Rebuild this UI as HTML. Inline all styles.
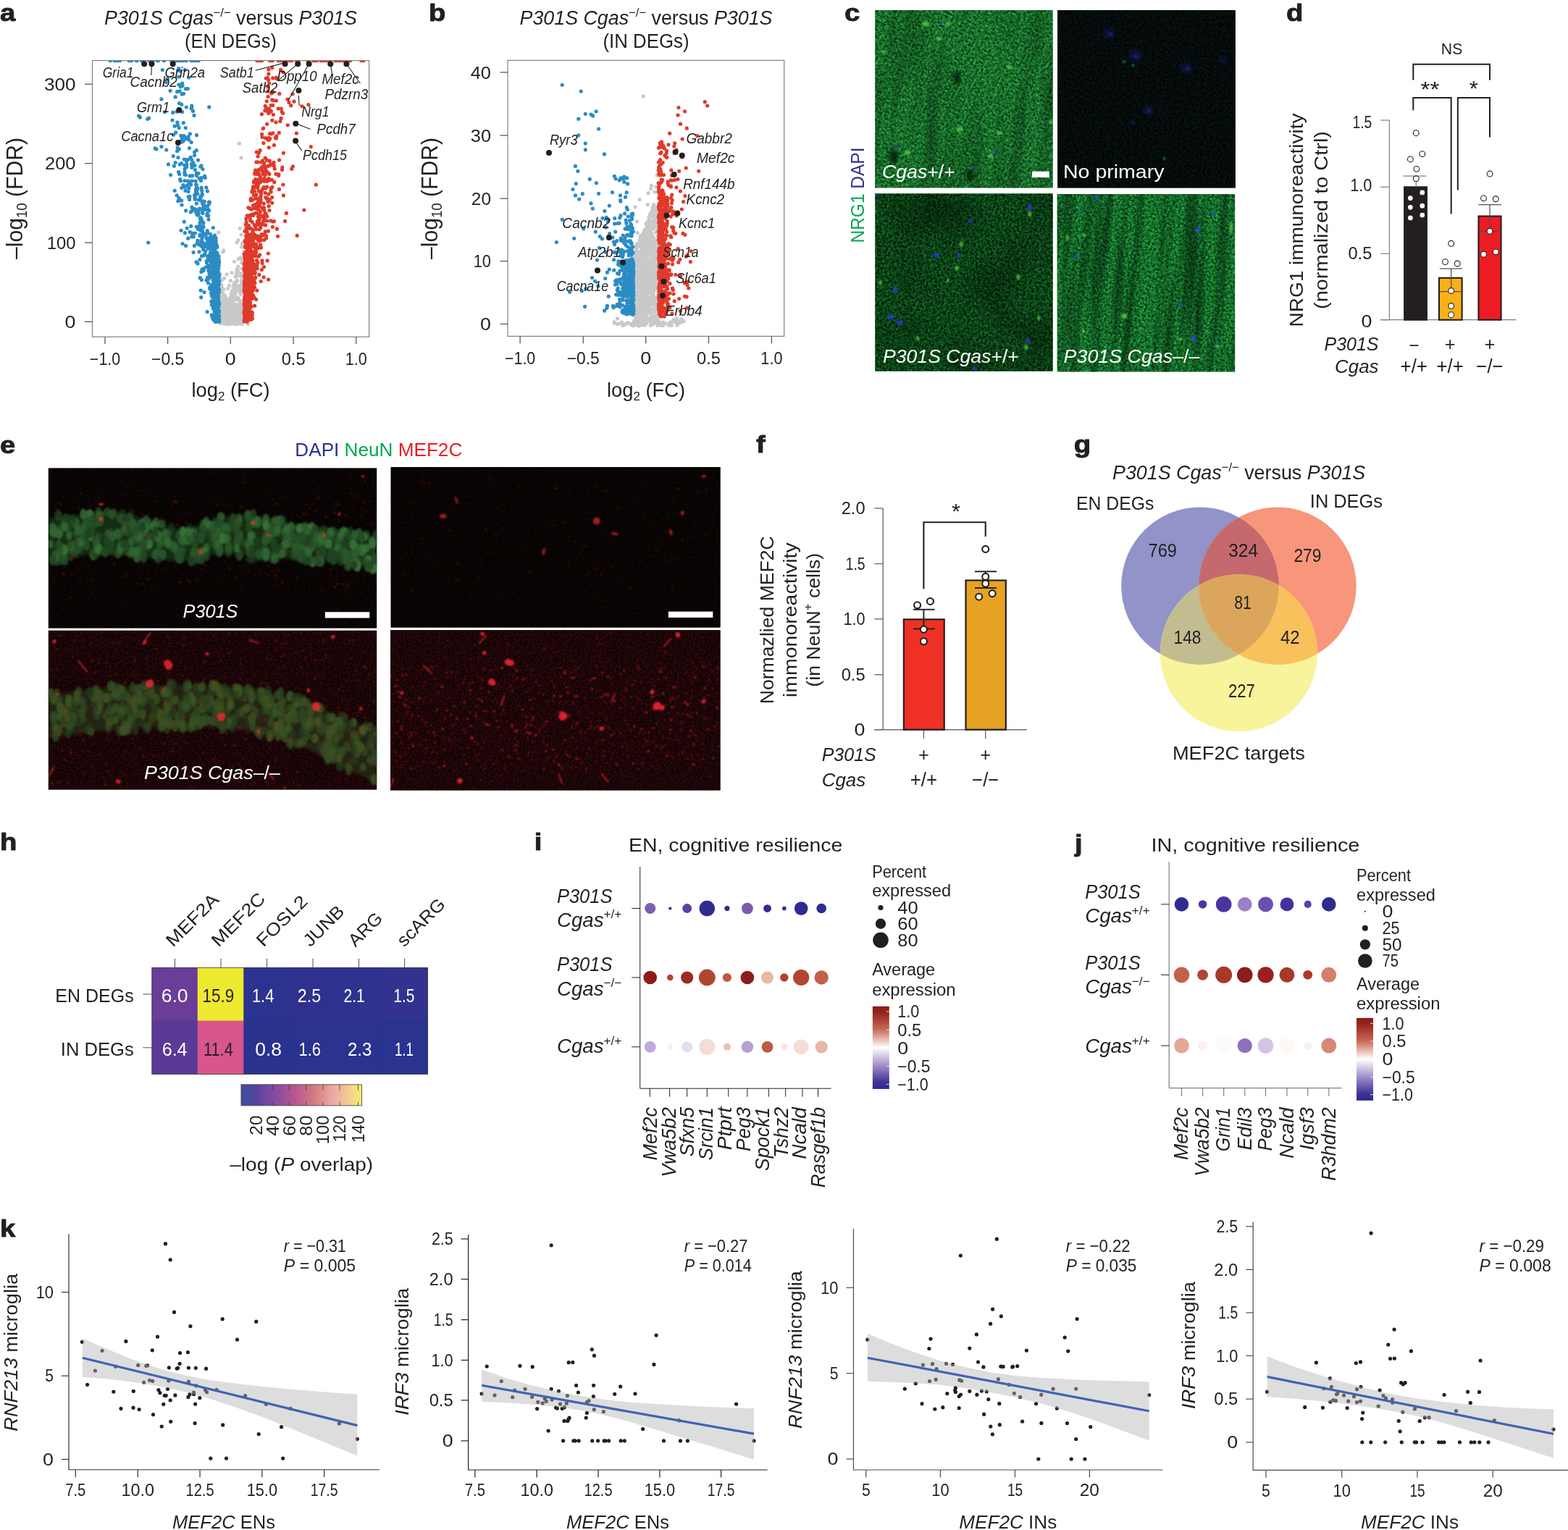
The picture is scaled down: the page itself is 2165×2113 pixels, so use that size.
<!DOCTYPE html>
<html lang="en"><head><meta charset="utf-8"><title>Figure</title>
<style>
html,body{margin:0;padding:0;background:#fff}
body{width:2165px;height:2113px;overflow:hidden}
svg{display:block}
text{font-family:"Liberation Sans",sans-serif}
</style></head><body>
<svg width="2165" height="2113" viewBox="0 0 2165 2113" fill="#231f20">
<rect width="2165" height="2113" fill="#fff"/>
<clipPath id="ca"><rect x="127.5" y="83.6" width="382.1" height="381.6"/></clipPath><g clip-path="url(#ca)">
<path d="M318.7 410.1h0M320.5 439.2h0M313.8 425.6h0M326.5 420.8h0M304.4 442.7h0M310.1 447.1h0M319 424.7h0M320.8 423.6h0M325.5 428.2h0M336.4 347.8h0M314.2 439.9h0M306.2 422.5h0M331.5 421.5h0M331.5 442.1h0M333.6 340.9h0M306.3 398.9h0M306.7 421.3h0M328.6 441.1h0M307.2 425.9h0M309.7 428.8h0M310.1 442.5h0M324.9 436.3h0M310.8 421.1h0M330.1 423.5h0M310.8 424.3h0M324.8 420.6h0M310.9 426.6h0M314.6 445.9h0M306.8 433.4h0M323.5 435.4h0M335.2 382h0M309.9 422.9h0M330.6 442.7h0M328 431.2h0M334.9 379.3h0M307.3 421.4h0M311.7 438.4h0M330.8 419.3h0M309.6 445h0M311.3 415.5h0M313 441.1h0M304.4 435.6h0M305.9 437.7h0M322.6 437.9h0M333 377.7h0M323 446.9h0M304.5 387.9h0M304.6 407.3h0M314.3 445.7h0M321.7 401.3h0M326.9 375.3h0M326.2 382.1h0M329.7 394.9h0M316.4 426.7h0M306.5 386.8h0M327.7 427.6h0M322.8 424.8h0M306.6 446.1h0M323.5 434.5h0M326.7 399.8h0M312.2 439.6h0M326 443.2h0M333.4 399.9h0M314.6 441.9h0M318 412.5h0M316.4 436.8h0M308.3 405.6h0M327.1 425.6h0M309.4 435.8h0M310.9 430.7h0M320 424.8h0M335.9 439.1h0M304.9 444.6h0M327 423.1h0M329.7 444.2h0M318.7 425h0M311.6 446.6h0M324.4 430.5h0M325.3 381.5h0M310.4 440.6h0M312.8 428.7h0M320.9 411h0M329.7 439.8h0M334.3 433.4h0M318.7 410.6h0M322.5 404.5h0M319 439.3h0M327.4 395.1h0M310.9 409.2h0M321.4 431.6h0M318.3 417.5h0M319.8 425.6h0M306 436.5h0M314.8 443.5h0M308.7 413.1h0M326.4 410.3h0M306.7 433.4h0M313.4 427.2h0M321 420.4h0M314.1 424.6h0M333.3 424.4h0M321.4 417.3h0M304.8 405.9h0M330 401.6h0M306 421h0M335.1 417.1h0M319.3 435.9h0M330.5 402h0M329.3 442.5h0M311.3 435.6h0M315.5 444.5h0M327.7 433.8h0M312.1 433.3h0M318.1 436.5h0M321.2 442.3h0M324.5 413.8h0M323.9 433.9h0M328.1 371.1h0M314.2 441.3h0M336.5 431.9h0M311.7 438.3h0M307.1 423.4h0M329.7 436.8h0M326.2 442.4h0M320.4 424.2h0M326.3 446h0M307.4 432.7h0M320.7 440.8h0M309.9 424.7h0M336.2 436.6h0M305.9 417.1h0M328.8 435h0M320.7 431.3h0M318.7 431.3h0M310.3 433.8h0M304.4 378.5h0M332 406.2h0M320.3 410.1h0M333.6 362.9h0M317.1 415.6h0M328.9 411.7h0M306.2 435h0M304.2 430.3h0M324.3 421.9h0M325.6 429.7h0M322.5 426.7h0M336.5 364.1h0M335.9 430.9h0M328 436.8h0M305.5 437.5h0M307.1 422.9h0M321.8 397.4h0M323.4 445.3h0M334.2 434.9h0M309.4 420.9h0M305.8 419.2h0M321.1 429.8h0M313.2 429.5h0M313.1 438.1h0M304.4 446.7h0M309 429.7h0M333.2 442.5h0M336.2 439.2h0M333.4 434.7h0M335.6 433.5h0M334.5 395.3h0M330.5 436.8h0M324.3 435.1h0M305.6 439.1h0M318.3 429.8h0M312.4 433.2h0M329.3 357.4h0M327.9 444.8h0M333 381h0M312.8 428.6h0M312 414.8h0M305.2 440.4h0M317.8 444h0M321.6 445.5h0M326 401.4h0M319.5 438.4h0M328.2 441.5h0M307.8 414.4h0M310.9 440.8h0M330.3 429.9h0M336.2 432.8h0M328.2 411.2h0M307.1 443.3h0M306.6 418.3h0M326.3 426.5h0M306.4 429.6h0M306.6 427.9h0M326.5 444h0M315.6 435.9h0M307.7 417h0M334.6 398.6h0M313.8 436.9h0M334.4 420.1h0M315.7 437.9h0M316.8 442.5h0M322.3 418.8h0M331.2 430.3h0M328.7 423.2h0M304.6 402.3h0M321.7 443.5h0M324.6 427.3h0M325.1 441.8h0M328.9 380h0M314.9 426.9h0M320 415h0M333.7 425.1h0M325.6 390.1h0M332.9 379.6h0M327.1 414h0M308.7 399.7h0M309.4 436.2h0M313.4 446h0M314 430h0M329.2 446.2h0M307.4 441.9h0M311.6 425.6h0M311.2 440.2h0M309.5 434.3h0M321.8 422.9h0M312.4 415.8h0M321.8 422.8h0M311.1 421.8h0M330 433.4h0M320.7 420.6h0M325.3 447.6h0M319.3 425.9h0M327.2 435.2h0M309 440.7h0M332.3 381.4h0M312.6 442.7h0M329 425.3h0M331.5 439.6h0M312.7 444.6h0M319.6 405.8h0M331.9 426.1h0M317.5 444.5h0M330.9 432.9h0M321 425h0M314.1 445.8h0M313.9 425.7h0M315.6 444.4h0M316.8 413.3h0M325.2 437.5h0M327.1 432.3h0M318.8 420.6h0M330 430.9h0M313.4 433h0M313.6 437.1h0M325.6 442.4h0M327.8 421.8h0M322.3 430.1h0M330.9 444h0M317 426.3h0M306.8 443.6h0M307.9 445.9h0M333.9 433.8h0M325 392.3h0M314.7 447.5h0M317 412.2h0M325.4 446.6h0M314.7 430h0M307.4 433.9h0M328.9 399.1h0M320.2 428.2h0M336.1 363.5h0M310.3 422.2h0M310.4 441.2h0M322.7 429.7h0M334.2 435.1h0M307.9 440.7h0M333.4 387.1h0M312.5 413.4h0M323.5 425.2h0M313.3 440.1h0M322.6 437.7h0M321.8 447h0M309.8 408h0M313.9 425.2h0M316.3 419.9h0M304.4 435h0M308.6 432.2h0M309.6 436.5h0M322.4 430.2h0M305.1 436.8h0M335.2 394h0M324.2 400.2h0M319.7 410.4h0M317.2 432.3h0M333.4 390.9h0M333.4 446.4h0M327.6 387.3h0M328.4 431.5h0M306.2 435.6h0M320.3 446.5h0M326.6 429.4h0M313.9 441.4h0M306.1 386.1h0M332.2 425.7h0M311.1 426h0M333.4 426.1h0M311.9 438.9h0M305.9 393.7h0M315.5 446.4h0M304.9 423.3h0M320.2 402.7h0M310.6 422.5h0M333.2 424.8h0M315.5 442.3h0M332.6 426.6h0M324.5 423.6h0M305.5 427.9h0M314.1 421.5h0M327.2 428.7h0M334.5 445.7h0M311.2 428.3h0M310.3 441.4h0M325.6 421.4h0M313.7 426.9h0M312.9 444.9h0M336 433.3h0M321.2 431.4h0M313.2 425.8h0M306.7 427.1h0M311.9 432.8h0M319 431.8h0M334.2 427.9h0M322 428.9h0M325.4 411.7h0M331.5 395.4h0M309.6 440.8h0M323.7 435.8h0M319.9 431.9h0M320.2 431.4h0M308.9 434.2h0M318.1 440.7h0M329.9 422.9h0M308.7 446.7h0M314.2 432h0M312.5 444.8h0M330.7 440.9h0M309.1 409.7h0M305.9 437.9h0M311 446.3h0M318.8 446.3h0M311.7 442.7h0M316.7 436.2h0M306.4 420.4h0M328.8 427.6h0M312.2 439.3h0M319 432.6h0M314.9 428.8h0M305.2 430h0M305.8 428.7h0M332.1 355.9h0M316.7 434.3h0M329.4 438.3h0M309.9 441h0M310.5 435h0M314 420.5h0M326.1 432.7h0M316.4 428.8h0M315.7 447.4h0M309.8 437.1h0M334 418.2h0M315.7 422.1h0M315.6 424h0M333.5 439h0M316.4 423.6h0M314.5 432.2h0M305.7 441.3h0M305.2 431.5h0M304.9 436.2h0M321.6 428.4h0M312.4 424.5h0M308.7 440.2h0M327.1 437.2h0M332.1 439.8h0M315.2 446.8h0M304.7 401.1h0M335.7 429.4h0M333.9 428.9h0M324.5 436.1h0M316.7 437.3h0M314.6 439.4h0M309.1 434.8h0M309.3 437.2h0M306.9 436.3h0M308.8 414.4h0M326.7 437.1h0M315.8 436.8h0M305.7 407h0M314.5 447.3h0M315.2 429.8h0M312.4 441.4h0M319.2 407h0M322.7 405.2h0M324.1 436.4h0M312.9 418.3h0M316.4 446.6h0M308.3 432.3h0M315.7 442.9h0M310.2 429.1h0M311.6 432.9h0M316.7 434.3h0M325.1 405.3h0M331 415h0M332.8 428.2h0M326.6 373.1h0M309.1 425.3h0M322.3 440h0M328.3 427.4h0M312 443h0M320.7 446.2h0M306.1 428.5h0M307.6 405.3h0M312.2 419.5h0M316.7 438.9h0M327.2 438.7h0M328.7 375.1h0M317.6 424.3h0M331 435.5h0M316.2 440h0M309.9 431.8h0M334.6 432.8h0M326.3 430.5h0M327.2 446.7h0M314.7 432.9h0M319.7 439.4h0M330 421.2h0M316.7 420.7h0M335.9 428.8h0M321.7 440.3h0M309.6 422.2h0M312.1 443.6h0M314.5 432.3h0M308.6 434.4h0M311.3 434h0M312.4 446.1h0M333 445.7h0M332.2 404.7h0M316.8 432.7h0M325.3 428.6h0M334.5 336.1h0M331.1 430.5h0M304.8 444.6h0M306.3 427.1h0M314 447.6h0M310.8 447.5h0M321.1 408.6h0M316.9 417.9h0M328.9 438.9h0M334.9 428.5h0M312.1 447.1h0M322.7 437.2h0M315.9 420.5h0M315.8 436.1h0M313 437.2h0M307 427.5h0M310.8 426.3h0M326.1 445h0M308.6 436h0M304.2 411.9h0M321.4 437.5h0M332.6 427.1h0M307.4 423.8h0M335.3 436.6h0M326.9 440.4h0M326 424.1h0M309.9 420.6h0M308.7 429.7h0M324.9 430.9h0M332.9 380.9h0M322.4 424.8h0M326.4 397h0M316.4 431.3h0M322.6 446.1h0M324.4 431.5h0M323.3 439.2h0M319.2 416.3h0M327.9 413.9h0M308 422.2h0M311.5 423.5h0M334.5 358.3h0M336.3 423.9h0M327.1 425.6h0M313 445.4h0M322 422h0M311.8 416.4h0M315.8 446.9h0M315.2 421.3h0M307.7 437.2h0M336.1 430.6h0M332.5 427.2h0M325.7 447.5h0M315 430.5h0M313 424.6h0M309.8 428.8h0M319.1 444.7h0M336.3 360.4h0M314 443.9h0M324.5 425.3h0M317.2 429.2h0M334.6 428.5h0M311.6 437.2h0M332.4 424.3h0M326 379h0M317.6 435.7h0M335 428.7h0M325.8 436.6h0M308.2 435h0M317.6 425.3h0M333.1 437.9h0M316.1 425h0M315.1 417.8h0M304.7 408.8h0M319.1 429.4h0M323.7 390.2h0M316.8 424.6h0M326.8 442.7h0M319 429.8h0M311 439.7h0M316 437h0M328.1 443.3h0M325.1 397.4h0M319.2 424.2h0M334.7 445.2h0M315.4 430.6h0M307.5 431.2h0M320.4 432.2h0M308.1 433.8h0M313.5 440h0M317.4 441.9h0M318.6 429.2h0M331.6 424.5h0M309 423.3h0M317.2 416.1h0M317.4 443.7h0M321.2 444.9h0M313.7 427.7h0M331.5 436.4h0M306.5 444.8h0M333.9 434.4h0M325.2 382.5h0M320.2 429.5h0M313.7 439.7h0M315.9 434.8h0M315.6 435.5h0M305.5 443.5h0M321.1 428h0M311.2 437.6h0M314.2 440.9h0M328.3 447.1h0M317.2 447.6h0M323.3 426.9h0M323.4 439.6h0M323.8 429h0M306.9 440.5h0M329.9 424.2h0M317 429.2h0M306.7 397.6h0M314.3 424.3h0M324.8 426.8h0M305.5 407.7h0M324.7 422.1h0M328.5 447.4h0M327.9 429.2h0M336 439.1h0M329.4 427.2h0M316.2 435.9h0M307.7 427.6h0M306.2 424.9h0M325.6 439.8h0M307.8 421.6h0M322.2 436.6h0M332.4 444.6h0M318 429.3h0M334.2 371.2h0M329.3 427.4h0M309.3 438.9h0M315.2 438.3h0M323.2 425.7h0M322.6 428.2h0M322.9 392.8h0M326.6 440.7h0M327.7 426.4h0M306 423.1h0M327.3 430.9h0M322.2 399.4h0M319.8 427.1h0M307.2 424.5h0M305 403.5h0M314.8 421.7h0M328.8 439.2h0M329.5 442.4h0M321.3 441.8h0M328.8 368.1h0M326.4 421.7h0M327.3 424.3h0M327.6 441h0M304.6 426.5h0M313.5 444.3h0M319.7 440h0M313 418.6h0M309.1 408.7h0M321.6 420.4h0M325.4 393.4h0M305.7 422.5h0M329.6 435.4h0M301.8 320.8h0M331.3 315.3h0M333 324.1h0M330.4 198.2h0M333 217.9h0M328.7 331.7h0M327 335h0M342.6 447.7h0M333.9 447.7h0M309.6 384.2h0M313.1 378.8h0M320 376.6h0M307.9 348.1h0M308.8 345.9h0M323.5 361.3h0M314.8 398.5h0M316.6 394.1h0M318.3 387.5h0" stroke="#c8c9cb" stroke-width="5.2" stroke-linecap="round" fill="none"/>
<path d="M297.3 400.6h0M293 332.9h0M299.7 377.5h0M296.6 417h0M297.5 431.4h0M302.2 366.8h0M298.7 337.9h0M301.8 377.6h0M294.3 327.6h0M299.8 341.4h0M302.2 365.7h0M300 440.9h0M289.9 328.3h0M292 343.3h0M302.2 382.8h0M301.2 382.1h0M299.7 382.2h0M301.2 385.4h0M298.6 361.1h0M302.2 387h0M298.1 386.9h0M291.6 329.5h0M301.1 428.5h0M297.7 404.7h0M287.5 333.5h0M287.8 332.2h0M290.3 343h0M300.4 442h0M296.5 374.6h0M297.1 372h0M298.2 334.1h0M294.5 383.1h0M302.3 440.6h0M289.7 341.7h0M302.7 441.6h0M293.8 346.4h0M297.8 383h0M294.3 354.9h0M302.5 444.3h0M291.6 350.6h0M296.8 345.9h0M300.3 404.8h0M299 442.6h0M298.9 413.4h0M299.9 382.2h0M298.3 364.7h0M297 416.7h0M301.9 423.6h0M299.6 414.5h0M298.8 351.8h0M298.5 416.3h0M299.3 413.7h0M296.9 414.3h0M301.4 422.6h0M300.5 408.8h0M295.9 358.6h0M296.4 351h0M298.7 435.1h0M301.4 415.5h0M295 395.4h0M300.1 400.6h0M288.2 336.8h0M301.8 398.7h0M293.8 351.1h0M297 404.4h0M300.6 399.6h0M296 374.3h0M296 388.2h0M300.4 442.8h0M302.4 399.5h0M298 336.3h0M297.2 420.1h0M287.5 330.9h0M296 404h0M298.6 427.7h0M296.7 332.7h0M298.9 428.4h0M292 340.1h0M293.5 332.2h0M301.9 400.4h0M296.4 412.1h0M301.9 435.9h0M302.5 403.3h0M301.5 408.1h0M299.8 429.9h0M297.8 380.6h0M297.2 354.3h0M298 332.5h0M302.4 418.1h0M297.4 407.8h0M293.5 335.2h0M300.9 425.5h0M300.2 377.2h0M291.7 350.7h0M297.9 390.1h0M295.9 344.4h0M296.9 421.9h0M298.1 328.9h0M298.6 354.3h0M302 438.3h0M298.3 424h0M302.7 419.4h0M297.7 418.4h0M297.2 385.4h0M301.3 389.4h0M301.3 442.6h0M301.5 439.5h0M299.4 371.3h0M297.6 388.5h0M300.3 406.9h0M293.6 340h0M298.5 395.1h0M300.1 390h0M296.9 336.4h0M289.1 333.8h0M298.5 340.2h0M294.3 384.3h0M301.7 410.3h0M300.4 358.9h0M301.4 375.4h0M295.6 332.5h0M299 432.9h0M298.7 403.4h0M294.9 385.7h0M299.6 383.6h0M300.4 444.2h0M298.9 412.6h0M298.4 369.7h0M300.1 433.8h0M297.4 387.5h0M295.1 329.8h0M302.2 392.1h0M299.5 349.9h0M292.6 346.4h0M296.7 414.3h0M299.2 384.9h0M294.3 378.8h0M298.7 386.5h0M296.9 410.1h0M299.9 385h0M301.5 421.2h0M292.4 345.8h0M287.2 328.8h0M294.9 363.5h0M294.6 360.3h0M300.1 349.7h0M298.4 348.1h0M296.7 415.6h0M300.3 441.7h0M297 403.9h0M294.3 372.3h0M291.7 334.2h0M299.3 436.8h0M297.3 431.5h0M297 341.4h0M298.5 422.4h0M292.5 354.8h0M301.7 370.8h0M302.3 358.5h0M291.9 341.9h0M292.9 351.6h0M294.3 377.2h0M298.1 368.9h0M300.1 399h0M302 441.7h0M299.6 350.4h0M295.3 367.2h0M297.7 362.3h0M300.9 407.1h0M298.8 422.3h0M293.4 363.3h0M296.1 405.3h0M296.3 336.7h0M291.5 331.9h0M289.3 330.7h0M300.8 405h0M298.6 382.7h0M298.4 440.2h0M298.7 381.1h0M300.3 356.4h0M299.2 420.9h0M300.7 415.9h0M302.6 436.1h0M298.9 402.4h0M291.3 332.3h0M299.6 395.4h0M299.7 416.6h0M297.3 331.1h0M297.3 393.2h0M296.9 354.3h0M293.8 368.6h0M297 337.8h0M294 380.5h0M301.2 382h0M302.1 353.9h0M299.6 426.6h0M297.9 412.2h0M299.6 358.5h0M295.8 353.8h0M298.2 361h0M302 393.3h0M294.8 388.3h0M299.5 339.4h0M301.4 436h0M298.5 362.3h0M300.4 429.3h0M296 376.7h0M297.7 396.8h0M296.7 363.9h0M299.2 438.9h0M302.5 429.2h0M302.7 388.4h0M300.7 435.8h0M302 389h0M288.6 331.7h0M297.9 386.9h0M295.8 407.1h0M301.1 430.2h0M297.2 418.3h0M299.3 384.3h0M295.9 397.3h0M297.5 414h0M298.3 360.7h0M299.5 401.2h0M300.3 390.9h0M298.9 370.7h0M297.3 408.5h0M298.9 390.6h0M295.2 340.5h0M296 400h0M288.8 329h0M297.6 397h0M299.8 356.9h0M293.1 358.9h0M296.3 366.9h0M297.6 393h0M297.8 417.7h0M294.1 380.7h0M297.6 404h0M300.8 442.4h0M300 353.9h0M300.8 371.9h0M295.1 397.3h0M297.1 421.2h0M299.8 437.3h0M292.4 347.4h0M298.3 398.2h0M295.1 360.3h0M296.8 356.2h0M298.1 414.7h0M297.9 378.1h0M296.5 327.8h0M298.9 352.2h0M293.1 358.6h0M298.9 412h0M298.5 382h0M299 424.7h0M292.4 338.8h0M297.2 410.2h0M301.7 394.8h0M298.5 372.8h0M294.1 381.8h0M294.2 377.1h0M297.2 402.7h0M301.2 435.5h0M295.9 362.6h0M297.2 346.5h0M300.4 412.1h0M302.6 380.9h0M297.8 400.1h0M301 426.8h0M289.9 341.3h0M301.7 414.9h0M302.4 430.5h0M294.2 350.6h0M299.5 413.2h0M302.6 362.2h0M292.2 347.6h0M298.3 419.4h0M299.5 361.8h0M297.9 340.6h0M300.2 388.4h0M296.2 392.2h0M297.3 377.1h0M295.4 327.8h0M298.8 418.1h0M297.1 426.7h0M299.6 404.1h0M296.2 393.5h0M291.7 336.3h0M295.3 423.4h0M290.9 357.8h0M272.3 336.2h0M294.6 416.6h0M291.7 416.4h0M294.8 438.6h0M292.9 436.7h0M289 377.8h0M297.1 432.7h0M277.2 401.1h0M281.8 370.9h0M297.2 436.7h0M295.1 441.8h0M295.6 422.8h0M285.4 362.7h0M292.9 404.9h0M292.5 409h0M293.3 400.8h0M294.8 413.9h0M295.9 412.4h0M292 406.4h0M295.5 411.5h0M284.3 340.7h0M292 381.7h0M277.1 335.7h0M286.7 368.1h0M288.2 359.6h0M292.5 393.8h0M290.8 382.6h0M289.8 379.6h0M275 347.8h0M296.2 417h0M295.5 407.5h0M283.6 346.8h0M295 409.4h0M274.8 338h0M285.2 360.6h0M287.9 353.2h0M291.2 395.7h0M252 336.5h0M272.9 332h0M296.7 435.3h0M279 325.4h0M292 381.3h0M283.1 338.8h0M284.1 323.1h0M284.6 322.7h0M295.3 426.2h0M292.3 366h0M277.9 375.5h0M287.7 391h0M288.3 371.9h0M294.7 423.2h0M278.8 334.1h0M294.3 417.8h0M291.5 377.8h0M287.8 373.6h0M297.3 442.2h0M291.4 363.9h0M293.7 435.5h0M282.1 403.5h0M293.1 375.9h0M291.2 366.4h0M280.7 344.6h0M291.1 351.5h0M294 440.2h0M296.2 427.2h0M297.4 440.7h0M278.3 386.4h0M294.3 405h0M288 343h0M287.3 366.6h0M286 329.8h0M290.9 375.4h0M287.5 343.5h0M291.1 356.8h0M276.2 383.7h0M295 415h0M278.2 332h0M297 436.3h0M294.9 415.3h0M280.2 340.9h0M276 324.4h0M290.2 367.5h0M288 356.5h0M295.9 437.2h0M291.6 397.3h0M297.6 438.4h0M281.2 324h0M294.8 404h0M279.1 371.8h0M294.4 422.3h0M286.5 383.2h0M292.1 375.2h0M292.3 421.2h0M292.2 434.8h0M297.3 440.3h0M285 387.1h0M285 368.5h0M282.7 351.2h0M293.3 438.1h0M296.3 426.3h0M297.6 439.8h0M284.5 336.9h0M297.2 433.8h0M282.2 340.7h0M286.6 332.1h0M296.2 430.6h0M296.1 421h0M293 419.8h0M296.1 423.8h0M291.3 378.8h0M294.3 426.1h0M291.5 382.2h0M294.1 386.3h0M291.9 369h0M295.4 403.3h0M281 335.6h0M291.4 396.3h0M285.1 329.2h0M289.5 397.4h0M289.7 398.8h0M286.9 333.1h0M294.4 409.5h0M281.4 352.5h0M275.9 358.7h0M294.9 421.6h0M278.1 339.9h0M286.1 430.6h0M278.6 353.7h0M291.1 400h0M267.3 326.9h0M280.9 373.7h0M269.4 322h0M273 364h0M295.3 426.8h0M292.8 375.3h0M290.4 348.7h0M291.1 367.4h0M291.6 404.8h0M294.5 420.9h0M256.5 339.4h0M294.3 412.2h0M291.3 359.4h0M287.3 340.4h0M291.4 376.2h0M298 444.3h0M297.1 444.2h0M277.7 410.7h0M292.6 366.3h0M290.7 356.7h0M287.7 385.4h0M268.4 339.4h0M292.9 392.8h0M293.2 395.7h0M287.9 353.5h0M291.6 360.4h0M267.1 348.5h0M293.2 419.5h0M296.6 424.5h0M293.8 393.7h0M286.7 354.9h0M271.1 361.8h0M297.3 437.3h0M296.3 440h0M274 239.3h0M279.4 288.8h0M279.8 326.7h0M262 271.4h0M271.4 239.4h0M265 249.8h0M279.4 268.9h0M287.7 298.1h0M272.8 260.3h0M276.6 300.7h0M268.9 273.8h0M270.7 254.9h0M271.8 242.8h0M256.5 241.6h0M278 228.8h0M274.4 290.4h0M284.1 324.5h0M271.3 313h0M270.6 263.7h0M287.5 289.3h0M254.3 306.2h0M258.2 315.1h0M248.7 247.6h0M241.2 263.3h0M263.4 292.9h0M255.5 258.2h0M257.1 231h0M281.2 278.1h0M240.3 229.2h0M250.6 225.7h0M280.1 294.5h0M296.5 325.1h0M244.1 269.8h0M271.3 294.8h0M275.3 246.5h0M259.7 249.9h0M273.6 316.6h0M269.4 275.2h0M280.2 289.6h0M256 263.3h0M286.4 264.1h0M280 233.6h0M281.2 285h0M284.1 289.5h0M288.6 291h0M253 255.6h0M280.4 287.3h0M286.2 318.5h0M268.9 228.7h0M260.7 259.7h0M262.1 320.3h0M256.6 290.9h0M280.9 307.5h0M249.4 249.8h0M271.2 241.7h0M262.2 242.9h0M295.4 327.9h0M276.1 325.7h0M265.1 290.8h0M269.4 234.6h0M277.4 315.7h0M279.6 318.9h0M263.8 312.4h0M266.9 224.9h0M284.8 258.9h0M269.5 271.5h0M277 273.1h0M282.6 243.2h0M272.4 313.7h0M274.3 295.7h0M282.2 278.6h0M279.5 293.2h0M235.6 241.6h0M279.9 321.9h0M283.2 245.4h0M276.6 272.6h0M277.6 301.4h0M277.5 271.2h0M259.7 329.2h0M280.3 312.2h0M257.6 222.7h0M248.3 227h0M275.7 311.5h0M245.9 277.7h0M288 303.1h0M288.7 281.7h0M282.3 278.3h0M260.9 251.7h0M270.1 267.5h0M272 290.2h0M251 283h0M283 289.2h0M294.3 314.5h0M278.5 318h0M278.9 304.3h0M286.1 295h0M286.4 296.4h0M265.5 242.7h0M255 240.9h0M232.5 226.9h0M276 307.6h0M279.6 281.2h0M263.6 255.1h0M247.1 273.7h0M285.8 297.5h0M255.4 321.7h0M270.6 292.3h0M268.5 269.8h0M272.8 267.7h0M273.8 292.8h0M275.6 288.2h0M272.5 296.9h0M250.6 276.9h0M271.3 281h0M264.8 326.9h0M261.6 275.6h0M276.4 247.3h0M270.1 250.1h0M288.4 279h0M271.4 239.9h0M280.1 323.8h0M276.9 230.2h0M268.8 288.5h0M281 313.7h0M274.3 276h0M279.1 328.8h0M255.1 233.4h0M254.9 249.5h0M260.2 271.8h0M276.8 318.1h0M257.8 227.3h0M258.5 256h0M286.6 284.6h0M264.4 226.7h0M257.7 230.3h0M278.2 259.2h0M265.1 291.3h0M278.3 306.6h0M246.5 237.6h0M264.9 231.3h0M250.1 318.3h0M279.9 277.8h0M278.1 245.6h0M271.3 257.1h0M250.8 259.6h0M242.2 224.5h0M254.8 228.3h0M279.2 267.5h0M254.9 238.1h0M276.3 276.2h0M273.5 221.1h0M269.8 289.3h0M265.4 322.1h0M279.3 279h0M271.2 255.1h0M276.7 302.7h0M283 284.1h0M292.8 327.3h0M277.6 249.5h0M286.9 321.7h0M290.7 323.6h0M278.6 263.2h0M247.6 240.6h0M271.9 259.7h0M272.2 262.6h0M270.5 261.2h0M260.1 264.6h0M289.4 279h0M264.9 286.1h0M264.9 221h0M260 188.9h0M262.4 184.8h0M245.3 172.9h0M244.9 169.1h0M251.9 118.6h0M227.5 154.8h0M249.4 195.4h0M246.8 106.1h0M271.5 186.7h0M257.3 190.1h0M244.1 154.2h0M253.8 187.6h0M246.8 116.8h0M264.7 146.2h0M244.6 126.7h0M248.1 125.8h0M229.1 113.5h0M261.4 204.5h0M264.1 149.9h0M271.3 207.7h0M255.3 96.3h0M246.8 94.7h0M241.1 174.2h0M251.2 190.9h0M264.1 196.5h0M242.8 182.9h0M222.9 136.9h0M260.5 107h0M256.3 191.8h0M257.3 148h0M239.2 215.5h0M244.6 208.7h0M251.2 129.9h0M249.4 119.7h0M246 217.5h0M268 159.4h0M238 166h0M259.1 220.4h0M238.7 155.4h0M268.5 210h0M253.6 129.4h0M259.3 122.6h0M264.8 148.4h0M251 188.8h0M249.9 187.3h0M256.4 122.7h0M256.3 176.6h0M245.9 97h0M235.1 125.3h0M263.4 217.3h0M245.2 203.8h0M247.5 142.6h0M248.9 98.1h0M251.2 196.1h0M247.3 206h0M253.3 169.6h0M247.2 176.5h0M251.7 115.2h0M251.6 154.5h0M250.8 144.3h0M231.3 108.9h0M253.4 194.6h0M242.1 133.9h0M260.8 193h0M224.3 96.5h0M266.5 153.4h0M262.8 218.7h0M239.6 186.2h0M254.4 220h0M268.6 214.6h0M248.4 83.7h0M161.7 83.7h0M244.6 83.7h0M268.7 83.7h0M211.3 83.7h0M251.4 83.7h0M188.1 83.7h0M249.6 83.7h0M181.1 83.7h0M181.7 83.7h0M266.9 83.7h0M226.7 83.7h0M240.2 83.7h0M270.5 83.7h0M165.5 83.7h0M252.2 83.7h0M217.2 83.7h0M273.5 83.7h0M158.1 83.7h0M152.2 83.7h0M205.9 83.7h0M270 83.7h0M209.3 83.7h0M237.2 83.7h0M236.7 83.7h0M263.8 83.7h0M268.7 83.7h0M178.2 83.7h0M218.4 83.7h0M195.5 83.7h0M196.8 83.7h0M245.5 83.7h0M226.3 83.7h0M256.2 83.7h0M210.6 83.7h0M242 83.7h0M189.1 83.7h0M257.3 83.7h0M247.8 83.7h0M272.6 83.7h0M274.2 83.7h0M264.1 83.7h0M204.7 335h0M193.4 162.1h0M191.6 160h0M203.8 164.3h0M205.5 163.2h0M214.2 204.8h0M215.9 205.9h0M222.9 202.6h0M229.8 207h0M288.8 147.9h0" stroke="#2b8cc4" stroke-width="5.2" stroke-linecap="round" fill="none"/>
<path d="M338.3 402.3h0M341.2 393.2h0M337.8 366.7h0M337.5 381.3h0M342.5 392.2h0M341.5 413.4h0M339.1 415.6h0M337.1 350.8h0M341.1 378.9h0M345.4 359.9h0M339 362.3h0M339.4 420.9h0M340.1 411.2h0M339.9 433.8h0M337.4 395.2h0M341.1 430.1h0M345.7 344.1h0M343.3 398.4h0M340.5 424.3h0M339.2 333.1h0M337.5 443.9h0M340.3 434.5h0M340.9 372.8h0M339.8 430.9h0M337.6 428.2h0M342.1 374.2h0M344.9 349.8h0M338.4 428.2h0M339.3 427.4h0M340.2 441.1h0M344 363.9h0M343.5 386.7h0M345.1 345.8h0M339.1 349.2h0M337.4 403.6h0M341.4 354.1h0M340.2 327.9h0M342.8 393.5h0M345.2 329.9h0M346.4 340.1h0M340.4 412.3h0M339.7 436.9h0M342.4 331.9h0M339.6 427.2h0M338.9 436.7h0M338.7 434.9h0M344.1 347.8h0M341.6 343.6h0M337.4 392.3h0M342.4 351.2h0M338 396.2h0M337.5 390.2h0M337.4 430.2h0M338 394.2h0M342.9 346.7h0M342.6 342h0M338.3 425.5h0M342.7 345.2h0M342.3 368h0M337.8 438.7h0M342.7 393.4h0M343.3 332.9h0M337.3 413.7h0M340.2 378.4h0M339.2 334.4h0M337.1 420.2h0M340 441h0M338.6 341.5h0M339.1 442.6h0M340.3 415.3h0M344.7 336.7h0M340.4 411.3h0M341.3 410.2h0M341.7 413.9h0M344.7 364.3h0M342.8 403.6h0M339.1 375.6h0M339.6 368h0M337.2 431h0M339 372.3h0M340.3 432.6h0M340.5 427.6h0M339 412.1h0M345.7 334.2h0M346.6 345.8h0M344.5 373.1h0M341.8 370.9h0M339.3 406.1h0M339 377.1h0M344.2 368.5h0M339 359.3h0M338.4 441.1h0M342.7 393.1h0M341 379.8h0M341.5 372.8h0M341.8 364.3h0M338.8 379.1h0M339 429.8h0M346.6 339.6h0M340.3 409.8h0M340.4 383.2h0M340.8 423.3h0M338 434.3h0M338.2 411.5h0M337.4 421.5h0M338.3 382.5h0M342 368.5h0M341 370.6h0M339.4 372h0M341.8 389.6h0M340.8 419h0M344.7 375.2h0M341.5 371.6h0M339.7 353.6h0M339.7 400.4h0M343.5 357.6h0M341.7 422.5h0M342.4 328.4h0M343.8 326.8h0M337.6 399h0M339.2 442.3h0M342.5 359.5h0M341.1 351.9h0M342.5 356.7h0M341.5 369.5h0M341.8 365.6h0M339.8 433.7h0M340.8 361.3h0M342.2 329.8h0M339.5 424.7h0M338.1 402.1h0M338.8 339.4h0M338.5 360.2h0M344.4 383.3h0M340.6 433.9h0M340.5 443.7h0M341.6 337.1h0M340.8 369.1h0M338.7 425.1h0M342.9 392.3h0M339.4 430.9h0M340.9 388.7h0M342.7 350.8h0M342.7 406.2h0M339.2 373.6h0M343.6 379.7h0M339.5 438.9h0M339.1 386.8h0M338.1 425.6h0M339.9 392.7h0M339.2 373.3h0M340.9 371.1h0M344.6 350.4h0M342.2 416.4h0M339.6 379.8h0M340.9 414.3h0M341.6 392.8h0M341.7 414.2h0M341.8 413.2h0M339.7 392.6h0M341.1 376.2h0M341.3 379.7h0M344.9 332.2h0M341.1 433.5h0M337.2 442.6h0M339.7 347.7h0M337.7 440.9h0M343.1 385.9h0M337.6 442.1h0M337.2 442.9h0M339.9 407.2h0M344 330h0M342.9 343.4h0M344 336.8h0M339 416h0M337.8 387.7h0M342.1 335.2h0M339.5 420.7h0M339.6 349.3h0M337.8 375h0M338 415.9h0M342 384.7h0M340.6 417.5h0M342.9 375.2h0M340.7 326.8h0M342 326.7h0M338.3 384.2h0M339.7 434.4h0M337.2 432.2h0M339.3 434.5h0M338.3 421.2h0M341.2 353.8h0M340.1 427h0M343.8 326.9h0M340.7 391.8h0M344.4 361.4h0M339.4 351.6h0M338 352.2h0M339.3 429.2h0M339.8 422.6h0M342.3 410.8h0M342.5 393.2h0M341.8 332.8h0M341.6 353.6h0M337.8 397.2h0M344.8 366.6h0M339.8 363.1h0M339.7 382.4h0M342 398.2h0M338.7 443.6h0M338.1 383.9h0M339.3 357.9h0M338.6 396.7h0M340.5 373.8h0M340.7 363.6h0M342.2 351.8h0M339.1 432h0M338.6 414.5h0M342.1 332.4h0M338.4 357.1h0M338 370h0M337.7 418.2h0M340.4 441.5h0M341 330.4h0M339.7 442.9h0M337.4 366.1h0M337.7 353.8h0M341.1 416.9h0M339.2 353.8h0M342.9 384.3h0M341.2 373.1h0M337.4 422.6h0M339.6 422.2h0M340.7 374h0M341.7 369.2h0M340.5 368.1h0M342.2 344.9h0M347 340.4h0M344.5 346.6h0M341.8 362.9h0M337.6 415.1h0M339.1 366.3h0M341.5 372h0M340.5 372.7h0M338.6 416.1h0M344.7 362.1h0M338.9 406.7h0M340 391.5h0M343.2 369.7h0M344.5 353.7h0M345.7 358.7h0M340.1 391.4h0M339.7 367.4h0M341.1 346.4h0M341 378.6h0M337.1 401.4h0M339.7 411.5h0M338.5 332h0M347 337.7h0M339.7 350.9h0M340.2 442.1h0M338.2 436.3h0M344.1 333.5h0M345.1 347.1h0M339.5 423.3h0M338.6 433.2h0M342.9 385.8h0M340.8 410.2h0M338.2 427.7h0M339.3 437.5h0M342.6 375.1h0M343.2 394.8h0M342.1 359h0M338.8 341.2h0M340.2 409.9h0M344.6 373.6h0M337.4 364.2h0M342 332.8h0M340.9 420.1h0M344 370.2h0M339 379.3h0M340.3 388.8h0M340.6 402.8h0M338.2 426.8h0M337.2 430.4h0M342.5 382.3h0M342.9 396.8h0M342.3 372.5h0M342.1 410.6h0M342.2 403.3h0M342.1 415.6h0M338.6 363.7h0M338.4 358h0M339.4 398.9h0M339.2 404.9h0M338.9 425.4h0M340.4 433.4h0M341.4 402.6h0M343.5 393.8h0M344.1 340.5h0M346 345h0M341.4 334.5h0M337.6 374.3h0M339.1 401.3h0M337.1 370.9h0M337.7 355.3h0M340.3 394.4h0M343.2 344.9h0M340.1 427h0M340.3 416.6h0M343.3 395.6h0M338.9 391.3h0M342.6 407.8h0M338.5 403.2h0M342.1 381.2h0M337.9 333.3h0M341.3 405.5h0M342 385.9h0M337.8 364.7h0M337.7 438.5h0M338.1 408.5h0M337.7 410.5h0M339 441.3h0M338.5 354.9h0M340.1 433.3h0M337.6 435h0M339.2 386.4h0M341.8 351.7h0M339.8 382.6h0M340.1 441.1h0M351.5 396.7h0M342.9 431.4h0M345.6 378.3h0M348.2 435.3h0M352 377.7h0M349 370.7h0M345.1 423.3h0M349.5 390.1h0M341.7 439.3h0M345.4 430.6h0M345.9 385.7h0M351.7 348.6h0M344.7 408.8h0M340.7 444.2h0M348.5 439.9h0M353.3 336.8h0M354 329.1h0M346.5 360.9h0M348.5 390.9h0M348.6 394.3h0M347.7 402.3h0M344.4 418.9h0M347.4 392h0M341.6 437.7h0M347.3 356.7h0M370.6 386h0M353.1 369.7h0M370.3 350h0M345.8 396.9h0M346.6 351.9h0M345.7 387h0M352.2 376.2h0M352.5 338.9h0M346.4 359.6h0M362.1 363.6h0M349.3 369h0M347.3 381.8h0M342.6 422.5h0M351.8 347h0M343.1 439.7h0M354.6 342.6h0M351.7 422.3h0M344.2 422.1h0M345 388h0M343.4 411.7h0M341.9 423.9h0M352.2 365.3h0M353.6 413.6h0M346.7 392.5h0M355.9 330.8h0M351 387.3h0M348.7 353.7h0M344.4 435.9h0M352.5 352.8h0M345.3 430.1h0M347 422.9h0M351.4 368.2h0M342.3 435.2h0M347 354.6h0M342.1 439.7h0M354.5 339.9h0M342.6 416.2h0M360.5 341.9h0M347.5 358.5h0M346.4 352.4h0M343.1 423.3h0M348.2 327.2h0M345.9 424.7h0M348.6 351h0M346.1 435.1h0M367.5 325.5h0M345.4 375h0M353.3 353.7h0M357.3 342.5h0M364.1 382.8h0M347 387.8h0M354.9 366.3h0M361.4 372.4h0M351.2 411.1h0M350.5 336.8h0M342.8 440.9h0M364.5 368.5h0M352 376h0M347.7 351.3h0M349.3 362.7h0M343.3 417.9h0M349.1 400h0M346.9 376.8h0M344.8 437.6h0M358.6 352h0M347.1 348.1h0M345.1 409.9h0M349.7 408h0M342.1 419.3h0M344.3 389.1h0M342.9 440.9h0M349.8 370.3h0M343.2 435.8h0M346.5 380.3h0M342.8 417.1h0M346.6 385.2h0M351.5 372.7h0M346.2 410.6h0M347.6 412.7h0M345.2 419.4h0M357 354.2h0M357.8 379.4h0M361.2 323.6h0M344.6 400.4h0M346.2 367.6h0M342.2 422.7h0M348.6 364.6h0M360.5 331.5h0M346.9 379.3h0M343.2 405.1h0M347.1 430.8h0M342.9 407.9h0M352 324.3h0M350.7 349.5h0M348.7 325.7h0M349.5 386.4h0M346.4 441.4h0M347.9 402.9h0M341.3 434.7h0M345.3 433.8h0M367.5 329h0M345.2 379.4h0M351.5 349.2h0M353.6 348.5h0M346 375h0M341.9 426.9h0M345.5 391.4h0M348.3 327.5h0M347.3 351.4h0M348.4 431.8h0M345.4 417.5h0M348 372.7h0M343.9 401.5h0M348.9 359.2h0M355.2 370.8h0M342.5 435.1h0M354.8 401.2h0M346.6 368.3h0M344.1 388.2h0M344.9 381.4h0M343.7 427.5h0M346 378.5h0M347.2 372.9h0M346.3 358.3h0M351.4 341.3h0M342.9 423.2h0M346 367.5h0M349.5 332.6h0M344.1 394.1h0M360.2 388.5h0M342.6 421.5h0M350.4 377.4h0M342.4 426.9h0M346.8 370.4h0M343.4 441h0M359.6 338h0M348.9 339.6h0M346.6 406.4h0M351.1 368.9h0M346.3 376.6h0M342.7 415.2h0M343.1 437.4h0M346.7 433.8h0M349.2 326.9h0M355.9 326h0M341.6 443.7h0M344.9 400.2h0M341.7 436.2h0M342 442.3h0M345.6 385.4h0M364.7 331.2h0M352.8 383.2h0M349.3 401.1h0M349.6 349.1h0M349.2 353.7h0M343.6 423.2h0M345 430.5h0M345 413.6h0M353.3 345.3h0M357.6 333h0M354.5 359.5h0M361.9 359.8h0M351.4 371.5h0M349 377h0M350.7 329.1h0M344.3 421.1h0M348 406.2h0M345.5 366.5h0M345.4 418.8h0M348.8 395.9h0M344.8 386.9h0M369.1 359.9h0M343.8 433.1h0M350.9 369.2h0M348.1 382.5h0M365.3 323.2h0M352 391.1h0M355.9 362.6h0M349.2 322.1h0M355.1 306.3h0M373.7 304.8h0M360.8 232.2h0M378.4 228.5h0M344.3 297.7h0M361.8 230.5h0M337.9 319.3h0M350.8 250.2h0M351.3 310.6h0M376.4 313.3h0M371.8 240.4h0M364.6 290h0M384.8 240.8h0M364.3 249h0M369.7 275.7h0M364.7 225.3h0M360.2 279.2h0M343.8 323.9h0M364.9 250.3h0M358.6 284.2h0M366.6 310.9h0M366.6 260.2h0M343.4 315.6h0M351.6 264h0M369.6 229.5h0M349.1 320.2h0M368.6 305h0M341.4 315.7h0M375.7 272.6h0M358.1 316.7h0M346.5 315.5h0M355.5 280.3h0M368.8 258h0M348.2 306.6h0M356.9 289.3h0M369.7 238h0M355.2 240.5h0M368.7 250.3h0M358.2 301.9h0M362.6 325.1h0M361 309.7h0M340 315h0M368.2 273.9h0M340.8 327.6h0M346.1 328.8h0M357.5 306.5h0M355.4 310.4h0M393.6 305.4h0M359.7 251.4h0M354 223.9h0M366.5 304.7h0M367.2 235.1h0M363.8 240.2h0M410.2 325.4h0M384.8 242.5h0M346.4 296.9h0M348.8 276.1h0M362.3 236.3h0M395.4 294.4h0M365.5 240.1h0M348.8 322.8h0M370.3 319.2h0M366.2 266.3h0M368.9 248.1h0M385.6 221.1h0M391.4 269.9h0M379.2 232.9h0M372 290.6h0M350.5 250.7h0M357.6 240.3h0M377.5 226.1h0M378.4 305.7h0M359.3 244.1h0M363.4 240.6h0M357.2 252.2h0M358.9 308.3h0M349.6 297.6h0M363 236.2h0M360.5 249.3h0M372.3 276h0M355.5 288.7h0M359.4 292.7h0M363.5 260.1h0M361.8 262.6h0M352.6 274.1h0M367.4 295h0M357.8 282.3h0M378.8 251.4h0M354.5 249.7h0M370.6 268.2h0M370.3 278.8h0M365.4 299.8h0M356.6 304.1h0M365.9 233h0M374.1 265h0M351.5 287.8h0M355.8 259.4h0M345.5 304.3h0M349.5 257.8h0M347.2 289.1h0M366.2 242.1h0M363.7 297.5h0M357.3 264h0M362.5 221.8h0M368.8 299.1h0M356.9 276.6h0M364.4 286.9h0M366.2 319.9h0M368.2 221.2h0M340.2 306.9h0M366.7 272.6h0M358.7 277.5h0M382.4 316.2h0M359.8 314.6h0M359.4 327.8h0M377 228.3h0M351.7 294.8h0M361.4 223.3h0M354.4 252.7h0M356.7 326.7h0M359.7 234.2h0M359.2 246.8h0M389.5 234.4h0M367.1 236.8h0M357.5 296.3h0M375.8 258.4h0M348.6 317.1h0M372.1 248.8h0M357.3 234.1h0M356.5 255.2h0M364 238.5h0M381 240.3h0M364.6 246.7h0M385.5 261.4h0M376.9 306h0M350.4 269.4h0M358.2 284.4h0M404.4 229.8h0M345.2 327.4h0M347.9 264.9h0M354.1 237.7h0M363.2 240.2h0M345.4 288.2h0M375.3 248.3h0M359.1 245.7h0M352.4 283.2h0M353.9 268.8h0M351.7 239h0M358.3 308.4h0M362.3 287.2h0M361.1 224h0M347 274.6h0M346.1 274.7h0M339.3 310h0M351.9 282.7h0M345.2 301.5h0M375.7 280.3h0M357 274.5h0M340.8 320.4h0M372 222.5h0M359.4 311.4h0M371.2 284.7h0M355.2 284.7h0M339.8 302.2h0M358.7 278.9h0M348.9 261.9h0M364.5 249.6h0M364 300.6h0M360.3 269.8h0M354.1 294.2h0M351.7 258.6h0M352.7 247.5h0M364.5 228.7h0M368.1 229.9h0M351.8 240.2h0M343.4 311.5h0M356.7 238.4h0M348.1 264.9h0M367.1 230.3h0M353.9 255.4h0M355.8 248.1h0M372 228.8h0M346.1 277h0M369 273.8h0M364.3 258.6h0M362 298.9h0M352.6 235.1h0M342.9 286.8h0M364.7 258.3h0M402.8 233.2h0M363.6 305h0M363.6 309.9h0M353.1 270.8h0M357.6 250.7h0M355.8 239h0M390.9 255h0M341.3 297.9h0M352.5 312.7h0M374.2 260.2h0M364.2 281.2h0M358.2 302.7h0M348.4 322.3h0M366.1 294h0M383.6 326.3h0M363.7 289.1h0M359.8 271.8h0M348 296.2h0M360.5 266.4h0M353.5 248.6h0M353.5 316.6h0M349.3 283.9h0M358.2 296.4h0M373.9 262.9h0M369.6 249.6h0M373.6 226.8h0M363.4 288.6h0M360 275.4h0M357.2 253.3h0M369.2 275.4h0M350.6 252h0M389.8 231.1h0M339.7 325.3h0M346.8 274.2h0M370.9 246.5h0M356.4 299.1h0M381 168.9h0M377.4 158.3h0M366.7 190.7h0M390.6 156.4h0M368.1 220.6h0M366.2 146.3h0M375.8 93.4h0M376.8 183.9h0M371 193.5h0M377.1 127.1h0M369.4 107.7h0M371.3 203.8h0M389.3 154.5h0M369.8 120.1h0M398.9 141.3h0M370.2 133.6h0M371.7 150.4h0M390.9 99.7h0M372.4 184.5h0M372.8 191.6h0M359.1 207.7h0M381.9 108.4h0M376.7 145.3h0M367.2 108h0M368.7 171.3h0M388.2 150h0M370 126h0M388.1 163.4h0M361.5 157.7h0M361.6 185.3h0M406.1 140.2h0M356.1 216.1h0M374.2 145.7h0M381.8 187.8h0M371.8 115h0M381.5 190.9h0M365.8 152.8h0M386.9 167.6h0M369.6 154.3h0M363.6 177.1h0M375.8 166.2h0M380.3 190.4h0M372.3 222h0M397 137h0M385.3 183.3h0M362 189.4h0M374.7 129h0M374.3 185h0M366.2 218.1h0M376.6 107.8h0M368.2 139.8h0M363.2 177.5h0M374.4 153.5h0M381.4 139h0M368.2 149.5h0M384.3 149.9h0M370.5 110.2h0M370.9 102.2h0M387.5 96.3h0M367.1 148.2h0M370.8 156.4h0M375.8 137.8h0M378 224.4h0M385.8 129.4h0M370.8 95.9h0M357.4 211.3h0M391.4 211.3h0M381.7 108.4h0M363.9 197.6h0M376.1 127.9h0M372.4 154.9h0M378.5 200.4h0M356.2 223.8h0M397.2 172.8h0M381.6 107.2h0M404.1 129.8h0M371.2 190.4h0M377.7 138.8h0M354.2 210.1h0M369.8 192.8h0M355.1 83.7h0M395.5 83.7h0M389.2 83.7h0M476.9 83.7h0M356 83.7h0M498.9 83.7h0M359.1 83.7h0M466.3 83.7h0M386.3 83.7h0M372.7 83.7h0M425.1 83.7h0M386 83.7h0M355 83.7h0M361.7 83.7h0M437.3 83.7h0M444.8 83.7h0M500.8 83.7h0M373.5 83.7h0M454.2 83.7h0M384.3 83.7h0M409.4 83.7h0M376.4 83.7h0M393.7 83.7h0M483.6 83.7h0M373.4 83.7h0M395.5 83.7h0M482.4 83.7h0M399.5 83.7h0M462.8 83.7h0M412.3 83.7h0M385.2 83.7h0M444.9 83.7h0M432.5 83.7h0M389.4 83.7h0M501.8 83.7h0M358.8 83.7h0M470.2 83.7h0M445 83.7h0M442.9 83.7h0M402.8 83.7h0M450.3 83.7h0M356.1 83.7h0M435.7 83.7h0M473.5 83.7h0M393.2 83.7h0M448.7 83.7h0M436.3 255.1h0M419.8 290.1h0M429.3 202.6h0M425.9 144.6h0M417.2 146.8h0M409.4 184h0M401.6 145.7h0" stroke="#e03a2a" stroke-width="5.2" stroke-linecap="round" fill="none"/>
</g>
<rect x="127.5" y="83.6" width="382.1" height="381.6" fill="none" stroke="#808080" stroke-width="1.2"/>
<line x1="145" y1="465.2" x2="145" y2="475.2" stroke="#4d4d4d" stroke-width="1.2"/>
<text transform="translate(145 504.2) scale(0.9118 1)" font-size="23.5" text-anchor="middle">−1.0</text>
<line x1="231.6" y1="465.2" x2="231.6" y2="475.2" stroke="#4d4d4d" stroke-width="1.2"/>
<text transform="translate(231.6 504.2) scale(0.9726 1)" font-size="23.5" text-anchor="middle">−0.5</text>
<line x1="318.3" y1="465.2" x2="318.3" y2="475.2" stroke="#4d4d4d" stroke-width="1.2"/>
<text transform="translate(318.3 504.2) scale(1.1418 1)" font-size="23.5" text-anchor="middle">0</text>
<line x1="405.1" y1="465.2" x2="405.1" y2="475.2" stroke="#4d4d4d" stroke-width="1.2"/>
<text transform="translate(405.1 504.2) scale(1.0071 1)" font-size="23.5" text-anchor="middle">0.5</text>
<line x1="491.7" y1="465.2" x2="491.7" y2="475.2" stroke="#4d4d4d" stroke-width="1.2"/>
<text transform="translate(491.7 504.2) scale(0.9208 1)" font-size="23.5" text-anchor="middle">1.0</text>
<line x1="117" y1="116.2" x2="127.5" y2="116.2" stroke="#4d4d4d" stroke-width="1.2"/>
<text transform="translate(104.5 124.9) scale(1.1124 1)" font-size="23.5" text-anchor="end">300</text>
<line x1="117" y1="225.7" x2="127.5" y2="225.7" stroke="#4d4d4d" stroke-width="1.2"/>
<text transform="translate(104.5 234.4) scale(1.0848 1)" font-size="23.5" text-anchor="end">200</text>
<line x1="117" y1="335.1" x2="127.5" y2="335.1" stroke="#4d4d4d" stroke-width="1.2"/>
<text transform="translate(104.5 343.8) scale(1.0129 1)" font-size="23.5" text-anchor="end">100</text>
<line x1="117" y1="444.4" x2="127.5" y2="444.4" stroke="#4d4d4d" stroke-width="1.2"/>
<text transform="translate(104.5 453.1) scale(1.1418 1)" font-size="23.5" text-anchor="end">0</text>
<line x1="209.4" y1="88.2" x2="208.9" y2="104" stroke="#231f20" stroke-width="1.1"/>
<line x1="352.6" y1="97.2" x2="393.6" y2="86.6" stroke="#231f20" stroke-width="1.1"/>
<line x1="383" y1="111.9" x2="411.2" y2="88.2" stroke="#231f20" stroke-width="1.1"/>
<line x1="426.6" y1="88.2" x2="397.7" y2="138.9" stroke="#231f20" stroke-width="1.1"/>
<line x1="456.3" y1="88.2" x2="458.6" y2="102.9" stroke="#231f20" stroke-width="1.1"/>
<line x1="478.4" y1="88.2" x2="497.4" y2="115.3" stroke="#231f20" stroke-width="1.1"/>
<line x1="411.2" y1="171.6" x2="428.6" y2="178.4" stroke="#231f20" stroke-width="1.1"/>
<line x1="409.9" y1="198.3" x2="416.9" y2="208.4" stroke="#231f20" stroke-width="1.1"/>
<path d="M412.4 131.7L413 144.6L415.7 146.4" fill="none" stroke="#231f20" stroke-width="1.1"/>
<circle cx="199.2" cy="88.2" r="4" fill="#231f20"/>
<circle cx="209.4" cy="88.2" r="4" fill="#231f20"/>
<circle cx="238.7" cy="88.2" r="4" fill="#231f20"/>
<circle cx="393.6" cy="88.2" r="4" fill="#231f20"/>
<circle cx="411.2" cy="88.2" r="4" fill="#231f20"/>
<circle cx="426.6" cy="88.2" r="4" fill="#231f20"/>
<circle cx="456.3" cy="88.2" r="4" fill="#231f20"/>
<circle cx="478.4" cy="88.2" r="4" fill="#231f20"/>
<circle cx="412.4" cy="125" r="4" fill="#231f20"/>
<circle cx="247.3" cy="152" r="4" fill="#231f20"/>
<circle cx="245.9" cy="197.1" r="4" fill="#231f20"/>
<circle cx="408.3" cy="170.7" r="4" fill="#231f20"/>
<circle cx="408.1" cy="194.6" r="4" fill="#231f20"/>
<text transform="translate(141.7 106.9) scale(0.8997 1)" font-size="19.5"><tspan font-style="italic">Gria1</tspan></text>
<text transform="translate(179.4 120.4) scale(0.9760 1)" font-size="19.5"><tspan font-style="italic">Cacnb2</tspan></text>
<text transform="translate(227.4 106.9) scale(0.9517 1)" font-size="19.5"><tspan font-style="italic">Grin2a</tspan></text>
<text transform="translate(303.7 106.9) scale(0.9243 1)" font-size="19.5"><tspan font-style="italic">Satb1</tspan></text>
<text transform="translate(334.6 128.3) scale(0.9596 1)" font-size="19.5"><tspan font-style="italic">Satb2</tspan></text>
<text transform="translate(382.4 111.9) scale(0.9606 1)" font-size="19.5"><tspan font-style="italic">Dpp10</tspan></text>
<text transform="translate(444.4 115.7) scale(0.9680 1)" font-size="19.5"><tspan font-style="italic">Mef2c</tspan></text>
<text transform="translate(448.4 137.4) scale(0.9679 1)" font-size="19.5"><tspan font-style="italic">Pdzrn3</tspan></text>
<text transform="translate(189.1 154.7) scale(0.9251 1)" font-size="19.5"><tspan font-style="italic">Grm1</tspan></text>
<text transform="translate(416.2 161) scale(0.9062 1)" font-size="19.5"><tspan font-style="italic">Nrg1</tspan></text>
<text transform="translate(167.2 195.3) scale(0.9381 1)" font-size="19.5"><tspan font-style="italic">Cacna1c</tspan></text>
<text transform="translate(437.6 185.2) scale(0.9586 1)" font-size="19.5"><tspan font-style="italic">Pcdh7</tspan></text>
<text transform="translate(418 221.3) scale(0.9208 1)" font-size="19.5"><tspan font-style="italic">Pcdh15</tspan></text>
<text transform="translate(0 29) scale(1.16 1)" font-size="33" font-weight="bold" stroke="#231f20" stroke-width="0.9" stroke-linejoin="round">a</text>
<text transform="translate(318.5 34.1) scale(0.9823 1)" font-size="27.3" text-anchor="middle"><tspan font-style="italic">P301S Cgas</tspan><tspan font-size="16.93" dy="-11.47">−/−</tspan><tspan dy="11.47"> versus </tspan><tspan font-style="italic">P301S</tspan></text>
<text transform="translate(318.5 65.8) scale(0.9407 1)" font-size="27" text-anchor="middle">(EN DEGs)</text>
<text transform="translate(318.5 547.6) scale(1.0111 1)" font-size="27" text-anchor="middle"><tspan>log</tspan><tspan font-size="16.74" dy="5.4">2</tspan><tspan dy="-5.4"> (FC)</tspan></text>
<text transform="translate(30.5 274) rotate(-90) scale(0.9410 1)" font-size="32" text-anchor="middle"><tspan>–log</tspan><tspan font-size="19.84" dy="6.4">10</tspan><tspan dy="-6.4"> (FDR)</tspan></text>
<clipPath id="cb"><rect x="701" y="83.4" width="381.7" height="381"/></clipPath><g clip-path="url(#cb)">
<path d="M906.5 293.4h0M878 403.1h0M893.2 423.4h0M890.3 390.1h0M876 379.9h0M889.5 352.2h0M887.4 354.2h0M895.2 358.3h0M908.1 320.2h0M887.7 363.9h0M885.8 393h0M899.5 380h0M897 423.6h0M886.2 423.9h0M879.1 445.2h0M884.5 348.7h0M886.4 413.5h0M885.5 379.2h0M884 359.2h0M899.2 411.8h0M893.7 362.2h0M907.2 288.1h0M877.1 446.8h0M902.6 290.8h0M902.5 359.8h0M908.7 388.2h0M908.2 416.3h0M877.8 428.3h0M906.8 411.4h0M878.7 430.7h0M893.6 412.5h0M889.5 388h0M886.8 341.9h0M905.5 379.6h0M898.7 349.3h0M883.3 401.7h0M901.3 362.3h0M903.2 350.9h0M886.5 343.6h0M883.6 439.3h0M894.2 415.7h0M894.2 385.5h0M899.5 393.9h0M901.8 316.2h0M882.1 428.7h0M890.4 438.4h0M898.9 344.6h0M893.5 374.9h0M885.3 438.1h0M904.9 364.6h0M901.5 352.4h0M885.1 407.2h0M885.4 404.9h0M888.3 344.3h0M891.4 414.3h0M884.6 424h0M884.1 386.1h0M878.9 436h0M894.4 327.6h0M884 418.2h0M908.5 441.8h0M902.5 392.4h0M880.2 438.7h0M900.2 345h0M885.1 342.2h0M897.4 308.4h0M906.1 446.1h0M895.9 346.2h0M891.1 370.4h0M901.3 351.7h0M895.2 430.2h0M878.3 425.9h0M889.6 368.8h0M893.3 386h0M887.5 352.5h0M906.5 302.3h0M908.4 426.1h0M888.1 338.8h0M876.5 374.6h0M900.9 416.2h0M889 409.8h0M889.7 368.5h0M889.2 408.9h0M897.9 423.4h0M903 292.5h0M893.4 388.5h0M895.8 300.7h0M897.6 439.9h0M903.7 387.8h0M877.1 410.5h0M908.2 325h0M897.8 424.5h0M895.6 367.5h0M892.6 432.3h0M877.5 433.8h0M896.9 359.1h0M900.6 365.6h0M881.9 338h0M884.3 391h0M893.7 406.4h0M907.8 319.2h0M894.5 426.5h0M898.5 344.1h0M879 337.1h0M879 440.2h0M878 368.9h0M907.6 360.9h0M884.4 327.9h0M897.1 418.9h0M900.1 438h0M903 415.3h0M877.3 433.8h0M908.2 315.6h0M900.9 359.2h0M902.2 426.8h0M902.2 357.5h0M892.6 389.5h0M904.1 397.9h0M897.9 323.1h0M882.2 353h0M880 386.8h0M908.2 374.9h0M892.4 374.8h0M893.4 317.2h0M902.3 405.5h0M895.5 341.9h0M907.4 426.8h0M892.4 421.3h0M892.2 338.2h0M878.6 410.3h0M905.2 422.9h0M893.8 444h0M895.3 331.9h0M900.1 365h0M896.8 381.7h0M877 419.6h0M900.2 328.9h0M886.6 397.7h0M891.5 392.6h0M897.8 340.8h0M881.1 336.4h0M876 364.9h0M898.7 342.1h0M901.3 295.9h0M907.3 290.3h0M880.1 391.4h0M892.9 356.6h0M896.2 309.1h0M888.8 368.9h0M888.8 429.5h0M875.6 419.2h0M877.9 411.6h0M906.6 334.6h0M903.9 430.7h0M895.8 309.5h0M889.6 415.4h0M878.4 372.9h0M883.9 326.6h0M898.5 294h0M880.2 363h0M900 366.5h0M895.1 441.6h0M887.9 349.4h0M879.1 437.2h0M879.1 354.8h0M887.2 367.7h0M886.5 354.5h0M890.6 363.9h0M904 299h0M900.5 372.3h0M901.4 331.4h0M903.8 358.9h0M896.9 381.7h0M899.8 313.6h0M890.1 334.5h0M897.5 443.8h0M904.9 431.1h0M908.7 317h0M902.5 367.5h0M881 399h0M902 417.7h0M888.3 399.4h0M907.8 417.5h0M903.4 411.4h0M896.8 420.1h0M878.1 429.3h0M906.1 362.2h0M882.4 448.9h0M887.8 445.8h0M889.1 386.8h0M896.5 327h0M884.3 432.6h0M878.4 440.5h0M883.6 439.3h0M904.1 368h0M892.4 442.7h0M876.7 448.5h0M892.3 330.4h0M875.2 417.8h0M894.8 345.9h0M907.6 335.1h0M903.5 312.7h0M891.7 345.1h0M903.8 397.2h0M908.2 395h0M901.8 412h0M905.9 309.4h0M888.6 358.5h0M905.8 434.1h0M892.5 392.1h0M878.9 390.3h0M877 409.6h0M878.4 347.6h0M876.3 430.2h0M899.9 338.8h0M906.8 421.9h0M886.7 346.9h0M880.5 361.6h0M907.6 421.2h0M899.8 420.9h0M893.4 419.4h0M887.3 332.7h0M894.9 345.4h0M881.6 358.1h0M902.8 362.7h0M877.7 380.7h0M907.4 389.6h0M900.8 294.3h0M898.2 319.6h0M875.7 401.7h0M905.1 415.7h0M880.8 368.6h0M901.7 414.3h0M894.1 376.7h0M886.8 363.6h0M883.6 383.1h0M907.1 398.7h0M884.4 391.3h0M903 336.8h0M889.8 382h0M895.6 362.6h0M888.8 369h0M889 424.6h0M875.7 382h0M878.3 439.4h0M885.3 446.6h0M889.9 347.5h0M888.4 372.2h0M902.7 388.9h0M898.9 341.3h0M880.3 413.8h0M883 364.7h0M880 447.2h0M899.1 437.2h0M907.4 316.4h0M902.5 445.7h0M884.4 446.7h0M896.8 395.3h0M900.5 406.6h0M879.1 358.8h0M891.8 327.5h0M897.8 306.3h0M877.9 355.2h0M898.3 326.1h0M900.9 406.7h0M898.2 320.8h0M892.6 345.1h0M882.3 426.1h0M896.1 305.8h0M886.8 340.2h0M887.8 419h0M887.9 358.2h0M892.4 362.5h0M892.7 387.2h0M904.6 339.2h0M892.2 391h0M898.2 438.8h0M882.7 443.8h0M887.4 391.8h0M882 399h0M885 390.6h0M901.1 447.2h0M890.4 361.1h0M887.6 357.9h0M903.2 442.8h0M881.8 402.4h0M905.7 298.6h0M896.2 328.8h0M893.3 423.5h0M901.8 403.2h0M878.2 419.1h0M876.7 413h0M875.8 419.9h0M883 409.7h0M877 340.8h0M883.2 378.5h0M883.6 417.4h0M884.5 443.8h0M883 353h0M886.4 405.7h0M904 305.6h0M890.5 430.1h0M888.6 349.2h0M904.5 384h0M881 435.2h0M877.7 404.3h0M905.8 320.6h0M886.4 398.5h0M883.1 418.5h0M906.6 367.4h0M883.1 444.6h0M892.5 383.8h0M880.1 447h0M906.6 296.4h0M904.5 347.6h0M891.1 397.3h0M904.1 359.1h0M877.5 360.3h0M887.3 325.4h0M899.7 368.3h0M891.6 411.6h0M884.5 373.1h0M893.9 340.9h0M881.3 392h0M880.3 340.3h0M903.8 365h0M896.8 341.9h0M893.3 314h0M892.2 342.2h0M878.4 401.4h0M882.4 398.1h0M893.2 351.9h0M876.9 437.4h0M886.5 342.7h0M875.7 432.6h0M900.3 291.5h0M894.7 409.9h0M890 318h0M904.9 428.8h0M897.3 364.9h0M892.4 400.7h0M906 389.9h0M880.7 434.6h0M896.9 415h0M902.6 393.2h0M900.1 345.9h0M896.2 401.3h0M886.4 421h0M892.6 422.7h0M878.1 427.7h0M880.5 356.2h0M893.3 389.3h0M877.7 364.6h0M880.2 374.4h0M899.1 392h0M888.3 342.5h0M880.2 347.3h0M881.2 362.8h0M896.3 382.1h0M877.3 420.6h0M890.1 380.1h0M888.6 412.8h0M896.1 432h0M875.3 432.6h0M895.5 378.6h0M891.3 403.6h0M884.1 371.2h0M883.3 367.1h0M893.1 335.9h0M879.5 390.3h0M890.7 428.7h0M897.4 432.4h0M898.9 432.4h0M876.3 391.8h0M876.3 447.2h0M900.3 388h0M902.8 328.4h0M894.7 331.7h0M901.9 407.7h0M876.3 375h0M892.7 383.5h0M876 387h0M895 322h0M891.2 340.4h0M880.2 376.2h0M886.5 387h0M885.1 353.6h0M900.5 326.3h0M888.9 416.4h0M883.9 368h0M878.6 353.6h0M875.7 399.5h0M907.7 367.6h0M893.7 411.6h0M875.9 389.5h0M902.3 437.1h0M878.7 347.5h0M902.8 378.9h0M908 394.9h0M893.1 372.2h0M877.6 437.3h0M876.5 394.7h0M880.6 350h0M887.4 389.4h0M905.5 369.7h0M896.5 313.8h0M884.4 392h0M902.3 341.4h0M875.3 352.6h0M879.5 426h0M879.6 396h0M898.7 367.5h0M898.5 297.7h0M899.1 440.7h0M885.2 335.4h0M899.9 398.9h0M889.5 318.8h0M886.5 396.2h0M905.8 321.3h0M894.9 338.4h0M888.4 369.1h0M899.4 393.7h0M891.8 397h0M886.1 441.3h0M880.5 409.3h0M908 294h0M898.5 346.7h0M907.6 435.4h0M875.3 412.3h0M897.4 296.2h0M893 368.2h0M898.8 331.7h0M875.3 364.5h0M905.2 301.6h0M890.6 385.4h0M892.7 399.1h0M891.4 375.1h0M877.4 442.9h0M881.5 362.3h0M908.7 304.7h0M889.9 376.3h0M908 446.9h0M898.6 311.6h0M906.7 379.9h0M883.2 348.8h0M900.3 397.6h0M901.1 374.5h0M885.8 329.1h0M875.3 376.9h0M908.8 294.5h0M893.9 359.8h0M884.1 427.8h0M876.3 446.4h0M906.4 299.5h0M885.6 406.3h0M898.7 415.6h0M884.2 334.2h0M888.3 322.2h0M880 425.1h0M886.9 421.5h0M895.1 402.8h0M880 365.1h0M884.9 435h0M876.1 397.7h0M885.7 357.5h0M897.6 321h0M887.4 402.9h0M900.8 370.8h0M881 421h0M904 380.7h0M877.7 353.2h0M879.5 441.3h0M892 316.2h0M908.5 305h0M898 333.8h0M876.4 367.1h0M892.7 363.6h0M903.7 421.1h0M885 384.9h0M901.1 394.2h0M900.2 368.2h0M893 385.9h0M882.3 348.2h0M883.8 404.9h0M885.2 355.3h0M878.1 411.5h0M887.6 375.4h0M887.4 433.6h0M892.7 360.9h0M877.3 391.3h0M883.7 355.5h0M875.6 417.4h0M886.8 430.9h0M881.4 409.7h0M877.8 380.3h0M907.2 350h0M907.8 423.4h0M892.3 372.8h0M903.4 430.2h0M894.1 385.3h0M881.4 431.5h0M898.3 449.1h0M904.2 383.4h0M892.6 446.8h0M902.9 398.4h0M884.9 370.5h0M893.1 363.3h0M884 385h0M896.4 303.2h0M879.7 383.2h0M880.7 421.8h0M893.6 411.1h0M890.9 395.6h0M908.7 384.6h0M886.7 341.8h0M906.6 376.7h0M888.7 364.9h0M903.2 292.7h0M895.8 352.1h0M879.7 385.5h0M881.4 407.7h0M904.2 374h0M895.9 396.4h0M904.6 355.2h0M896.4 416.2h0M887.2 394.7h0M896 359.1h0M892.5 414.6h0M885.3 413.9h0M904.6 299.9h0M891.7 366h0M876.4 412.7h0M891.6 359.5h0M897.2 375.1h0M889.3 425.1h0M902.6 409h0M886.3 386.4h0M880.5 415.8h0M903 411.9h0M899.7 362.6h0M903.6 336.7h0M894.2 306.3h0M895.3 345.3h0M903.2 345.4h0M889.2 337.4h0M886.5 324.7h0M900.1 376.8h0M877.9 365.4h0M881.2 361.1h0M907.5 439.6h0M889.5 347.2h0M904.2 380.9h0M899.9 326.6h0M908.5 345.7h0M876.8 346.9h0M901.5 305.4h0M875.3 443h0M889.1 433.3h0M904.9 358.7h0M880.7 423.6h0M893.8 313.5h0M883.5 427.6h0M907.2 388.2h0M889.8 369.3h0M895.1 364.6h0M875.2 367.6h0M906.5 337.8h0M889.9 372.7h0M901.7 407.6h0M890.6 349.2h0M904.7 334.7h0M895.6 440.8h0M875.9 388.7h0M876.5 373.5h0M898.5 404.4h0M894 373.7h0M897.3 400.4h0M908.9 354.2h0M888.2 405.9h0M897.4 388.2h0M880.6 443.6h0M892.7 356h0M900.9 394.3h0M901.9 412.2h0M899.2 307.9h0M902.9 343.1h0M890.5 388.7h0M895.4 427.5h0M901.2 316.3h0M888.6 400h0M875.8 418.6h0M894.1 369.5h0M881.6 357.6h0M905.6 347.7h0M907.8 365.2h0M901.8 357.2h0M902 414.1h0M885.8 395.5h0M879.3 375h0M899 330.3h0M890.3 420.6h0M879 370.3h0M896.7 384.9h0M892.9 357.8h0M889.7 329.8h0M892.7 417.1h0M886.1 449.1h0M889 360.8h0M886.7 430.4h0M876.7 432.4h0M903.1 305.6h0M899.9 295.6h0M897.2 326.7h0M897.7 347.8h0M878 442.2h0M907.2 287.2h0M896.9 375.7h0M890.4 342h0M880.9 413.1h0M898.7 402.8h0M895 423.6h0M902.2 339.9h0M876.2 429.2h0M893.8 404.7h0M901.6 293.9h0M879.1 344.7h0M886.2 413.2h0M899.1 370.3h0M896.5 400.1h0M878 371.8h0M886.7 367.1h0M889 394.1h0M891.6 441.6h0M888.2 362.3h0M890.1 328.8h0M905.6 377.8h0M875.5 415.5h0M887.7 430.9h0M890.5 432.5h0M882.5 382.4h0M907.1 374h0M895.6 311.7h0M905.7 395.1h0M876.8 410.1h0M890 322.2h0M879.2 366.7h0M879.8 435.4h0M877.7 434h0M897.7 350.4h0M885.9 437.1h0M904.4 388.3h0M897.2 359.7h0M883.3 434.3h0M876.2 374.4h0M896.2 387.2h0M899.9 331.1h0M895.2 376.7h0M889.3 372.5h0M903.5 366.7h0M881.9 410.2h0M896.5 421h0M876.9 369.2h0M880.7 380.7h0M894.4 378.3h0M881.6 399.8h0M884.3 420.2h0M879.4 394.4h0M879 375.7h0M881.3 446.8h0M885.6 385h0M891.7 388.2h0M904 355.5h0M877.2 355.1h0M883.2 338.7h0M875.6 433.7h0M895.8 431.1h0M906.3 428.7h0M881.6 359.8h0M904.5 310.3h0M896 374.6h0M884.7 354h0M879.2 443.2h0M893.4 410.4h0M899.7 371.9h0M878.5 438.4h0M900.5 447.9h0M896.7 403.6h0M907.7 415.9h0M881.5 414.3h0M876.3 383.2h0M898.3 316.5h0M887.1 419.5h0M897.3 318.6h0M877.6 414.1h0M878.1 430.5h0M878.1 443.2h0M891.6 425.5h0M908.6 439.2h0M886.1 378.5h0M899.2 377.2h0M908.4 371h0M886.2 384.1h0M892.1 309.2h0M897.9 427h0M879.5 445.5h0M907.4 322.9h0M884 334.6h0M878.1 442.5h0M891.4 372.7h0M895.8 327.4h0M882.1 443.5h0M882.7 393h0M907.5 387.1h0M885.7 415h0M887.4 420.1h0M907.3 331.6h0M899.6 372.4h0M889.3 345.3h0M890.1 320.1h0M899.5 435.6h0M889.1 333.4h0M885.6 364.1h0M904.3 332.1h0M886.4 434.8h0M878.7 356.7h0M894.5 375.2h0M902.3 416h0M880.3 390.4h0M899.1 327.7h0M901.6 293.3h0M908.6 389.1h0M907.2 349.3h0M887.4 408.1h0M879.2 407.9h0M891.5 322.3h0M897.1 377.6h0M902.1 382h0M888 363h0M886.9 428.8h0M876.2 359.4h0M894.5 401h0M882.8 380.5h0M904.2 312.9h0M883.7 413.2h0M887 446.7h0M896.1 381.4h0M882.9 339.3h0M890.9 364.2h0M905.1 352.6h0M903 371.7h0M894.3 427.9h0M907.8 358.6h0M882.6 419.5h0M889.6 330.8h0M885.2 364.5h0M905.8 445.9h0M880.3 435.6h0M877 399.1h0M897.7 389.5h0M900.2 344.8h0M878.1 370.8h0M893.3 407.9h0M880.3 414.4h0M908.7 290.7h0M881.3 406.5h0M879.3 382.8h0M885.2 446h0M883 332.3h0M899.4 409.5h0M882.1 448.5h0M906.1 398.2h0M894.1 353.2h0M878.7 401.4h0M896.7 310.7h0M903 388.4h0M893.2 403.9h0M907.1 290.6h0M880.3 391.9h0M885.3 387.5h0M887.5 384.9h0M888.4 442.9h0M890.6 431.1h0M905.6 432.2h0M876.8 428.7h0M877.3 423.1h0M887.1 412.7h0M905.1 345.3h0M897.7 336.9h0M885.3 395.4h0M903.4 372.7h0M905.5 286.7h0M899.4 384.8h0M883.2 368.1h0M908.1 294h0M882.2 396.8h0M903.4 401.1h0M902.5 335.2h0M896.6 318.9h0M879.9 361.1h0M902.3 351h0M901.6 300.3h0M892 446.9h0M889.1 448.2h0M892.9 435.7h0M907.9 392.9h0M899.9 321.9h0M891.3 436.7h0M886 383.9h0M885.6 364.3h0M883.7 399.3h0M894.5 330.2h0M905.3 345.2h0M898.1 385.1h0M906.4 301.5h0M891.2 418.5h0M883 374.5h0M892.3 326.3h0M889.8 402.2h0M880.6 417.5h0M898 378.5h0M905 373.1h0M907.2 335h0M876.3 400.1h0M906.6 312.5h0M879.8 417.4h0M878.4 357.8h0M890 402.7h0M886.7 359.7h0M899.7 405h0M908.7 363h0M877.6 363.8h0M893.2 427.6h0M880.8 395.7h0M887.4 422h0M903.2 427.9h0M887.3 388.5h0M890.4 321.4h0M899 356.3h0M896.9 375.9h0M895.3 395.4h0M897.2 314h0M881.8 349.8h0M878.1 442.7h0M884.5 405.9h0M891.8 371.8h0M898.9 427.8h0M908.5 435.7h0M879 400.1h0M906.9 435.1h0M900.8 286.7h0M904 297.4h0M902.1 403.9h0M875.7 410.5h0M878.1 402.8h0M883.9 425.7h0M894.1 391.5h0M902 311.6h0M877.4 405.7h0M906.1 385.9h0M899.5 435.5h0M908.2 447.7h0M876.8 415.1h0M904.6 440.8h0M907.9 291.5h0M905.3 436.1h0M878.1 428.5h0M900.6 383h0M878.3 410.8h0M876.1 375.8h0M892.1 403.1h0M902.6 371.8h0M900.9 365.3h0M896.3 365.1h0M902.6 282.5h0M889.2 435.7h0M908.4 342.7h0M890.5 320.6h0M906.7 289.6h0M875.9 402.3h0M897.8 322.2h0M900.6 417.8h0M882.7 410.2h0M877.6 385.8h0M898.3 413.4h0M908.1 351.1h0M897.5 424.1h0M886.8 443.6h0M907.3 376.3h0M900.3 324h0M875.7 410.6h0M903.7 309.5h0M877.5 360.5h0M885.9 430.3h0M894 349h0M884.3 438.4h0M889.7 428.6h0M885.3 379.4h0M895.3 345.5h0M891.5 445.6h0M906 363.7h0M883.8 448.7h0M860.8 448.8h0M912.7 449.3h0M883.4 445.5h0M874.9 445.7h0M862 448.4h0M881 449.8h0M865 447.1h0M882.2 450.1h0M871.7 448.7h0M883.6 447.2h0M885.4 445.7h0M914.9 446.4h0M886.8 445.3h0M874.7 447.9h0M860.1 447.9h0M926.1 445h0M875.7 447.7h0M871.2 447.6h0M910.4 448.6h0M925.9 444.9h0M908 449.4h0M858.5 445.1h0M924.2 446.9h0M872.6 448.8h0M915.8 449.3h0M890.3 449.2h0M867.3 445.5h0M918.8 446.9h0M880.6 449h0M859.7 449.5h0M874.7 449.8h0M874.9 449.3h0M902.2 446.4h0M923.6 449.3h0M913.9 445.8h0M918.6 446.6h0M912.2 445.7h0M857.2 446.2h0M915.7 445.2h0M848.3 446.2h0M933.9 445.8h0M940.9 440.7h0M940.9 445h0M937.7 446.2h0M852.6 439.9h0M931.4 442.5h0M934.9 449.1h0M934.6 439.7h0M930.1 444.3h0M927.2 449.4h0M944.1 443.6h0M852.8 447.4h0M848.3 444.9h0M888.2 132.9h0M898.6 260.7h0M903.9 265h0M895.2 266.7h0M883 275.4h0M876.9 285.9h0M894.3 282.4h0M879.5 305.9h0M880.4 321.5h0M879.5 337.1h0M907.3 242.4h0M936.9 443.2h0M929.9 441.4h0M899.5 256.3h0M905.6 258.1h0" stroke="#c8c9cb" stroke-width="5.2" stroke-linecap="round" fill="none"/>
<path d="M871.3 369h0M873.9 412h0M874.5 367.8h0M872.5 376.4h0M874.7 377.4h0M874.1 409.5h0M871.9 393.2h0M864.3 364h0M866.4 385h0M859.5 406h0M872.1 430.2h0M870.4 373.5h0M874.4 394.6h0M867.9 400.7h0M873 363.4h0M865.6 431.8h0M872.8 397.3h0M871.6 383.9h0M872.4 416.2h0M873.3 403.4h0M862.7 394.6h0M873.3 399h0M873.8 419.5h0M869.8 366.8h0M863.7 362.9h0M859.7 413.5h0M874.7 366.1h0M860.5 427.8h0M873.4 414.1h0M864.9 415.2h0M873.9 361.2h0M873.8 372.7h0M856.6 403.7h0M872 427.6h0M871.8 376.6h0M873.1 425.9h0M867.5 374.7h0M873.3 380.9h0M871.4 403.5h0M872 417.6h0M849.7 387.9h0M868.3 365h0M868 430.7h0M873.2 428h0M874.6 427.2h0M867.8 385.8h0M872.2 362.9h0M874.5 396.7h0M853.6 365h0M863.1 383.2h0M867.7 369.7h0M874.2 400.1h0M871.5 365.1h0M854.2 363.8h0M866 418.8h0M873.3 392.5h0M874.7 432.9h0M855.6 413.3h0M870.4 361.8h0M873.6 379.5h0M869.7 380.8h0M865.6 372.6h0M866.9 416.3h0M838.5 422.4h0M871.2 363.4h0M862 409.1h0M873.7 422.7h0M862.6 368.9h0M857.3 407.5h0M865.9 398.4h0M870 426.4h0M868.1 417.1h0M859.9 414.2h0M865.9 434h0M865.3 363.9h0M868.7 365.9h0M870.9 397.8h0M856.6 421.3h0M874.2 373.7h0M873.6 367.4h0M868.4 369.6h0M866 392.2h0M868.4 380h0M867.7 428.1h0M873.4 404.8h0M866.5 407.7h0M872.2 394.6h0M873.2 434.3h0M874.8 414.1h0M869.7 395.9h0M872.6 430h0M869.5 378.4h0M869.1 375h0M874.5 432.8h0M873.5 382.8h0M869.7 391.5h0M874.7 429h0M873.2 410.8h0M874.4 363.7h0M862.3 431.3h0M862.2 384.2h0M868.7 402.9h0M874.1 373.3h0M873.1 413h0M874 419.5h0M874.2 389.8h0M874.6 368.9h0M853.6 402.6h0M874.1 386.9h0M856 385.6h0M871.9 386.7h0M871.2 362.5h0M874.7 364.8h0M872.4 370h0M873 385.1h0M874.1 403h0M871 408.6h0M871.4 431.7h0M863.2 375.7h0M869.3 380.5h0M871.5 390h0M860.9 390.7h0M874.7 423.4h0M874.1 373.4h0M871.8 400.4h0M872 427.4h0M872.1 385.9h0M860.4 403.5h0M860.5 403.3h0M873 358.6h0M873.3 371h0M874.2 380.8h0M870.7 365.6h0M874.4 433.7h0M869.2 430.5h0M874.2 420.6h0M863.8 426.5h0M867.5 384.3h0M867.2 396.5h0M872.4 387.7h0M872.6 360.4h0M874.4 365.4h0M872.1 373h0M863.8 359.8h0M874.8 427h0M866.2 410h0M865.1 381.1h0M866.2 361.8h0M874.8 429.4h0M854.4 378.4h0M867.2 432.1h0M864.5 380.9h0M871 363h0M874.7 408.2h0M865.9 402.2h0M855.7 417.8h0M861.5 385.7h0M868.3 359.2h0M859.3 421.5h0M859.5 428.8h0M868.7 429.2h0M872 365.4h0M867.2 380.4h0M873.8 364.2h0M866.4 380.1h0M870.8 415.6h0M868 393.1h0M871.1 370.7h0M871.7 389h0M846.4 422.5h0M871.7 433.3h0M859 430.5h0M864.1 429.2h0M874.8 378.5h0M868 393.5h0M870.8 422.6h0M874.4 392.9h0M867.7 405h0M872 409h0M873.7 387.9h0M870.4 362.2h0M868.4 386.9h0M873.5 423.7h0M870.9 426.8h0M874.8 403.6h0M874.7 374.1h0M865.4 388h0M873.5 379h0M870.6 405.4h0M870.7 382.6h0M868.6 425h0M872.5 363.9h0M868 405.8h0M860 363.6h0M873.9 395.1h0M860.6 382.9h0M874.1 366.9h0M873 366.8h0M871.9 380.3h0M873.2 410.9h0M869 401.9h0M868.7 367.8h0M874 405.6h0M872.9 394.7h0M873.1 369.6h0M874 394.3h0M865.6 387.1h0M871.9 380.4h0M852.1 406.8h0M871.3 392.4h0M865.3 386.8h0M863.7 370.8h0M870.3 397.9h0M873.5 363.8h0M872.1 431.1h0M872 407.9h0M855.9 374.2h0M872.3 362.3h0M869.3 403.3h0M859.4 385.1h0M873.6 433.5h0M874.2 415.1h0M861.6 361.1h0M857.4 392h0M862.5 366.7h0M852 420.5h0M871.3 418.3h0M865.5 433.4h0M865.3 431.9h0M870.5 427.6h0M867.5 398h0M870.3 430.7h0M874.4 424.5h0M872.8 414.2h0M872.5 392.7h0M849.5 393.1h0M870.3 399.7h0M865.9 380.7h0M864 405.3h0M864.8 433.5h0M873.1 387h0M872.2 430.7h0M865.9 365.4h0M871.2 374.7h0M868.2 404.7h0M861.5 409.5h0M867.3 359.4h0M861 374h0M872.9 409.3h0M863.6 400.3h0M874.2 404.4h0M868.7 423.3h0M873 386.7h0M868.9 375.3h0M873.8 393.9h0M873.6 430.6h0M856.6 361h0M864.6 398.1h0M874.7 433.5h0M862.3 386.9h0M867.8 384h0M868.9 382.9h0M868.7 417.4h0M874.2 400.2h0M870.7 432.9h0M863.1 367.5h0M872.7 427.7h0M869.7 432.9h0M867.1 393.9h0M870.7 431.1h0M872.6 414.3h0M865.9 423.6h0M874.4 382.7h0M866.8 429.4h0M865.2 360h0M872.4 402.9h0M867.8 429.9h0M872.3 409.9h0M870.4 383.2h0M859.3 372.4h0M869.9 427.7h0M871.6 400h0M874.3 427h0M870.9 383.9h0M873.1 358.1h0M871.1 359.3h0M864.4 429.2h0M865.4 398h0M874.3 403.3h0M867.1 404.4h0M861.5 378.8h0M872.6 401.7h0M855.9 388h0M873.9 403.9h0M873.6 415.9h0M869.7 413.8h0M851.8 392.5h0M870.1 386h0M874 382.3h0M870 389.5h0M862.4 395h0M840.3 409.3h0M854.7 366.1h0M862.6 400.3h0M847.2 424.7h0M853.8 360.9h0M850.6 406.9h0M858.6 408.1h0M853.6 407.4h0M851.5 386.6h0M841.4 372h0M859.5 431.3h0M852.2 400.6h0M860.9 396.4h0M854.1 388.4h0M856.8 404.6h0M863.1 423.3h0M851.7 422.4h0M807.6 423.4h0M809.1 398.9h0M853.4 398h0M856.6 414.6h0M856 406.4h0M835.7 384.5h0M824.5 359.1h0M858.1 392.8h0M855.9 423.8h0M834.6 429.2h0M858 368.1h0M803.4 401.7h0M817.6 383.5h0M825.9 394.9h0M838.4 376.2h0M847.6 358.7h0M859.7 398.7h0M861.3 432.3h0M852.6 377.5h0M821.6 388.3h0M847.8 373.2h0M837.8 425.4h0M873.2 297.4h0M872 337.1h0M857.5 332.3h0M860.3 352.1h0M867.1 346.3h0M858.5 345h0M822.2 320.1h0M848.5 337.6h0M831.9 301.3h0M836.5 313.9h0M851.7 332.5h0M860.4 346.5h0M871.4 344.3h0M838.7 302.2h0M872.6 302.4h0M864.2 333.2h0M868.3 352.7h0M855.8 300.8h0M873.3 295.5h0M866.4 340.5h0M871.6 352.2h0M855.1 308.2h0M859.5 354.8h0M849.7 320.1h0M852.9 308.5h0M871.3 321.5h0M864.8 308.2h0M861.5 335.3h0M836 348.1h0M805.7 315.7h0M872.4 348.3h0M856.2 348.3h0M870.2 343.8h0M848.6 309h0M870 342.7h0M839.3 306.1h0M872.4 357.7h0M857.8 350.2h0M860.4 325h0M828.3 326.6h0M848.8 301.5h0M872.1 346.3h0M862.6 294.9h0M841.6 322.6h0M862.2 347.4h0M870.8 333.8h0M856.8 353.3h0M863.1 316.1h0M870.4 333.2h0M873.6 295.1h0M837.2 300.3h0M871.1 336.3h0M866.7 316.5h0M850.8 348.9h0M859.7 331.9h0M871.4 316.1h0M873.9 349.2h0M872 326.1h0M831.4 329.8h0M869.8 345.3h0M827.5 342.3h0M862.9 328.4h0M866.2 313.2h0M854.8 344.5h0M867.3 299h0M840.4 303.6h0M863.9 338.3h0M872.3 322.5h0M857 297.5h0M871.3 320h0M872.1 336.1h0M869.7 312.5h0M872.1 298.9h0M866.9 333.3h0M865.9 324.4h0M869.9 349.5h0M864.2 304.1h0M873.4 315h0M850.8 333.3h0M868.1 325.3h0M870 332.7h0M873.7 341h0M869.6 304.6h0M870.9 309.4h0M868.2 349.6h0M870 343.8h0M845.9 328h0M871.9 342.8h0M848.6 348.4h0M847.3 334h0M874.3 319.8h0M872.1 295.5h0M871.8 311.2h0M868.3 315h0M857.1 329.4h0M866.7 253.9h0M814.3 247.4h0M857.1 245.8h0M856.7 276.5h0M826.6 267.3h0M794.5 269.9h0M845.5 265.7h0M856.8 278.1h0M863.5 272.2h0M799.7 275h0M866.4 289.3h0M834.9 291.4h0M857.9 246.9h0M860.9 246.4h0M841.4 284.1h0M861.9 251.3h0M816 280.8h0M861.7 244h0M856.5 269.9h0M865.3 286.7h0M865.2 265.9h0M818.3 288.1h0M804.3 267.7h0M855.2 248.8h0M823.4 252.8h0M850.1 246.8h0M776.2 117.3h0M802.2 126h0M808.3 157.3h0M816.1 158.1h0M818.7 159.9h0M823.1 153.8h0M798.8 164.2h0M826.6 178.1h0M798.8 186.8h0M808.3 198.1h0M808.3 206.8h0M834.4 212.9h0M794.4 229.4h0M797.9 236.3h0M848.3 243.3h0M865.6 245.9h0M795.3 253.7h0M791 261.5h0M776.2 303.2h0M792.7 329.3h0M768.4 334.5h0M786.6 403.2h0" stroke="#2b8cc4" stroke-width="5.2" stroke-linecap="round" fill="none"/>
<path d="M913.5 422.6h0M911.3 388h0M913.9 337.2h0M912.2 347.3h0M912.1 361.9h0M911.9 396h0M920.5 325.1h0M920.8 429.2h0M912.1 352.8h0M913.8 278.9h0M913.8 370h0M909.8 354.2h0M913.4 406.3h0M910.4 428.7h0M910.9 370.6h0M910.9 379.6h0M916.5 338.3h0M911.6 295h0M914.8 323.8h0M919.1 317.1h0M925.7 325.9h0M920.1 411.9h0M913.9 273.4h0M911.3 268.3h0M915.8 316.3h0M920.7 320.2h0M911.9 265.7h0M922.6 363.9h0M909.6 331.7h0M914.7 366.5h0M909.6 423h0M915.3 380.9h0M911.6 296.1h0M911.7 273.7h0M911.3 412.3h0M911.8 274.8h0M909.5 421.5h0M910 378h0M911 295.4h0M912.8 276.5h0M911.9 308.3h0M915.1 325.8h0M912.3 372.6h0M910.2 302.9h0M919.6 408h0M915.8 294.7h0M914.4 358.3h0M922.7 381.7h0M911.7 368.1h0M911.3 383.2h0M909.9 321h0M914.5 306.2h0M913.7 303.6h0M919.1 394.9h0M910.7 327.6h0M911.3 323.2h0M915.7 386.1h0M914.1 346.5h0M915.7 414.5h0M910.6 400.9h0M909.7 319.4h0M911.8 296.9h0M922 423.5h0M912.6 361.8h0M913.1 361.8h0M910.8 310.8h0M909.6 265.3h0M920.3 348.9h0M917.6 313.7h0M910.8 409.2h0M914.1 316.1h0M917.4 336.7h0M913.2 300.5h0M914.6 347.5h0M911.9 354.5h0M912.9 366.3h0M921.1 388.2h0M911.3 422.5h0M909.6 398h0M915.4 283.9h0M914.2 295.2h0M910.5 426.1h0M924.9 404.9h0M911.4 322.8h0M910.5 433.6h0M915.6 268.3h0M921.5 399.1h0M910.7 407.7h0M914.1 278.2h0M914 375.6h0M918.1 294.1h0M912.5 425.9h0M916.6 380.5h0M909.8 381.3h0M913.2 422.9h0M909.8 307.3h0M911.1 371.4h0M915.2 280.4h0M917.2 437.1h0M920.2 344h0M913.3 413.4h0M917.3 385h0M910.5 365.2h0M925 391.6h0M912.8 319.8h0M922.5 419.8h0M913.4 284.4h0M909.7 348h0M910.8 359.1h0M917.9 372.5h0M921.1 305.3h0M910.5 308.7h0M911.7 378.1h0M912.1 265.4h0M916.4 341.1h0M909.7 375.3h0M909.5 376h0M914.2 406.3h0M912.7 428h0M913.9 405.5h0M910.6 328.5h0M911.8 357.2h0M913 431.3h0M909.8 368.2h0M912.3 412.1h0M913.4 348.2h0M910.9 423.5h0M918.6 301.6h0M910.5 392.5h0M919.9 409.9h0M914.9 404.4h0M913.6 299.5h0M916 316.7h0M912.5 333.9h0M912.8 294h0M913.4 306.4h0M911 266.2h0M912 383.8h0M911.5 330.6h0M910 345.8h0M917.5 384.5h0M910.1 288h0M914.5 412.2h0M910 282.6h0M911.6 394.8h0M912.5 396h0M924.8 424.7h0M911.6 276h0M910.3 327.6h0M918.5 401.8h0M912.7 294.1h0M910.8 381.4h0M913.4 361.1h0M914.3 273h0M913.9 278.7h0M911.3 415.5h0M916.4 406.7h0M918.6 290.3h0M930.9 321.8h0M912.2 284h0M912 297.2h0M910.3 325.9h0M915.2 418.5h0M911.9 368.3h0M909.5 380.5h0M926.6 273h0M910.9 391.8h0M913 325.9h0M912.9 347.4h0M915.5 276.3h0M915 297.3h0M914.2 362.6h0M919.3 276.8h0M919.1 347.2h0M913.5 353.4h0M910.1 359.6h0M917.4 403.8h0M912.1 409.7h0M918 339h0M910.9 341.9h0M909.7 384.3h0M911.7 402.7h0M911.7 428.3h0M910.3 327.4h0M914 392.3h0M914.7 388.6h0M912.6 399.6h0M910.6 322.8h0M914.7 429.5h0M916.8 402.9h0M909.8 408.7h0M914.4 365.3h0M911.4 427.1h0M915.3 289.8h0M913.9 266.5h0M909.7 328h0M910.2 331.9h0M919.1 314.8h0M911.8 313.1h0M909.7 330.3h0M910.7 383.1h0M915.3 269.8h0M910 383.3h0M911.8 435.9h0M914.4 423.8h0M916.2 347.3h0M913 394.6h0M912.5 322.4h0M921.9 406.5h0M910.4 385.2h0M929.8 356.8h0M913.5 367.5h0M912.3 286.8h0M911.4 372.1h0M912 357.4h0M910.9 359.6h0M912.9 434.9h0M913.2 434.4h0M912.4 376h0M911 330h0M912.8 329.2h0M909.8 402.4h0M910.8 344.7h0M912.7 343.7h0M922.9 372.8h0M910.8 267.7h0M910 283.4h0M913.2 299.9h0M911.3 334.6h0M911.3 317.6h0M913.6 386.2h0M917.2 414.6h0M913.6 412.4h0M910.6 336.2h0M910.2 318.1h0M918.7 286.9h0M910.2 348.7h0M921.9 352.1h0M912 348.1h0M911.8 398.2h0M910.8 295.8h0M918.9 379.5h0M912.7 429.4h0M910.4 351.2h0M916.5 353.5h0M913.1 436.9h0M918.7 373.4h0M911.7 349h0M911.8 406.8h0M913.1 404.6h0M911.6 297.5h0M916.6 277.1h0M913.3 355.1h0M909.6 284.6h0M916.3 270.9h0M911.9 363.9h0M919.9 382.7h0M909.9 384.2h0M910.7 311.9h0M921.8 421.6h0M919 433.4h0M921.8 284.8h0M910.8 371.5h0M913.3 298.2h0M918.1 377.9h0M911.7 304.4h0M912.6 433.4h0M914.3 417.8h0M912.7 375.5h0M911.8 420.9h0M909.6 427.1h0M923.2 336.5h0M914.9 376.4h0M917 281.7h0M910.1 281.2h0M910.5 362.6h0M920.7 292h0M910.4 351.9h0M909.9 357.1h0M911.1 313.4h0M921.3 338.8h0M916.4 267.5h0M910.2 420h0M911.1 378h0M920.8 283.8h0M909.5 287.3h0M912.3 286.5h0M916 355.2h0M910.5 384.7h0M912.1 307.1h0M914.2 330.9h0M911.9 413.3h0M911.4 362.4h0M910.6 333.5h0M913.9 332.1h0M909.8 426.2h0M917.8 353.5h0M926.9 327.5h0M915.5 425.8h0M910.1 320.4h0M910.4 313.2h0M910.2 429.7h0M910.8 368.6h0M911.4 417.2h0M909.7 300.7h0M910.4 299.4h0M912.3 280.7h0M916 334.6h0M910.3 364.4h0M913.4 420.5h0M909.6 410.3h0M912.9 388.7h0M909.8 326h0M916.7 324.6h0M913.8 321h0M915.7 299.2h0M910 395.6h0M910 344.4h0M912.5 318.8h0M911.1 322.4h0M920.3 374.5h0M911.3 428.6h0M909.6 419.7h0M915.9 431.1h0M909.9 383h0M914.4 374.6h0M910.3 404h0M910.7 310.8h0M913.9 391h0M913.9 326.4h0M914.5 337.3h0M910.2 281.5h0M912.4 304.6h0M912.3 369.5h0M909.9 296.9h0M913 375.4h0M910.2 365.2h0M914.5 413.8h0M909.4 299.5h0M921.7 281.9h0M909.6 331.2h0M909.7 407.9h0M916.9 340.4h0M913.1 358.1h0M911.8 418.1h0M910.2 297.4h0M915.4 405.5h0M915.1 376h0M915.9 363.7h0M910.8 268.8h0M913.3 342.2h0M920.8 417.7h0M916.1 311h0M912.2 285.7h0M921.9 275.2h0M913.4 367.4h0M910.3 383.4h0M911.3 301.7h0M912.6 334.3h0M921.3 377.9h0M910.3 282.8h0M912.7 317.7h0M910.9 350.8h0M917 361.1h0M913.8 383.1h0M915.1 340.9h0M911.2 399.2h0M909.8 413.7h0M912.9 279.2h0M913.1 265.6h0M915.3 402.7h0M919.7 372.3h0M909.8 273.4h0M912.2 277.5h0M910.3 290.3h0M910.8 374.2h0M911.8 322.4h0M932.9 379.3h0M914.9 320.4h0M912 272.4h0M911.4 427.6h0M912.8 372.3h0M917 371.1h0M911.6 383.2h0M910.2 284.2h0M916.4 348.9h0M909.9 318.5h0M910.6 395.8h0M910.8 348.5h0M911.4 381.2h0M914.9 266.6h0M911.3 417.5h0M910.4 427.6h0M909.4 357.1h0M914.5 274.1h0M910.9 334.9h0M920.7 311.4h0M913.8 277.4h0M912.8 404.4h0M913.8 294.2h0M928.9 295.8h0M928.4 359.5h0M917.5 331.6h0M929.7 314.1h0M934.2 297.8h0M926.8 286.7h0M925.3 337.8h0M933.7 296.4h0M945.8 324.3h0M948.1 409.9h0M928.8 399.5h0M920.5 347.9h0M928.5 364.9h0M927.8 355.1h0M919 415h0M918.7 368.1h0M926.9 378.9h0M922.6 289.9h0M921.5 405.2h0M923.1 290.1h0M917 395.9h0M948.9 352.5h0M930.1 406h0M923.2 381.6h0M941.3 289h0M926.8 379.3h0M938.8 358.4h0M936.2 343.7h0M918.1 288.4h0M920.1 409.6h0M917.3 351.8h0M920 426h0M918.5 429h0M925.2 378.8h0M943.6 278.6h0M920.8 428.1h0M939.3 429.5h0M921.8 420.8h0M924.7 357.5h0M924.5 291.8h0M936.7 362.4h0M921.1 346.1h0M949.1 389.1h0M921.6 381h0M916.6 344.1h0M927.7 269.1h0M943 322.4h0M947.4 354.2h0M917.7 290.2h0M920 357.1h0M919.4 299.3h0M919.8 279.1h0M918.3 355.8h0M948.8 425h0M954.2 346.8h0M916.1 424.9h0M926.4 257.2h0M924.7 289.5h0M931.2 415.9h0M929.6 318.2h0M922.8 345.3h0M945.9 270.5h0M919 300.5h0M921.6 283h0M918.1 298.3h0M929.3 400.5h0M916.7 407.7h0M920.7 415h0M926.4 258h0M927.7 313.7h0M922.4 385h0M928.1 276.4h0M932.7 322.4h0M916.8 271.8h0M918.8 329.5h0M928 433h0M929.5 291.9h0M920.8 395.1h0M922.5 351.8h0M939.8 381.1h0M933.9 258.8h0M937.6 412.6h0M939.4 264.1h0M917.1 387.1h0M917.9 364.5h0M924.6 345.4h0M924.3 373.5h0M927.3 280.7h0M918 330.4h0M916.8 273.5h0M924.1 372.9h0M918.5 357.6h0M918.4 391.9h0M917.8 388.4h0M920.3 353.1h0M928.5 398h0M945.3 390.7h0M923.5 412.5h0M921.5 339.9h0M921.3 307.7h0M926.2 299.1h0M916.4 335.2h0M918.7 309.3h0M921.4 278.8h0M920.9 272.7h0M911.7 211.9h0M909.4 224h0M913.7 197.4h0M922.3 250.9h0M920.2 211.6h0M915.2 264.8h0M913.7 203.1h0M911.8 233.7h0M910.5 229.3h0M917.9 214.5h0M935.9 247.6h0M909.7 261.4h0M912.7 226.9h0M920.4 208.4h0M913.5 195.8h0M918.6 215.5h0M927.3 249.2h0M909.4 204.3h0M920.7 217.4h0M911.3 242h0M912 199.4h0M909.9 257.2h0M931.7 248.4h0M911.3 202.2h0M910.2 264.2h0M909.6 231.6h0M922.2 253.6h0M909.5 240.3h0M934.1 207h0M909.9 235.2h0M930.8 202.1h0M909.2 235.3h0M911.2 197.6h0M909.9 257.5h0M913 210.4h0M923.1 255.9h0M917.4 204.9h0M910.8 235h0M926.5 248.9h0M941.8 217.1h0M915.2 224.5h0M911.6 220.7h0M931.7 197.8h0M911.2 252.5h0M931.3 211.5h0M909.2 252.9h0M911.8 253h0M909.1 264.8h0M912 235.4h0M926.9 235.1h0M914.7 262.9h0M913.2 248.2h0M914.4 248.3h0M927.6 242.3h0M913.6 249.9h0M912.7 237.3h0M911.4 238.2h0M911.2 234.7h0M916.5 241.6h0M914.1 248.8h0M913.7 251.1h0M910.3 236.1h0M909.6 258.2h0M913.9 241.6h0M911.2 236.1h0M973.3 140.7h0M976.8 146h0M936.9 148.6h0M945.5 153.8h0M936 159h0M939.5 171.2h0M948.2 177.2h0M924.7 184.2h0M962.9 187.7h0M942.1 192h0M923 199.8h0M916 201.6h0M964.7 236.3h0M947.3 232h0M937.7 236.3h0M953.4 361.5h0M949 393.6h0M950.8 398h0M945.5 409.3h0" stroke="#e03a2a" stroke-width="5.2" stroke-linecap="round" fill="none"/>
</g>
<rect x="701" y="83.4" width="381.7" height="381" fill="none" stroke="#808080" stroke-width="1.2"/>
<line x1="718.1" y1="464.4" x2="718.1" y2="474.4" stroke="#4d4d4d" stroke-width="1.2"/>
<text transform="translate(718.1 503.4) scale(0.9118 1)" font-size="23.5" text-anchor="middle">−1.0</text>
<line x1="805.2" y1="464.4" x2="805.2" y2="474.4" stroke="#4d4d4d" stroke-width="1.2"/>
<text transform="translate(805.2 503.4) scale(0.9726 1)" font-size="23.5" text-anchor="middle">−0.5</text>
<line x1="891.7" y1="464.4" x2="891.7" y2="474.4" stroke="#4d4d4d" stroke-width="1.2"/>
<text transform="translate(891.7 503.4) scale(1.1418 1)" font-size="23.5" text-anchor="middle">0</text>
<line x1="978.5" y1="464.4" x2="978.5" y2="474.4" stroke="#4d4d4d" stroke-width="1.2"/>
<text transform="translate(978.5 503.4) scale(1.0071 1)" font-size="23.5" text-anchor="middle">0.5</text>
<line x1="1065.4" y1="464.4" x2="1065.4" y2="474.4" stroke="#4d4d4d" stroke-width="1.2"/>
<text transform="translate(1065.4 503.4) scale(0.9208 1)" font-size="23.5" text-anchor="middle">1.0</text>
<line x1="690.5" y1="99.9" x2="701" y2="99.9" stroke="#4d4d4d" stroke-width="1.2"/>
<text transform="translate(678 108.6) scale(1.0833 1)" font-size="23.5" text-anchor="end">40</text>
<line x1="690.5" y1="187" x2="701" y2="187" stroke="#4d4d4d" stroke-width="1.2"/>
<text transform="translate(678 195.7) scale(1.0797 1)" font-size="23.5" text-anchor="end">30</text>
<line x1="690.5" y1="274.2" x2="701" y2="274.2" stroke="#4d4d4d" stroke-width="1.2"/>
<text transform="translate(678 282.9) scale(1.0384 1)" font-size="23.5" text-anchor="end">20</text>
<line x1="690.5" y1="360.7" x2="701" y2="360.7" stroke="#4d4d4d" stroke-width="1.2"/>
<text transform="translate(678 369.4) scale(0.9305 1)" font-size="23.5" text-anchor="end">10</text>
<line x1="690.5" y1="447.5" x2="701" y2="447.5" stroke="#4d4d4d" stroke-width="1.2"/>
<text transform="translate(678 456.2) scale(1.1418 1)" font-size="23.5" text-anchor="end">0</text>
<circle cx="758" cy="211.1" r="4" fill="#231f20"/>
<circle cx="932.6" cy="209.9" r="4" fill="#231f20"/>
<circle cx="941.7" cy="214.8" r="4" fill="#231f20"/>
<circle cx="930.7" cy="241" r="4" fill="#231f20"/>
<circle cx="935.3" cy="294.6" r="4" fill="#231f20"/>
<circle cx="920.4" cy="297.6" r="4" fill="#231f20"/>
<circle cx="840.9" cy="328.1" r="4" fill="#231f20"/>
<circle cx="860" cy="362.5" r="4" fill="#231f20"/>
<circle cx="825" cy="373.5" r="4" fill="#231f20"/>
<circle cx="913.4" cy="367.7" r="4" fill="#231f20"/>
<circle cx="916.4" cy="389" r="4" fill="#231f20"/>
<circle cx="914.9" cy="408.2" r="4" fill="#231f20"/>
<text transform="translate(758.9 199.5) scale(0.9400 1)" font-size="19.5"><tspan font-style="italic">Ryr3</tspan></text>
<text transform="translate(947.5 198) scale(0.9732 1)" font-size="19.5"><tspan font-style="italic">Gabbr2</tspan></text>
<text transform="translate(962.1 225.4) scale(0.9868 1)" font-size="19.5"><tspan font-style="italic">Mef2c</tspan></text>
<text transform="translate(943.2 260.5) scale(0.9671 1)" font-size="19.5"><tspan font-style="italic">Rnf144b</tspan></text>
<text transform="translate(947.5 281.8) scale(0.9724 1)" font-size="19.5"><tspan font-style="italic">Kcnc2</tspan></text>
<text transform="translate(937.1 314.7) scale(0.9226 1)" font-size="19.5"><tspan font-style="italic">Kcnc1</tspan></text>
<text transform="translate(776.3 314.7) scale(0.9834 1)" font-size="19.5"><tspan font-style="italic">Cacnb2</tspan></text>
<text transform="translate(798.2 354.9) scale(0.9514 1)" font-size="19.5"><tspan font-style="italic">Atp2b1</tspan></text>
<text transform="translate(914.9 354.9) scale(0.8971 1)" font-size="19.5"><tspan font-style="italic">Scn1a</tspan></text>
<text transform="translate(933.2 390.8) scale(0.9342 1)" font-size="19.5"><tspan font-style="italic">Slc6a1</tspan></text>
<text transform="translate(768.7 401.5) scale(0.9160 1)" font-size="19.5"><tspan font-style="italic">Cacna1e</tspan></text>
<text transform="translate(918.8 436.2) scale(0.9782 1)" font-size="19.5"><tspan font-style="italic">Erbb4</tspan></text>
<text transform="translate(592 29) scale(1.16 1)" font-size="33" font-weight="bold" stroke="#231f20" stroke-width="0.9" stroke-linejoin="round">b</text>
<text transform="translate(892 34.1) scale(0.9823 1)" font-size="27.3" text-anchor="middle"><tspan font-style="italic">P301S Cgas</tspan><tspan font-size="16.93" dy="-11.47">−/−</tspan><tspan dy="11.47"> versus </tspan><tspan font-style="italic">P301S</tspan></text>
<text transform="translate(892 65.8) scale(0.9559 1)" font-size="27" text-anchor="middle">(IN DEGs)</text>
<text transform="translate(892 547.6) scale(1.0111 1)" font-size="27" text-anchor="middle"><tspan>log</tspan><tspan font-size="16.74" dy="5.4">2</tspan><tspan dy="-5.4"> (FC)</tspan></text>
<text transform="translate(604 274) rotate(-90) scale(0.9410 1)" font-size="32" text-anchor="middle"><tspan>–log</tspan><tspan font-size="19.84" dy="6.4">10</tspan><tspan dy="-6.4"> (FDR)</tspan></text>
<filter id="bl1" x="-0.5" y="-0.5" width="2" height="2"><feGaussianBlur stdDeviation="1.1"/></filter>
<filter id="bl2" x="-0.5" y="-0.5" width="2" height="2"><feGaussianBlur stdDeviation="2.2"/></filter>
<filter id="bl3" x="-0.2" y="-0.2" width="1.4" height="1.4"><feGaussianBlur stdDeviation="6"/></filter>
<clipPath id="cc1"><rect x="1208.2" y="14.1" width="245.6" height="245.5"/></clipPath><g clip-path="url(#cc1)">
<filter id="nf1" x="0" y="0" width="1" height="1" color-interpolation-filters="sRGB"><feTurbulence type="fractalNoise" baseFrequency="0.35" numOctaves="3" seed="3" stitchTiles="noStitch"/><feColorMatrix type="matrix" values="0 0.3 0 0 -0.05 0 0.97 0 0 -0.05 0 0.42 0 0 -0.04 0 0 0 0 1"/></filter>
<rect x="1146.8" y="-47.3" width="368.4" height="368.3" filter="url(#nf1)" transform="rotate(27 1331 136.85)"/>
<filter id="nf2" x="0" y="0" width="1" height="1" color-interpolation-filters="sRGB"><feTurbulence type="fractalNoise" baseFrequency="0.05 0.006" numOctaves="2" seed="8"/><feColorMatrix type="matrix" values="0 0 0 0 0 0 0 0 0 0.04 0 0 0 0 0.01 0.76 0 0 0 -0.31"/></filter>
<rect x="1188.2" y="-5.9" width="285.6" height="285.5" filter="url(#nf2)" transform="rotate(4 1331 136.85)"/>
<ellipse cx="1278.2" cy="33" rx="4.8" ry="3.2" fill="#58c848" opacity="0.85" filter="url(#bl1)"/>
<ellipse cx="1296.62" cy="53.38" rx="3.6" ry="2.4" fill="#58c848" opacity="0.85" filter="url(#bl1)"/>
<ellipse cx="1308.9" cy="32.51" rx="3.6" ry="2.4" fill="#58c848" opacity="0.85" filter="url(#bl1)"/>
<ellipse cx="1220.48" cy="71.79" rx="3" ry="2" fill="#58c848" opacity="0.85" filter="url(#bl1)"/>
<ellipse cx="1393.63" cy="92.66" rx="3.6" ry="2.4" fill="#58c848" opacity="0.85" filter="url(#bl1)"/>
<ellipse cx="1324.86" cy="178.59" rx="4.8" ry="3.2" fill="#58c848" opacity="0.85" filter="url(#bl1)"/>
<ellipse cx="1253.64" cy="210.5" rx="4.2" ry="2.8" fill="#58c848" opacity="0.85" filter="url(#bl1)"/>
<ellipse cx="1380.12" cy="183.49" rx="3.6" ry="2.4" fill="#58c848" opacity="0.85" filter="url(#bl1)"/>
<ellipse cx="1235.22" cy="208.05" rx="3" ry="2" fill="#58c848" opacity="0.85" filter="url(#bl1)"/>
<ellipse cx="1367.84" cy="215.41" rx="3.6" ry="2.4" fill="#58c848" opacity="0.85" filter="url(#bl1)"/>
<ellipse cx="1451.34" cy="168.76" rx="3.6" ry="2.4" fill="#58c848" opacity="0.85" filter="url(#bl1)"/>
<ellipse cx="1210.66" cy="87.75" rx="2.4" ry="1.6" fill="#58c848" opacity="0.85" filter="url(#bl1)"/>
<ellipse cx="1233.99" cy="215.41" rx="5.6" ry="11.2" fill="#031006" opacity="0.7" filter="url(#bl2)"/>
<ellipse cx="1338.37" cy="242.42" rx="4.8" ry="9.6" fill="#031006" opacity="0.7" filter="url(#bl2)"/>
<ellipse cx="1321.18" cy="107.39" rx="4.8" ry="9.6" fill="#031006" opacity="0.7" filter="url(#bl2)"/>
<circle cx="1343.28" cy="231.37" r="1.8" fill="#2a3fd0" filter="url(#bl1)"/>
<circle cx="1299.07" cy="31.29" r="1.8" fill="#2a3fd0" filter="url(#bl1)"/>
<circle cx="1372.75" cy="209.27" r="1.8" fill="#2a3fd0" filter="url(#bl1)"/>
<circle cx="1237.67" cy="203.13" r="1.8" fill="#2a3fd0" filter="url(#bl1)"/>
</g>
<clipPath id="cc2"><rect x="1460.2" y="14.1" width="245.6" height="245.5"/></clipPath><g clip-path="url(#cc2)">
<rect x="1460.2" y="14.1" width="245.6" height="245.5" fill="#050b0a"/>
<filter id="nf3" x="0" y="0" width="1" height="1" color-interpolation-filters="sRGB"><feTurbulence type="fractalNoise" baseFrequency="0.35" numOctaves="3" seed="9" stitchTiles="noStitch"/><feColorMatrix type="matrix" values="0 0.08 0 0 -0.02 0 0.17 0 0 -0.04 0 0.13 0 0 -0.02 0 0 0 0 1"/></filter>
<rect x="1398.8" y="-47.3" width="368.4" height="368.3" filter="url(#nf3)" transform="rotate(27 1583 136.85)"/>
<circle cx="1531.42" cy="46.02" r="8" fill="#1c249a" opacity="0.3" filter="url(#bl2)"/>
<circle cx="1532.92" cy="47.02" r="2.4" fill="#3a45d0" opacity="0.36" filter="url(#bl1)"/>
<circle cx="1567.04" cy="76.7" r="9" fill="#1c249a" opacity="0.3" filter="url(#bl2)"/>
<circle cx="1568.54" cy="77.7" r="2.7" fill="#3a45d0" opacity="0.36" filter="url(#bl1)"/>
<circle cx="1638.26" cy="93.89" r="8" fill="#1c249a" opacity="0.3" filter="url(#bl2)"/>
<circle cx="1639.76" cy="94.89" r="2.4" fill="#3a45d0" opacity="0.36" filter="url(#bl1)"/>
<circle cx="1585.46" cy="152.81" r="7.5" fill="#1c249a" opacity="0.3" filter="url(#bl2)"/>
<circle cx="1586.96" cy="153.81" r="2.25" fill="#3a45d0" opacity="0.36" filter="url(#bl1)"/>
<circle cx="1563.35" cy="168.76" r="4" fill="#1c249a" opacity="0.3" filter="url(#bl2)"/>
<circle cx="1564.85" cy="169.76" r="1.2" fill="#3a45d0" opacity="0.36" filter="url(#bl1)"/>
<circle cx="1687.38" cy="82.84" r="6.5" fill="#1c249a" opacity="0.16" filter="url(#bl2)"/>
<circle cx="1688.88" cy="83.84" r="1.95" fill="#3a45d0" opacity="0.192" filter="url(#bl1)"/>
<circle cx="1552.3" cy="85.29" r="1.8" fill="#18b070" opacity="0.8" filter="url(#bl1)"/>
<circle cx="1564.58" cy="90.2" r="1.8" fill="#18b070" opacity="0.8" filter="url(#bl1)"/>
<circle cx="1607.56" cy="219.09" r="1.8" fill="#18b070" opacity="0.8" filter="url(#bl1)"/>
</g>
<clipPath id="cc3"><rect x="1208.2" y="267.2" width="245.6" height="245.5"/></clipPath><g clip-path="url(#cc3)">
<filter id="nf4" x="0" y="0" width="1" height="1" color-interpolation-filters="sRGB"><feTurbulence type="fractalNoise" baseFrequency="0.35" numOctaves="3" seed="17" stitchTiles="noStitch"/><feColorMatrix type="matrix" values="0 0.17 0 0 -0.04 0 0.81 0 0 -0.14 0 0.3 0 0 -0.06 0 0 0 0 1"/></filter>
<rect x="1146.8" y="205.8" width="368.4" height="368.3" filter="url(#nf4)" transform="rotate(27 1331 389.95)"/>
<filter id="nf5" x="0" y="0" width="1" height="1" color-interpolation-filters="sRGB"><feTurbulence type="fractalNoise" baseFrequency="0.015 0.015" numOctaves="2" seed="22"/><feColorMatrix type="matrix" values="0 0 0 0 0 0 0 0 0 0.04 0 0 0 0 0.01 0.85 0 0 0 -0.32"/></filter>
<rect x="1188.2" y="247.2" width="285.6" height="285.5" filter="url(#nf5)" transform="rotate(0 1331 389.95)"/>
<ellipse cx="1327.32" cy="337.17" rx="2.7" ry="3.6" fill="#50c040" opacity="0.85" filter="url(#bl1)"/>
<ellipse cx="1321.18" cy="370.31" rx="2.7" ry="3.6" fill="#50c040" opacity="0.85" filter="url(#bl1)"/>
<ellipse cx="1405.91" cy="382.58" rx="2.7" ry="3.6" fill="#50c040" opacity="0.85" filter="url(#bl1)"/>
<ellipse cx="1421.87" cy="295.43" rx="2.7" ry="3.6" fill="#50c040" opacity="0.85" filter="url(#bl1)"/>
<ellipse cx="1215.57" cy="389.95" rx="2.25" ry="3" fill="#50c040" opacity="0.85" filter="url(#bl1)"/>
<ellipse cx="1267.14" cy="467.28" rx="2.25" ry="3" fill="#50c040" opacity="0.85" filter="url(#bl1)"/>
<ellipse cx="1416.96" cy="479.56" rx="2.7" ry="3.6" fill="#50c040" opacity="0.85" filter="url(#bl1)"/>
<ellipse cx="1434.15" cy="439.05" rx="2.25" ry="3" fill="#50c040" opacity="0.85" filter="url(#bl1)"/>
<ellipse cx="1308.9" cy="387.5" rx="1.8" ry="2.4" fill="#50c040" opacity="0.85" filter="url(#bl1)"/>
<ellipse cx="1292.93" cy="351.9" rx="4" ry="3" fill="#2a3cc8" opacity="0.9" filter="url(#bl1)"/>
<ellipse cx="1236.44" cy="399.77" rx="2.5" ry="5.5" fill="#2a3cc8" opacity="0.9" filter="url(#bl1)"/>
<ellipse cx="1230.3" cy="437.82" rx="5" ry="3" fill="#2a3cc8" opacity="0.9" filter="url(#bl1)"/>
<ellipse cx="1242.58" cy="445.19" rx="5" ry="3" fill="#2a3cc8" opacity="0.9" filter="url(#bl1)"/>
<ellipse cx="1421.87" cy="286.84" rx="3" ry="5" fill="#2a3cc8" opacity="0.9" filter="url(#bl1)"/>
<ellipse cx="1339.6" cy="305.25" rx="3" ry="2.5" fill="#2a3cc8" opacity="0.9" filter="url(#bl1)"/>
<ellipse cx="1419.42" cy="470.96" rx="2.5" ry="3.5" fill="#2a3cc8" opacity="0.9" filter="url(#bl1)"/>
<ellipse cx="1345.74" cy="509.02" rx="4" ry="2.5" fill="#2a3cc8" opacity="0.9" filter="url(#bl1)"/>
<ellipse cx="1323.63" cy="353.12" rx="2" ry="3.5" fill="#2a3cc8" opacity="0.9" filter="url(#bl1)"/>
<ellipse cx="1210.66" cy="267.2" rx="3" ry="2" fill="#2a3cc8" opacity="0.9" filter="url(#bl1)"/>
</g>
<clipPath id="cc4"><rect x="1459.6" y="268.1" width="245.6" height="245.5"/></clipPath><g clip-path="url(#cc4)">
<filter id="nf6" x="0" y="0" width="1" height="1" color-interpolation-filters="sRGB"><feTurbulence type="fractalNoise" baseFrequency="0.35" numOctaves="3" seed="29" stitchTiles="noStitch"/><feColorMatrix type="matrix" values="0 0.25 0 0 -0.04 0 1.02 0 0 -0.07 0 0.42 0 0 -0.04 0 0 0 0 1"/></filter>
<rect x="1398.2" y="206.7" width="368.4" height="368.3" filter="url(#nf6)" transform="rotate(27 1582.4 390.85)"/>
<filter id="nf7" x="0" y="0" width="1" height="1" color-interpolation-filters="sRGB"><feTurbulence type="fractalNoise" baseFrequency="0.07 0.004" numOctaves="2" seed="34"/><feColorMatrix type="matrix" values="0 0 0 0 0 0 0 0 0 0.04 0 0 0 0 0.01 1.27 0 0 0 -0.53"/></filter>
<rect x="1439.6" y="248.1" width="285.6" height="285.5" filter="url(#nf7)" transform="rotate(5 1582.4 390.85)"/>
<ellipse cx="1473.71" cy="328.57" rx="2" ry="4" fill="#58c848" opacity="0.85" filter="url(#bl1)"/>
<ellipse cx="1497.04" cy="324.89" rx="3" ry="2" fill="#58c848" opacity="0.85" filter="url(#bl1)"/>
<ellipse cx="1699.66" cy="313.84" rx="2" ry="7" fill="#58c848" opacity="0.85" filter="url(#bl1)"/>
<ellipse cx="1495.81" cy="457.46" rx="2" ry="3" fill="#58c848" opacity="0.85" filter="url(#bl1)"/>
<ellipse cx="1552.3" cy="436.59" rx="4" ry="3.5" fill="#58c848" opacity="0.85" filter="url(#bl1)"/>
<ellipse cx="1629.66" cy="468.51" rx="3" ry="2" fill="#58c848" opacity="0.85" filter="url(#bl1)"/>
<ellipse cx="1681.24" cy="478.33" rx="3" ry="2" fill="#58c848" opacity="0.85" filter="url(#bl1)"/>
<ellipse cx="1514.23" cy="273.34" rx="3" ry="3" fill="#2a4cc8" opacity="0.85" filter="url(#bl1)"/>
<ellipse cx="1654.22" cy="317.53" rx="4" ry="3.5" fill="#2a4cc8" opacity="0.85" filter="url(#bl1)"/>
<ellipse cx="1675.1" cy="295.43" rx="2.5" ry="3" fill="#2a4cc8" opacity="0.85" filter="url(#bl1)"/>
<ellipse cx="1648.08" cy="467.28" rx="4" ry="4" fill="#2a4cc8" opacity="0.85" filter="url(#bl1)"/>
<ellipse cx="1485.99" cy="354.35" rx="2.5" ry="3" fill="#2a4cc8" opacity="0.85" filter="url(#bl1)"/>
<ellipse cx="1628.44" cy="420.64" rx="2.5" ry="3" fill="#2a4cc8" opacity="0.85" filter="url(#bl1)"/>
<ellipse cx="1681.24" cy="473.42" rx="2" ry="2" fill="#2a4cc8" opacity="0.85" filter="url(#bl1)"/>
<ellipse cx="1492.13" cy="294.2" rx="2" ry="2" fill="#2a4cc8" opacity="0.85" filter="url(#bl1)"/>
</g>
<text transform="translate(1217.9 246.3) scale(1.0477 1)" font-size="25.5" fill="#ffffff"><tspan font-style="italic">Cgas</tspan><tspan>+/+</tspan></text>
<rect x="1425" y="236.7" width="23.8" height="8.4" fill="#ffffff"/>
<text transform="translate(1468 246.3) scale(1.1188 1)" font-size="25.5" fill="#ffffff">No primary</text>
<text transform="translate(1219 500.5) scale(1.0442 1)" font-size="25.5" fill="#ffffff"><tspan font-style="italic">P301S Cgas</tspan><tspan>+/+</tspan></text>
<text transform="translate(1468.6 500.5) scale(1.0525 1)" font-size="25.5" fill="#ffffff"><tspan font-style="italic">P301S Cgas</tspan><tspan>–/–</tspan></text>
<text transform="translate(1192.5 335.5) rotate(-90) scale(0.9419 1)" font-size="26"><tspan fill="#00a651">NRG1</tspan><tspan> </tspan><tspan fill="#2e3192">DAPI</tspan></text>
<text transform="translate(1166 28.6) scale(1.16 1)" font-size="33" font-weight="bold" stroke="#231f20" stroke-width="0.9" stroke-linejoin="round">c</text>
<text transform="translate(1776 29) scale(1.16 1)" font-size="33" font-weight="bold" stroke="#231f20" stroke-width="0.9" stroke-linejoin="round">d</text>
<text transform="translate(2004.6 74.6) scale(0.9438 1)" font-size="22.5" text-anchor="middle">NS</text>
<path d="M1951.31 110.58V88.64H2057.01V110.58" fill="none" stroke="#231f20" stroke-width="2"/>
<path d="M1951.31 152.31V134.95H2003.7V295.48" fill="none" stroke="#231f20" stroke-width="2"/>
<path d="M2012.84 262.58V134.95H2057.01V189.47" fill="none" stroke="#231f20" stroke-width="2"/>
<text transform="translate(1974.46 133.12) scale(1.1135 1)" font-size="30" text-anchor="middle">**</text>
<text transform="translate(2034.78 131.59) scale(1.0279 1)" font-size="30" text-anchor="middle">*</text>
<line x1="1918.41" y1="166.02" x2="1918.41" y2="441.7" stroke="#808080" stroke-width="1.2"/>
<line x1="1906.23" y1="441.7" x2="2093.57" y2="441.7" stroke="#808080" stroke-width="1.2"/>
<line x1="1906.23" y1="166.02" x2="1918.41" y2="166.02" stroke="#808080" stroke-width="1.2"/>
<text transform="translate(1894.35 176.5) scale(0.8237 1)" font-size="23.5" text-anchor="end">1.5</text>
<line x1="1906.23" y1="258.32" x2="1918.41" y2="258.32" stroke="#808080" stroke-width="1.2"/>
<text transform="translate(1894.35 264.2) scale(0.9208 1)" font-size="23.5" text-anchor="end">1.0</text>
<line x1="1906.23" y1="350.31" x2="1918.41" y2="350.31" stroke="#808080" stroke-width="1.2"/>
<text transform="translate(1894.35 357.6) scale(1.0071 1)" font-size="23.5" text-anchor="end">0.5</text>
<line x1="1906.23" y1="441.7" x2="1918.41" y2="441.7" stroke="#808080" stroke-width="1.2"/>
<text transform="translate(1894.35 451.8) scale(1.1418 1)" font-size="23.5" text-anchor="end">0</text>
<rect x="1939.13" y="258.32" width="30.77" height="183.38" fill="#231f20" stroke="#231f20" stroke-width="2.1"/>
<rect x="1986.95" y="383.82" width="31.68" height="57.88" fill="#fbb116" stroke="#231f20" stroke-width="2.1"/>
<rect x="2041.48" y="298.53" width="31.07" height="143.17" fill="#ed1c24" stroke="#231f20" stroke-width="2.1"/>
<line x1="1955.27" y1="243.09" x2="1955.27" y2="258.32" stroke="#808080" stroke-width="1.2"/>
<line x1="1937.6" y1="243.09" x2="1969.28" y2="243.09" stroke="#808080" stroke-width="1.2"/>
<line x1="2003.7" y1="371.02" x2="2003.7" y2="402.71" stroke="#4d4d4d" stroke-width="1.2"/>
<line x1="1987.86" y1="371.02" x2="2018.94" y2="371.02" stroke="#4d4d4d" stroke-width="1.2"/>
<line x1="1987.86" y1="402.71" x2="2018.94" y2="402.71" stroke="#4d4d4d" stroke-width="1.2"/>
<line x1="2057.01" y1="282.69" x2="2057.01" y2="319.54" stroke="#4d4d4d" stroke-width="1.2"/>
<line x1="2041.17" y1="282.69" x2="2072.85" y2="282.69" stroke="#4d4d4d" stroke-width="1.2"/>
<line x1="2041.17" y1="319.54" x2="2072.85" y2="319.54" stroke="#4d4d4d" stroke-width="1.2"/>
<circle cx="1955.27" cy="183.68" r="3.9" fill="#fff" stroke="#231f20" stroke-width="1.1"/>
<circle cx="1963.8" cy="212.62" r="3.9" fill="#fff" stroke="#231f20" stroke-width="1.1"/>
<circle cx="1947.35" cy="219.93" r="3.9" fill="#fff" stroke="#231f20" stroke-width="1.1"/>
<circle cx="1955.88" cy="233.34" r="3.9" fill="#fff" stroke="#231f20" stroke-width="1.1"/>
<circle cx="1955.27" cy="246.74" r="3.9" fill="#fff" stroke="#231f20" stroke-width="1.1"/>
<circle cx="1963.8" cy="265.93" r="3.9" fill="#fff" stroke="#231f20" stroke-width="1.1"/>
<circle cx="1947.35" cy="273.55" r="3.9" fill="#fff" stroke="#231f20" stroke-width="1.1"/>
<circle cx="1963.8" cy="284.21" r="3.9" fill="#fff" stroke="#231f20" stroke-width="1.1"/>
<circle cx="1947.35" cy="286.34" r="3.9" fill="#fff" stroke="#231f20" stroke-width="1.1"/>
<circle cx="1963.8" cy="297" r="3.9" fill="#fff" stroke="#231f20" stroke-width="1.1"/>
<circle cx="1947.35" cy="300.96" r="3.9" fill="#fff" stroke="#231f20" stroke-width="1.1"/>
<circle cx="2003.7" cy="336.3" r="3.9" fill="#fff" stroke="#231f20" stroke-width="1.1"/>
<circle cx="1995.48" cy="361.58" r="3.9" fill="#fff" stroke="#231f20" stroke-width="1.1"/>
<circle cx="2012.23" cy="364.02" r="3.9" fill="#fff" stroke="#231f20" stroke-width="1.1"/>
<circle cx="2003.7" cy="401.49" r="3.9" fill="#fff" stroke="#231f20" stroke-width="1.1"/>
<circle cx="2003.7" cy="422.51" r="3.9" fill="#fff" stroke="#231f20" stroke-width="1.1"/>
<circle cx="2003.7" cy="434.69" r="3.9" fill="#fff" stroke="#231f20" stroke-width="1.1"/>
<circle cx="2057.01" cy="240.04" r="3.9" fill="#fff" stroke="#231f20" stroke-width="1.1"/>
<circle cx="2048.48" cy="273.85" r="3.9" fill="#fff" stroke="#231f20" stroke-width="1.1"/>
<circle cx="2065.24" cy="274.77" r="3.9" fill="#fff" stroke="#231f20" stroke-width="1.1"/>
<circle cx="2057.01" cy="319.24" r="3.9" fill="#fff" stroke="#231f20" stroke-width="1.1"/>
<circle cx="2048.48" cy="351.22" r="3.9" fill="#fff" stroke="#231f20" stroke-width="1.1"/>
<circle cx="2065.24" cy="347.87" r="3.9" fill="#fff" stroke="#231f20" stroke-width="1.1"/>
<text transform="translate(1799 304) rotate(-90) scale(1.0746 1)" font-size="26" text-anchor="middle">NRG1 immunoreactivity</text>
<text transform="translate(1832.5 304) rotate(-90) scale(1.1129 1)" font-size="26" text-anchor="middle">(normalized to Ctrl)</text>
<text transform="translate(1903.48 484.34) scale(0.9796 1)" font-size="25.5" text-anchor="end"><tspan font-style="italic">P301S</tspan></text>
<text transform="translate(1903.48 514.8) scale(1.0163 1)" font-size="25.5" text-anchor="end"><tspan font-style="italic">Cgas</tspan></text>
<text transform="translate(1952.53 484.34) scale(0.8461 1)" font-size="25.5" text-anchor="middle">–</text>
<text transform="translate(2002.18 484.34)" font-size="25.5" text-anchor="middle">+</text>
<text transform="translate(2057.01 484.34)" font-size="25.5" text-anchor="middle">+</text>
<text transform="translate(1952.22 514.8) scale(0.9555 1)" font-size="27" text-anchor="middle">+/+</text>
<text transform="translate(2002.18 514.8) scale(0.9555 1)" font-size="27" text-anchor="middle">+/+</text>
<text transform="translate(2057.01 514.8) scale(0.9555 1)" font-size="27" text-anchor="middle">−/−</text>
<clipPath id="ce1"><rect x="66.8" y="646.6" width="453.4" height="220.9"/></clipPath><g clip-path="url(#ce1)">
<rect x="66.8" y="646.6" width="453.4" height="220.9" fill="#0c0606"/>
<filter id="nf8" x="0" y="0" width="1" height="1" color-interpolation-filters="sRGB"><feTurbulence type="fractalNoise" baseFrequency="0.4" numOctaves="3" seed="41" stitchTiles="noStitch"/><feColorMatrix type="matrix" values="0 0.11 0 0 -0.02 0 0.05 0 0 -0.01 0 0.05 0 0 -0.01 0 0 0 0 1"/></filter>
<rect x="-46.55" y="533.25" width="680.1" height="447.6" filter="url(#nf8)" transform="rotate(27 293.5 757.05)"/>
<path d="M66.8 715.27L89.47 712.94L112.14 710.61L134.81 708.63L157.48 709.8L180.15 710.98L202.82 717.95L225.49 724.92L248.16 731.89L270.83 726.36L293.5 717.71L316.17 712.8L338.84 710.39L361.51 713.04L384.18 719.06L406.85 723.79L429.52 726.58L452.19 729.71L474.86 733.64L497.53 737.49L520.2 741L520.2 784.44L497.53 781.92L474.86 779.05L452.19 776.11L429.52 773.96L406.85 772.16L384.18 770.85L361.51 769.86L338.84 768.02L316.17 764.88L293.5 765.5L270.83 771.74L248.16 776.16L225.49 773.35L202.82 770.53L180.15 767.72L157.48 765.91L134.81 764.1L112.14 767.81L89.47 772.12L66.8 776.44Z" fill="#163316" opacity="0.9" filter="url(#bl2)"/>
<g filter="url(#bl1)"><g fill="#1d4120" opacity="0.5"><ellipse cx="330.3" cy="720.6" rx="5.7" ry="8"/><ellipse cx="368.2" cy="765.5" rx="4.8" ry="6.8"/><ellipse cx="236.8" cy="729.4" rx="5.1" ry="8.2"/><ellipse cx="188.8" cy="753.8" rx="5.7" ry="7.7"/><ellipse cx="272.3" cy="738.8" rx="4.5" ry="6"/><ellipse cx="440.5" cy="745.4" rx="5.3" ry="6.7"/><ellipse cx="480.2" cy="761.7" rx="4.5" ry="6.8"/><ellipse cx="297.3" cy="753.6" rx="5.2" ry="7.6"/><ellipse cx="353" cy="769.9" rx="4.6" ry="7.3"/><ellipse cx="294.5" cy="725.5" rx="5.4" ry="7.1"/><ellipse cx="102.8" cy="753.5" rx="4.4" ry="7.8"/><ellipse cx="244" cy="747.9" rx="5.1" ry="6.7"/><ellipse cx="396.2" cy="735.3" rx="4.6" ry="6.8"/><ellipse cx="373.3" cy="725.4" rx="4.9" ry="7.7"/><ellipse cx="155.8" cy="759.5" rx="4.7" ry="8.2"/><ellipse cx="439.5" cy="746.7" rx="5.6" ry="7"/><ellipse cx="261.7" cy="730.4" rx="5.8" ry="7.8"/><ellipse cx="375.5" cy="763.9" rx="5.5" ry="7.4"/><ellipse cx="94.4" cy="765.8" rx="5.8" ry="7.5"/><ellipse cx="125.1" cy="735.1" rx="5.5" ry="7.5"/><ellipse cx="180.5" cy="712.8" rx="5" ry="7.1"/></g><g fill="#387538" opacity="0.65"><ellipse cx="367.6" cy="725.2" rx="4.6" ry="6.6"/><ellipse cx="128.9" cy="766.2" rx="5.6" ry="8.1"/><ellipse cx="500.7" cy="760.9" rx="4.9" ry="7.7"/><ellipse cx="421.6" cy="732.5" rx="4.3" ry="6.8"/><ellipse cx="427.6" cy="757.4" rx="5.5" ry="7.2"/><ellipse cx="171.7" cy="730.4" rx="4.2" ry="7"/><ellipse cx="299.7" cy="734.8" rx="5.1" ry="7"/><ellipse cx="411.7" cy="759.9" rx="5.5" ry="7.3"/><ellipse cx="442.8" cy="776.1" rx="5.5" ry="7.1"/><ellipse cx="380.4" cy="718.4" rx="5.4" ry="6.2"/><ellipse cx="409.1" cy="756" rx="5.8" ry="7.4"/><ellipse cx="302.3" cy="751" rx="4.8" ry="6.6"/><ellipse cx="399.6" cy="749.4" rx="4.3" ry="7.3"/><ellipse cx="519.8" cy="784.5" rx="4.7" ry="6.4"/><ellipse cx="81.6" cy="764.1" rx="4.8" ry="7.8"/><ellipse cx="486.4" cy="768.1" rx="5.3" ry="6.9"/><ellipse cx="397.9" cy="733" rx="4.2" ry="7.7"/><ellipse cx="273.6" cy="763.5" rx="4.2" ry="6.7"/><ellipse cx="374.1" cy="737.2" rx="5.5" ry="6.7"/><ellipse cx="303.7" cy="758.9" rx="4.4" ry="7.6"/><ellipse cx="104.9" cy="722.7" rx="4.9" ry="7.8"/><ellipse cx="267.7" cy="735.7" rx="4.6" ry="6.7"/><ellipse cx="285.1" cy="756.4" rx="4.9" ry="6.4"/><ellipse cx="69.8" cy="751.5" rx="4.2" ry="6.1"/><ellipse cx="367.1" cy="716.5" rx="4.6" ry="7.1"/><ellipse cx="259" cy="746.4" rx="5.3" ry="6.9"/></g><g fill="#1d4120" opacity="0.8"><ellipse cx="216" cy="743.7" rx="4.6" ry="6.4"/><ellipse cx="513.7" cy="758.6" rx="4.6" ry="7.7"/><ellipse cx="100" cy="718.2" rx="5.2" ry="7.6"/><ellipse cx="291.9" cy="749.5" rx="5.4" ry="6.2"/><ellipse cx="269" cy="741.2" rx="5.6" ry="6.6"/><ellipse cx="134.1" cy="763.8" rx="4.6" ry="7.3"/><ellipse cx="358.9" cy="768.2" rx="4.6" ry="6.6"/><ellipse cx="460.6" cy="735" rx="4.8" ry="8.1"/><ellipse cx="280.1" cy="733" rx="5" ry="8.1"/><ellipse cx="507.5" cy="771.1" rx="4.6" ry="6.4"/><ellipse cx="102.6" cy="763.5" rx="5.5" ry="7"/><ellipse cx="399.3" cy="742" rx="4.2" ry="8"/><ellipse cx="91.8" cy="761.9" rx="4.4" ry="6.6"/><ellipse cx="202.2" cy="717.6" rx="4.9" ry="6.9"/><ellipse cx="428" cy="731.5" rx="5.6" ry="8.2"/><ellipse cx="399.8" cy="737" rx="5.8" ry="6.5"/><ellipse cx="481.5" cy="756.2" rx="4.7" ry="7.1"/><ellipse cx="127.7" cy="730" rx="4.8" ry="7.4"/><ellipse cx="341.9" cy="710.8" rx="5.2" ry="6.7"/><ellipse cx="139.9" cy="759.8" rx="4.4" ry="7.6"/><ellipse cx="294.4" cy="735.9" rx="4.7" ry="6.1"/><ellipse cx="193.5" cy="761.3" rx="4.5" ry="8"/><ellipse cx="499.8" cy="772.7" rx="4.9" ry="6.1"/><ellipse cx="458.1" cy="742.3" rx="4.3" ry="7.6"/><ellipse cx="203" cy="757" rx="4.3" ry="7.8"/></g><g fill="#1d4120" opacity="0.65"><ellipse cx="153.7" cy="755" rx="4.6" ry="7.7"/><ellipse cx="453.2" cy="747.2" rx="4.8" ry="6.5"/><ellipse cx="490.7" cy="765.3" rx="5.8" ry="7.9"/><ellipse cx="414.7" cy="735.3" rx="4.7" ry="6.1"/><ellipse cx="486.7" cy="739.5" rx="4.3" ry="6.2"/><ellipse cx="483.7" cy="734.9" rx="5.1" ry="7.7"/><ellipse cx="343.4" cy="729.1" rx="4.5" ry="7.8"/><ellipse cx="300.2" cy="755" rx="5.6" ry="7.1"/><ellipse cx="129.3" cy="761.2" rx="5.1" ry="6.9"/><ellipse cx="83.7" cy="773.7" rx="5.4" ry="6.8"/><ellipse cx="303.5" cy="742" rx="4.7" ry="6.2"/><ellipse cx="250" cy="734" rx="4.6" ry="7.1"/><ellipse cx="168.7" cy="710.1" rx="5.7" ry="6.8"/><ellipse cx="423.5" cy="765.9" rx="4.2" ry="6.9"/><ellipse cx="195.8" cy="736.1" rx="5.6" ry="6.9"/><ellipse cx="123.2" cy="732.4" rx="5.7" ry="7.4"/><ellipse cx="131.4" cy="764.9" rx="5.1" ry="6.8"/><ellipse cx="364.7" cy="745.3" rx="4.9" ry="8"/><ellipse cx="506.4" cy="782.1" rx="4.6" ry="7.9"/><ellipse cx="376.1" cy="771.6" rx="5.6" ry="6.6"/><ellipse cx="147.5" cy="748.9" rx="4.8" ry="7"/></g><g fill="#316833" opacity="0.8"><ellipse cx="95.3" cy="739.6" rx="4.5" ry="7.4"/><ellipse cx="473.2" cy="759.5" rx="4.5" ry="7.9"/><ellipse cx="305.1" cy="713.6" rx="5.6" ry="6.3"/><ellipse cx="72.6" cy="728.9" rx="5.3" ry="7.2"/><ellipse cx="284.9" cy="722" rx="4.8" ry="8"/><ellipse cx="227.6" cy="736.7" rx="4.6" ry="6.8"/><ellipse cx="182.9" cy="724.1" rx="5.6" ry="7.8"/><ellipse cx="355" cy="720" rx="4.8" ry="6.6"/><ellipse cx="480.6" cy="768" rx="5.5" ry="7.9"/><ellipse cx="248.2" cy="771.5" rx="5.5" ry="6.9"/><ellipse cx="73" cy="734.7" rx="5.5" ry="6.8"/><ellipse cx="467.9" cy="757.7" rx="5.5" ry="6.4"/><ellipse cx="393.2" cy="734.6" rx="4.6" ry="6.7"/><ellipse cx="369.8" cy="741" rx="4.4" ry="6.4"/><ellipse cx="388.1" cy="764.7" rx="5" ry="6.8"/></g><g fill="#316833" opacity="0.5"><ellipse cx="250.2" cy="762.5" rx="4.2" ry="7"/><ellipse cx="412.7" cy="770.1" rx="4.3" ry="7.6"/><ellipse cx="306.7" cy="743.1" rx="5.3" ry="6.5"/><ellipse cx="135.8" cy="707.4" rx="4.6" ry="7.5"/><ellipse cx="75.8" cy="766.8" rx="4.8" ry="6.5"/><ellipse cx="392.4" cy="761.5" rx="4.4" ry="8"/><ellipse cx="114.3" cy="731.9" rx="5.5" ry="7.8"/><ellipse cx="231.7" cy="737.6" rx="5.4" ry="6.4"/><ellipse cx="434.2" cy="735.4" rx="4.2" ry="7.8"/><ellipse cx="255.7" cy="747.4" rx="4.2" ry="6"/><ellipse cx="206" cy="723.2" rx="4.5" ry="7.7"/><ellipse cx="342.6" cy="712.9" rx="4.7" ry="7.8"/><ellipse cx="488.6" cy="778.1" rx="4.4" ry="6.6"/><ellipse cx="194" cy="758.5" rx="4.8" ry="6.4"/><ellipse cx="118.5" cy="752.7" rx="5.6" ry="6.6"/><ellipse cx="217.1" cy="761.7" rx="5.3" ry="6.2"/><ellipse cx="247.9" cy="739.2" rx="5.7" ry="6.1"/></g><g fill="#316833" opacity="0.65"><ellipse cx="223.5" cy="723.3" rx="5.3" ry="6"/><ellipse cx="114.4" cy="740.6" rx="4.2" ry="8"/><ellipse cx="190.1" cy="732.3" rx="4.8" ry="7.7"/><ellipse cx="154.3" cy="710.3" rx="4.5" ry="7"/><ellipse cx="156.9" cy="708.6" rx="5" ry="6.2"/><ellipse cx="355.6" cy="720" rx="4.9" ry="7.3"/><ellipse cx="283.9" cy="764" rx="4.7" ry="7.7"/><ellipse cx="215.3" cy="766.4" rx="4.4" ry="6.8"/><ellipse cx="482.3" cy="777.4" rx="5.4" ry="6.2"/><ellipse cx="197.3" cy="734.5" rx="5.7" ry="7.6"/><ellipse cx="331.4" cy="740" rx="4.4" ry="7.5"/><ellipse cx="453.4" cy="750.2" rx="5" ry="6.8"/><ellipse cx="330.4" cy="716.1" rx="4.5" ry="6.8"/><ellipse cx="444.1" cy="739.2" rx="4.7" ry="6.5"/><ellipse cx="426.4" cy="745.4" rx="5.1" ry="6.4"/><ellipse cx="488.3" cy="743.8" rx="5" ry="7.1"/><ellipse cx="117.1" cy="724" rx="4.2" ry="6.6"/><ellipse cx="487.9" cy="773.8" rx="5.6" ry="6"/><ellipse cx="306.2" cy="732.6" rx="4.7" ry="6.1"/><ellipse cx="266.8" cy="769.1" rx="4.3" ry="6.6"/><ellipse cx="295.3" cy="740.3" rx="5.8" ry="7.4"/></g><g fill="#26522a" opacity="0.5"><ellipse cx="460.5" cy="738.2" rx="5" ry="7.9"/><ellipse cx="408.6" cy="758.7" rx="4.4" ry="7.5"/><ellipse cx="449.4" cy="753.8" rx="4.7" ry="7.1"/><ellipse cx="114.6" cy="735.8" rx="5.7" ry="7.5"/><ellipse cx="491.4" cy="763.8" rx="5.5" ry="7.9"/><ellipse cx="468.6" cy="748.8" rx="4.8" ry="7"/><ellipse cx="405.4" cy="746.5" rx="4.6" ry="7.9"/><ellipse cx="468.5" cy="736.1" rx="4.3" ry="7.2"/><ellipse cx="372.8" cy="736.8" rx="4.5" ry="8.1"/><ellipse cx="347.5" cy="723.2" rx="4.9" ry="7.5"/><ellipse cx="298.4" cy="720" rx="5.3" ry="6.3"/><ellipse cx="498.4" cy="744.2" rx="4.3" ry="7.4"/><ellipse cx="374.4" cy="743.7" rx="4.4" ry="6.8"/><ellipse cx="345" cy="725.3" rx="5" ry="6.4"/><ellipse cx="447.3" cy="733" rx="5.8" ry="7.7"/><ellipse cx="96.8" cy="724.2" rx="4.8" ry="7.7"/><ellipse cx="484.9" cy="749.9" rx="5.5" ry="6.5"/><ellipse cx="269.2" cy="757" rx="4.2" ry="7.9"/><ellipse cx="382.3" cy="759.4" rx="5.6" ry="7.3"/><ellipse cx="217.2" cy="769.6" rx="4.3" ry="8.1"/><ellipse cx="398.2" cy="728.9" rx="4.9" ry="7.2"/><ellipse cx="373.1" cy="738" rx="5.7" ry="7.7"/><ellipse cx="245.5" cy="768.7" rx="5.6" ry="6.3"/><ellipse cx="235.6" cy="752.8" rx="4.8" ry="7.5"/><ellipse cx="152.8" cy="735.5" rx="4.5" ry="6.2"/><ellipse cx="479" cy="781.2" rx="5" ry="7.3"/></g><g fill="#26522a" opacity="0.9"><ellipse cx="81.3" cy="733.7" rx="5.7" ry="7.9"/><ellipse cx="328.4" cy="737.9" rx="4.4" ry="6.2"/><ellipse cx="243" cy="758.9" rx="5" ry="8.2"/><ellipse cx="162.8" cy="737.8" rx="5.1" ry="6.3"/><ellipse cx="197.1" cy="747.7" rx="4.3" ry="6.8"/><ellipse cx="327.6" cy="724.7" rx="5.1" ry="7.7"/><ellipse cx="374.4" cy="729.2" rx="5.2" ry="7.4"/><ellipse cx="222.9" cy="749.1" rx="5" ry="7"/><ellipse cx="327.5" cy="748.8" rx="5.3" ry="6.9"/><ellipse cx="417.8" cy="729" rx="5" ry="6.8"/><ellipse cx="345.2" cy="761.1" rx="5.7" ry="7.4"/><ellipse cx="200.6" cy="720.3" rx="5.3" ry="7.2"/><ellipse cx="175.4" cy="719.7" rx="5.6" ry="7"/><ellipse cx="186.3" cy="737.9" rx="5.4" ry="6.5"/><ellipse cx="261.9" cy="743.3" rx="4.3" ry="6.2"/><ellipse cx="302.8" cy="762.7" rx="4.9" ry="6.9"/><ellipse cx="481.9" cy="768.9" rx="5.7" ry="6.5"/></g><g fill="#387538" opacity="0.9"><ellipse cx="426" cy="731.3" rx="4.5" ry="7.7"/><ellipse cx="110.2" cy="749.1" rx="5.6" ry="6"/><ellipse cx="205.9" cy="751.3" rx="5.7" ry="7.2"/><ellipse cx="252.8" cy="734.7" rx="4.3" ry="8"/><ellipse cx="493.3" cy="781.4" rx="5.6" ry="8.1"/><ellipse cx="307.3" cy="743.5" rx="4.8" ry="7.7"/><ellipse cx="499.4" cy="759.2" rx="4.5" ry="7.9"/><ellipse cx="88.2" cy="759.3" rx="5.6" ry="7.9"/><ellipse cx="431.6" cy="776" rx="5.2" ry="7.1"/><ellipse cx="282" cy="761.7" rx="4.9" ry="6.3"/><ellipse cx="386.3" cy="719.6" rx="5.7" ry="7.4"/><ellipse cx="514.4" cy="749.4" rx="5.5" ry="8.1"/><ellipse cx="123.8" cy="710.7" rx="5.8" ry="7.4"/><ellipse cx="487.4" cy="752.1" rx="4.4" ry="7.1"/><ellipse cx="514.9" cy="784.9" rx="5.6" ry="8"/><ellipse cx="413.5" cy="729.8" rx="5.5" ry="6.8"/><ellipse cx="508.3" cy="773.1" rx="5.1" ry="6.1"/><ellipse cx="110.7" cy="747.7" rx="4.9" ry="6"/><ellipse cx="475.1" cy="734.1" rx="5.6" ry="6.5"/><ellipse cx="490.5" cy="755.8" rx="5.5" ry="7"/></g><g fill="#2c5d2f" opacity="0.8"><ellipse cx="508.9" cy="783.6" rx="4.3" ry="6.3"/><ellipse cx="356.1" cy="721.6" rx="4.4" ry="8"/><ellipse cx="492.9" cy="776.2" rx="4.8" ry="6.5"/><ellipse cx="382.3" cy="736" rx="4.3" ry="6.2"/><ellipse cx="490.3" cy="764.1" rx="5.3" ry="7.3"/><ellipse cx="421.4" cy="727.4" rx="5.3" ry="6.7"/><ellipse cx="149.1" cy="737.1" rx="4.6" ry="6"/><ellipse cx="225.1" cy="766" rx="4.8" ry="7.7"/><ellipse cx="495.6" cy="736.2" rx="5.3" ry="6.7"/><ellipse cx="163.1" cy="737.6" rx="5.8" ry="8.1"/><ellipse cx="137.5" cy="711.4" rx="5.5" ry="6.4"/><ellipse cx="314.6" cy="743.8" rx="5.2" ry="6.2"/></g><g fill="#224a26" opacity="0.8"><ellipse cx="154.1" cy="748.5" rx="4.7" ry="6.6"/><ellipse cx="455.2" cy="751.3" rx="5.1" ry="7.8"/><ellipse cx="133.4" cy="749.1" rx="4.9" ry="6.6"/><ellipse cx="251.8" cy="759.5" rx="5" ry="7.1"/><ellipse cx="410.4" cy="761.8" rx="4.5" ry="7.7"/><ellipse cx="390.5" cy="719.1" rx="4.4" ry="7"/><ellipse cx="191.3" cy="725" rx="5.5" ry="6.4"/><ellipse cx="519.2" cy="740.1" rx="4.8" ry="7.8"/><ellipse cx="269.4" cy="771.5" rx="5.7" ry="8"/><ellipse cx="248.3" cy="772.2" rx="5.1" ry="6.2"/><ellipse cx="480.7" cy="738.8" rx="5.6" ry="6.9"/><ellipse cx="269.2" cy="750.5" rx="5.1" ry="7.5"/><ellipse cx="412.3" cy="744.4" rx="4.6" ry="7.2"/><ellipse cx="322.1" cy="717.2" rx="5.2" ry="8.1"/><ellipse cx="104.3" cy="750.3" rx="4.8" ry="6.6"/><ellipse cx="326.6" cy="734" rx="5.3" ry="6.8"/><ellipse cx="428.1" cy="773.1" rx="5.5" ry="7.4"/><ellipse cx="511.3" cy="780.8" rx="4.6" ry="6.6"/><ellipse cx="362.5" cy="759.7" rx="4.4" ry="6.6"/></g><g fill="#2c5d2f" opacity="0.65"><ellipse cx="278.1" cy="742.9" rx="5" ry="7.8"/><ellipse cx="77.6" cy="767.9" rx="4.5" ry="7.5"/><ellipse cx="407.8" cy="747.5" rx="4.9" ry="6.8"/><ellipse cx="148" cy="707.2" rx="5.8" ry="6.1"/><ellipse cx="475.1" cy="771.3" rx="4.8" ry="7.7"/><ellipse cx="505.5" cy="739.6" rx="5.5" ry="7"/><ellipse cx="180.4" cy="765.6" rx="4.5" ry="6"/><ellipse cx="424.9" cy="731.4" rx="4.6" ry="6.7"/><ellipse cx="105.2" cy="736.2" rx="4.3" ry="6.6"/><ellipse cx="108.9" cy="758.7" rx="5.4" ry="6.1"/><ellipse cx="419.2" cy="772.5" rx="4.7" ry="6.7"/><ellipse cx="516.4" cy="771" rx="4.7" ry="6.3"/><ellipse cx="266.2" cy="763.6" rx="4.4" ry="7.5"/><ellipse cx="219.8" cy="751.9" rx="4.4" ry="6.8"/><ellipse cx="264.7" cy="742.8" rx="4.3" ry="6.3"/><ellipse cx="81.5" cy="754.2" rx="4.7" ry="8"/><ellipse cx="495.5" cy="759.2" rx="5.4" ry="6.9"/><ellipse cx="213.5" cy="766.1" rx="5.1" ry="6.5"/><ellipse cx="199.3" cy="733.7" rx="4.9" ry="7.5"/><ellipse cx="88.5" cy="724.3" rx="5.3" ry="7.7"/><ellipse cx="134.4" cy="756" rx="4.6" ry="7.7"/><ellipse cx="406.3" cy="746.5" rx="5" ry="6.5"/><ellipse cx="455.8" cy="736.2" rx="4.7" ry="7.9"/><ellipse cx="227.6" cy="739" rx="5.5" ry="6.7"/><ellipse cx="138.4" cy="720.4" rx="5.5" ry="6.6"/></g><g fill="#26522a" opacity="0.65"><ellipse cx="280.5" cy="730.5" rx="5.1" ry="6.7"/><ellipse cx="197.4" cy="753.5" rx="5.6" ry="6.9"/><ellipse cx="175.9" cy="735.1" rx="4.9" ry="6.7"/><ellipse cx="250.6" cy="762.6" rx="4.9" ry="7.2"/><ellipse cx="373.3" cy="728.8" rx="5.1" ry="7"/><ellipse cx="125.5" cy="719.2" rx="4.6" ry="6.2"/><ellipse cx="367" cy="745.2" rx="5.5" ry="6.4"/><ellipse cx="378.6" cy="772" rx="4.9" ry="7.1"/><ellipse cx="214" cy="730.1" rx="4.2" ry="7.7"/><ellipse cx="349.4" cy="710.2" rx="4.5" ry="7.3"/><ellipse cx="456.1" cy="769.6" rx="5.4" ry="8"/><ellipse cx="176.1" cy="760.5" rx="5.5" ry="7.1"/><ellipse cx="378.3" cy="767.4" rx="4.3" ry="6.6"/><ellipse cx="457.7" cy="762" rx="4.2" ry="7.7"/><ellipse cx="102.9" cy="760.8" rx="4.6" ry="6.6"/><ellipse cx="373.6" cy="732" rx="4.7" ry="6.3"/><ellipse cx="384.6" cy="719.3" rx="4.9" ry="7.2"/><ellipse cx="465.3" cy="748.2" rx="4.2" ry="6.6"/><ellipse cx="385.9" cy="731.1" rx="4.6" ry="7.5"/><ellipse cx="194.7" cy="744.2" rx="5.3" ry="6.2"/><ellipse cx="180.2" cy="750.5" rx="4.3" ry="7.1"/><ellipse cx="171" cy="719.8" rx="5.7" ry="6.7"/><ellipse cx="227.3" cy="745.6" rx="4.9" ry="6.6"/><ellipse cx="122.5" cy="723.4" rx="4.6" ry="7.8"/></g><g fill="#26522a" opacity="0.8"><ellipse cx="300.9" cy="724.2" rx="5.3" ry="6.3"/><ellipse cx="344.2" cy="748.3" rx="5" ry="7.2"/><ellipse cx="365.2" cy="721.3" rx="4.4" ry="6.8"/><ellipse cx="277.6" cy="771.8" rx="5.7" ry="7.6"/><ellipse cx="460.3" cy="773.3" rx="4.7" ry="6.9"/><ellipse cx="132.1" cy="722" rx="5.4" ry="7.5"/><ellipse cx="481.2" cy="781.7" rx="4.4" ry="6.9"/><ellipse cx="395" cy="741.9" rx="5.1" ry="8.2"/><ellipse cx="412.7" cy="745.3" rx="4.6" ry="7.4"/><ellipse cx="441.4" cy="762.5" rx="5.5" ry="6"/><ellipse cx="420.8" cy="743.3" rx="4.8" ry="8"/><ellipse cx="126.2" cy="721.2" rx="4.7" ry="6.4"/><ellipse cx="366.8" cy="741.7" rx="5" ry="7.1"/><ellipse cx="183.8" cy="728.5" rx="5.4" ry="6.9"/><ellipse cx="366.4" cy="748.7" rx="4.5" ry="6.4"/><ellipse cx="178.6" cy="714.3" rx="4.8" ry="6.4"/><ellipse cx="357.2" cy="764.9" rx="5.6" ry="7.7"/><ellipse cx="163.1" cy="764.3" rx="5" ry="7.2"/><ellipse cx="452" cy="743" rx="5.3" ry="6.7"/><ellipse cx="166.8" cy="716.3" rx="5.8" ry="6.7"/><ellipse cx="119.3" cy="717.8" rx="4.3" ry="7.6"/></g><g fill="#387538" opacity="0.8"><ellipse cx="124.6" cy="740.2" rx="4.7" ry="7.5"/><ellipse cx="135.5" cy="757.7" rx="5.7" ry="7.7"/><ellipse cx="347.1" cy="739.4" rx="5.4" ry="6.1"/><ellipse cx="345.5" cy="751.4" rx="4.5" ry="8"/><ellipse cx="212.3" cy="726.8" rx="5.2" ry="6.9"/><ellipse cx="218.6" cy="739.5" rx="4.6" ry="7.3"/><ellipse cx="367.2" cy="725.9" rx="4.7" ry="7.9"/><ellipse cx="218.4" cy="740.1" rx="5" ry="7.1"/><ellipse cx="501.8" cy="741.4" rx="5.5" ry="6.1"/><ellipse cx="453" cy="750.6" rx="5.6" ry="6.9"/><ellipse cx="260.1" cy="734.3" rx="5.1" ry="6.4"/><ellipse cx="505.8" cy="756.8" rx="4.9" ry="6.4"/><ellipse cx="401.7" cy="740.9" rx="5.2" ry="6.8"/><ellipse cx="170.9" cy="752.6" rx="4.4" ry="6.2"/><ellipse cx="491.4" cy="779.8" rx="5.6" ry="6.5"/><ellipse cx="290.5" cy="727.7" rx="5.7" ry="8"/><ellipse cx="430.7" cy="727.1" rx="4.9" ry="6.2"/><ellipse cx="430.7" cy="752.9" rx="5.1" ry="8.1"/></g><g fill="#387538" opacity="0.5"><ellipse cx="89.3" cy="774.3" rx="5.4" ry="7"/><ellipse cx="380.2" cy="771.6" rx="5.5" ry="6.7"/><ellipse cx="464.9" cy="756.1" rx="4.3" ry="6.2"/><ellipse cx="232.3" cy="749.6" rx="5.4" ry="7.7"/><ellipse cx="445" cy="763.1" rx="4.5" ry="8.1"/><ellipse cx="316" cy="756.4" rx="5.3" ry="7.3"/><ellipse cx="166.4" cy="752.1" rx="4.9" ry="6"/><ellipse cx="155.8" cy="740.6" rx="4.9" ry="7.1"/><ellipse cx="280.9" cy="724.2" rx="5.2" ry="7.3"/><ellipse cx="311.7" cy="743.6" rx="4.6" ry="7.9"/><ellipse cx="78.1" cy="775.5" rx="4.6" ry="6.2"/><ellipse cx="217.2" cy="742.7" rx="4.7" ry="6.1"/><ellipse cx="215.3" cy="722" rx="5.4" ry="7.6"/><ellipse cx="351" cy="722.5" rx="4.7" ry="6"/><ellipse cx="402.5" cy="727.5" rx="4.8" ry="6.8"/><ellipse cx="97.7" cy="755" rx="5" ry="8"/><ellipse cx="299.1" cy="752.5" rx="4.9" ry="7.3"/></g><g fill="#224a26" opacity="0.9"><ellipse cx="72.8" cy="773.2" rx="5.3" ry="7.7"/><ellipse cx="144.8" cy="762.2" rx="5.5" ry="7.6"/><ellipse cx="129.4" cy="716.4" rx="5.3" ry="6.7"/><ellipse cx="405.4" cy="743.4" rx="5" ry="7.7"/><ellipse cx="125.8" cy="736.2" rx="5.4" ry="6.3"/><ellipse cx="281.7" cy="732" rx="4.7" ry="7.6"/><ellipse cx="440" cy="752.2" rx="5.1" ry="6.8"/><ellipse cx="429.4" cy="751.8" rx="5.1" ry="6.9"/><ellipse cx="511.7" cy="779.4" rx="4.6" ry="6.1"/><ellipse cx="330.5" cy="766.7" rx="5.1" ry="7.6"/><ellipse cx="416.1" cy="740.7" rx="4.8" ry="6.4"/><ellipse cx="198.2" cy="769.1" rx="5.2" ry="7.9"/><ellipse cx="498.9" cy="742.7" rx="5.5" ry="7"/><ellipse cx="439" cy="774.6" rx="5.1" ry="8"/><ellipse cx="470.6" cy="761.1" rx="4.3" ry="6.1"/><ellipse cx="435" cy="731.7" rx="5.5" ry="7.1"/><ellipse cx="517.8" cy="771.3" rx="4.4" ry="7.7"/><ellipse cx="304.3" cy="722.3" rx="4.9" ry="6.4"/><ellipse cx="317.9" cy="727.8" rx="4.9" ry="7.4"/><ellipse cx="135.5" cy="743.2" rx="4.6" ry="8"/><ellipse cx="247.7" cy="768.1" rx="5.4" ry="8"/></g><g fill="#2c5d2f" opacity="0.5"><ellipse cx="405.6" cy="766.7" rx="4.3" ry="7.5"/><ellipse cx="418.2" cy="770" rx="4.9" ry="8.1"/><ellipse cx="207.1" cy="741.8" rx="4.3" ry="7.5"/><ellipse cx="188.3" cy="763" rx="4.4" ry="7.6"/><ellipse cx="407.6" cy="757.9" rx="5.2" ry="7.6"/><ellipse cx="368.1" cy="744.7" rx="5.5" ry="7.5"/><ellipse cx="220.9" cy="745.3" rx="5" ry="8"/><ellipse cx="315.7" cy="762.6" rx="4.7" ry="7"/><ellipse cx="189.2" cy="744.2" rx="4.6" ry="8"/><ellipse cx="200.4" cy="731.9" rx="4.2" ry="6.5"/><ellipse cx="314.4" cy="731.1" rx="5" ry="7.9"/><ellipse cx="395.9" cy="748" rx="5.6" ry="8"/><ellipse cx="216.4" cy="741.8" rx="5.3" ry="6.5"/><ellipse cx="132.6" cy="748.6" rx="5.4" ry="8.1"/><ellipse cx="473.2" cy="757.5" rx="5.4" ry="6.5"/><ellipse cx="469.5" cy="743.2" rx="4.5" ry="8.1"/><ellipse cx="80.4" cy="711.5" rx="5.4" ry="7.9"/><ellipse cx="113.5" cy="731.3" rx="5.4" ry="6.8"/><ellipse cx="214.8" cy="723.1" rx="4.3" ry="7.6"/></g><g fill="#224a26" opacity="0.65"><ellipse cx="165.1" cy="756.5" rx="4.4" ry="6.5"/><ellipse cx="382.9" cy="730" rx="4.8" ry="6.5"/><ellipse cx="377.8" cy="750.3" rx="4.8" ry="6.8"/><ellipse cx="346.4" cy="771.4" rx="5.7" ry="6.9"/><ellipse cx="464" cy="767.4" rx="4.9" ry="7.1"/><ellipse cx="504.9" cy="777.3" rx="4.9" ry="6.2"/><ellipse cx="455.2" cy="737.1" rx="4.9" ry="6.8"/><ellipse cx="338.6" cy="750.2" rx="5.3" ry="6.6"/></g><g fill="#2c5d2f" opacity="0.9"><ellipse cx="344" cy="752.9" rx="5.8" ry="7.3"/><ellipse cx="189.1" cy="769.5" rx="5.4" ry="7.5"/><ellipse cx="195.8" cy="723.2" rx="5" ry="6.9"/><ellipse cx="311.4" cy="728.1" rx="5.1" ry="6.4"/><ellipse cx="437.5" cy="742.8" rx="5.2" ry="8.1"/><ellipse cx="490.1" cy="738.1" rx="4.9" ry="6.1"/><ellipse cx="107.9" cy="732.4" rx="4.7" ry="6.9"/><ellipse cx="417.3" cy="756.9" rx="5" ry="6.3"/><ellipse cx="402.4" cy="728.3" rx="4.4" ry="7.6"/><ellipse cx="240.2" cy="755" rx="5.5" ry="7.2"/><ellipse cx="181" cy="747.4" rx="4.5" ry="6.1"/><ellipse cx="442.8" cy="749.6" rx="4.7" ry="6.3"/><ellipse cx="401.3" cy="738.7" rx="4.9" ry="7.7"/></g><g fill="#316833" opacity="0.9"><ellipse cx="201.6" cy="728.8" rx="5.4" ry="6.9"/><ellipse cx="191.5" cy="740.5" rx="5.7" ry="6.8"/><ellipse cx="182.5" cy="761.5" rx="4.7" ry="6.8"/><ellipse cx="166.1" cy="757.6" rx="4.7" ry="7.6"/><ellipse cx="470.4" cy="739.9" rx="4.4" ry="6.1"/><ellipse cx="396.4" cy="730.6" rx="5.2" ry="6.5"/><ellipse cx="251.5" cy="746.3" rx="5.1" ry="6.3"/><ellipse cx="114.9" cy="710" rx="4.4" ry="7.8"/><ellipse cx="443.7" cy="743.8" rx="5.7" ry="7.5"/><ellipse cx="456.3" cy="735.1" rx="4.4" ry="7"/><ellipse cx="89.5" cy="727.8" rx="5" ry="6.5"/><ellipse cx="82.1" cy="737.7" rx="4.8" ry="6.8"/><ellipse cx="188.6" cy="761.3" rx="4.7" ry="6.6"/><ellipse cx="327" cy="757" rx="4.3" ry="6.1"/><ellipse cx="75.2" cy="734.9" rx="5.5" ry="7.9"/><ellipse cx="382.8" cy="730.9" rx="4.6" ry="6.2"/><ellipse cx="367.2" cy="762.4" rx="5.3" ry="6.6"/><ellipse cx="393.8" cy="752" rx="5.6" ry="6.2"/><ellipse cx="367.1" cy="769.1" rx="5" ry="6.5"/><ellipse cx="231.4" cy="749.7" rx="5.1" ry="7.1"/><ellipse cx="425.2" cy="763.1" rx="5.4" ry="6.4"/></g><g fill="#1d4120" opacity="0.9"><ellipse cx="288.5" cy="737.7" rx="4.4" ry="7.6"/><ellipse cx="459.6" cy="771.7" rx="5.3" ry="7.1"/><ellipse cx="285.4" cy="768.2" rx="4.5" ry="6.4"/><ellipse cx="489" cy="780.3" rx="4.5" ry="6.5"/><ellipse cx="423.5" cy="774.3" rx="5" ry="6.5"/><ellipse cx="422.5" cy="774" rx="5.3" ry="6.8"/><ellipse cx="474.7" cy="750.6" rx="4.3" ry="6.9"/><ellipse cx="91.5" cy="715.3" rx="5.6" ry="6"/><ellipse cx="174.1" cy="715.9" rx="5.4" ry="6.5"/><ellipse cx="347" cy="760.4" rx="4.9" ry="8.1"/><ellipse cx="264.1" cy="774.4" rx="5.1" ry="8"/><ellipse cx="171.2" cy="751.2" rx="5.4" ry="6.9"/><ellipse cx="382.7" cy="757.2" rx="4.4" ry="6.8"/><ellipse cx="214.6" cy="735.1" rx="4.8" ry="7.9"/><ellipse cx="196.9" cy="727.7" rx="4.6" ry="7.1"/><ellipse cx="121.8" cy="736.7" rx="4.5" ry="6.9"/><ellipse cx="443.4" cy="761.4" rx="4.8" ry="7.4"/><ellipse cx="425.5" cy="745.7" rx="4.5" ry="7.3"/></g><g fill="#224a26" opacity="0.5"><ellipse cx="470.1" cy="773.6" rx="4.7" ry="8.2"/><ellipse cx="354.5" cy="748.4" rx="5.4" ry="8"/><ellipse cx="147.4" cy="746.2" rx="5.8" ry="6.7"/><ellipse cx="218.7" cy="772.5" rx="5.8" ry="6.1"/><ellipse cx="114.7" cy="742" rx="5.3" ry="7.6"/><ellipse cx="188.8" cy="733.8" rx="4.5" ry="8.2"/><ellipse cx="430.4" cy="737" rx="4.4" ry="6.7"/><ellipse cx="404.4" cy="737.4" rx="5.4" ry="7.2"/><ellipse cx="80.1" cy="755.6" rx="5.4" ry="7.5"/><ellipse cx="83.2" cy="758.5" rx="4.6" ry="7.6"/><ellipse cx="293.7" cy="730.2" rx="5.4" ry="7.5"/><ellipse cx="151.2" cy="759.6" rx="4.3" ry="7.5"/><ellipse cx="343.9" cy="716.7" rx="4.6" ry="7.9"/><ellipse cx="417.3" cy="766.3" rx="5.4" ry="7.9"/><ellipse cx="199.6" cy="748.6" rx="4.6" ry="6.6"/></g></g>
<g stroke="#e03818" stroke-linecap="round" fill="none" filter="url(#bl1)"><path d="M134 761.4h0M346.8 754.8h0M400.2 729.7h0M160.8 712.1h0M332.9 751.7h0M254.7 712h0M150.6 736.3h0M396.6 794.6h0M501.7 753.1h0M160.6 699.9h0M147 809.4h0M484.6 775h0M264.3 717.2h0M293.5 710.7h0M236.2 799.8h0M284.2 703.1h0M454 798.1h0M345.7 708.3h0M388.2 774.8h0M180.1 704h0M143.9 787.8h0M505.7 685.3h0M108.1 731.1h0M162.5 804.9h0M168.5 729.8h0M100.3 772.3h0M123.4 753.7h0M336.7 792.5h0M75 769.9h0M201.2 759.5h0M80.6 708.5h0M342.3 786.2h0M77.3 796.4h0M321.1 709.8h0M504.3 741.5h0M130 802.4h0M326.7 746h0M383.4 809.3h0M466.5 765.1h0M317.6 781.1h0M301.3 805.3h0M231.6 721h0M164.7 743.3h0M319.1 702.6h0M131.1 687.4h0M109.9 794.5h0M484.7 714.3h0M430.3 789.3h0M466.7 805.7h0" stroke-width="1" opacity="0.8"/><path d="M389.9 760.3h0M467.6 697.6h0M85.1 767.6h0M456.7 793.5h0M332.2 702.3h0M401.1 718.7h0M153.7 730.7h0M415.9 684.9h0M234.7 808.5h0M78.9 769.3h0M255.9 707.5h0M270.9 730.6h0M434.6 793.5h0M222.7 714.8h0M155 762.2h0M408.3 808.8h0M201.1 812.1h0M520.1 747.2h0M270 782.6h0M310.2 747.6h0M94.2 729.9h0M463.2 784.5h0M358.8 788.8h0M378.8 789.7h0M516.5 752.6h0M190.6 749.3h0M495.7 685.1h0M362.2 723.3h0M274.1 799.4h0M238.9 691.1h0M101.6 750h0M174.2 702.8h0M496.6 689.7h0M434.7 804h0M183.9 760.7h0M487.1 698.2h0M512.6 724.3h0M417.1 778.1h0M440.9 685h0M210 808.8h0M195.7 755.9h0M367.6 793h0M486.4 775.4h0M512.7 723h0M415.9 727.4h0M244.5 785.8h0M76.3 693.8h0M191.7 740.8h0" stroke-width="1.4" opacity="0.57"/><path d="M307.2 761.9h0M124.9 787.1h0M343.1 738.3h0M117.8 700.6h0M331 717h0M476.1 796.1h0M310.2 775.4h0M156.1 776.6h0M375.1 788.6h0M435.4 681h0M502.5 735.9h0M298 763.9h0M308.7 800.4h0M419.9 743h0M155.4 706.4h0M339.4 789.4h0M129.3 767.4h0M290.4 691.1h0M176.2 790.6h0M313.3 737.6h0M72 762h0M229.6 786.9h0M411.1 712.3h0M478.6 810.7h0M498.6 718.9h0M413 766h0M370.7 795.3h0M294.4 742.8h0M276.3 795.6h0M170 765.9h0M154.4 714.6h0M460.8 736h0M268.6 809.9h0M441.2 765.3h0M305.9 695.2h0M166.5 681.1h0M248.2 714.6h0M288.4 732.1h0M191.1 739.7h0M393 761.2h0M198.4 778.4h0M499.9 713.3h0M117.9 781.1h0M78.3 790.7h0M465.1 699h0M73.5 800.5h0" stroke-width="1.9" opacity="0.35"/><path d="M390.7 749.4h0M344 789.5h0M263 753.7h0M414.7 715.1h0M99.6 793.5h0M277.7 786.7h0M271.4 759.5h0M465.5 806.4h0M127.7 800.9h0M182 703.9h0M510.4 808.6h0M174.6 735.4h0M160.7 768.7h0M202.6 741.8h0M308.3 700h0M109.5 757.6h0M259.2 758.2h0M79.6 694.2h0M493.4 772.4h0M284.1 759.7h0M312.8 698.5h0M414.4 773.9h0M201.3 757.9h0M467.8 696.2h0M98.6 760.3h0M107.9 769.7h0M111.9 681.3h0M501.5 798.7h0M122.7 781h0M405.3 768.4h0M159.1 778.3h0M427.7 702.6h0M507.1 705.1h0M148.6 702.9h0M165.9 740.6h0M201.7 739.4h0M186.5 722.2h0M136.6 687.9h0M278.8 761.4h0M189.5 805.2h0" stroke-width="1.4" opacity="0.8"/><path d="M253.6 743.2h0M182.3 770.5h0M209.5 705.1h0M191.7 695.1h0M201.5 778.3h0M152.3 805.6h0M485.9 743.9h0M415.9 740.1h0M500.9 770.9h0M354.1 717.3h0M401.6 803.1h0M77.5 702.8h0M189.7 767.6h0M459.1 783.7h0M444.9 748.9h0M315.7 779.9h0M216.5 689.4h0M248.4 711h0M442.2 770.7h0M117.7 721.5h0M154 744.9h0M361.2 754.8h0M85.1 738.9h0M333.6 797.7h0M284.6 737.4h0M332.5 702.4h0M284.4 686.4h0M357 785.7h0M102.3 693.9h0M384.9 750.9h0M276.4 793.5h0M322.4 703.6h0M511.1 692h0M442.8 791.8h0M343.6 688.8h0M510.7 682.8h0M458.4 799.2h0M81.5 757.8h0M71 774.7h0M272.6 803.7h0M402.3 710.8h0" stroke-width="1" opacity="0.35"/><path d="M155 736.4h0M160.8 757.8h0M403.4 764.4h0M300.6 697.9h0M256.2 721.9h0M108.9 702.3h0M370.4 781h0M283.1 780.9h0M484.9 680.7h0M344.3 759.5h0M273.9 729.4h0M502 693.8h0M380.2 794.3h0M388.3 743.2h0M477.3 712.2h0M351.7 794.1h0M352.1 706.4h0M238.4 696.6h0M197.3 710.4h0M387.8 755.4h0M168.2 797.7h0M243.6 724.2h0M435.1 705.8h0M124.9 698.2h0M113.8 754.5h0M458.1 769.6h0M426.6 727.3h0M325.7 761.6h0M364.4 750h0M352.5 735.4h0M510.4 752.6h0M82.3 708.9h0M365 735.9h0M266.2 729.9h0M292.5 739.2h0M376.4 716.7h0M468.7 719.9h0M341.8 732.2h0M456.5 786h0M215.2 692.5h0M316.8 785.7h0M342.1 709.2h0M488.9 684.7h0M283.8 713.7h0M184.3 707h0M338.7 780.9h0M474.3 747.3h0M460.2 736h0M329.9 722.8h0M423.6 696.7h0" stroke-width="1.9" opacity="0.57"/><path d="M447.8 697.4h0M446.3 728.7h0M120.9 742.6h0M307.9 681.1h0M448.9 764.9h0M138.8 689.4h0M179.6 698.1h0M107.6 753.7h0M496.6 683.1h0M306.7 808.5h0M504.7 773.5h0M222.7 786.7h0M399.6 809.6h0M215.8 700.1h0M427.4 783.2h0M262.3 759.2h0M500.7 769h0M236.6 694.4h0M424.4 718.2h0M463.9 746.9h0M338.1 772h0M380 795.2h0M267 781.1h0M94.1 702.7h0M491.6 804.1h0M316.5 754.3h0M208.7 745.7h0M402 773.4h0M104.6 806.1h0M195.6 788.7h0M453.6 808.6h0M339.6 761.2h0M295.4 793.1h0M161.7 715.9h0M132.8 770.3h0M274.2 682.2h0M387.3 690.1h0M491.1 796.2h0M295 754.8h0M239.4 690.9h0M73.4 804.8h0M490.5 681.9h0M477.3 728.2h0M187 735.4h0M498.2 732.9h0M347.8 681h0M391.1 807.5h0M200.3 783.3h0M378.6 807.9h0M503.1 780.2h0M304.7 705.8h0M352.1 720.6h0M487.7 705.8h0M389 774h0M481.4 764.2h0M442.6 770h0M258 801.8h0" stroke-width="1" opacity="0.57"/><path d="M462.6 811h0M80.8 746.9h0M382.2 695.9h0M104.2 749.9h0M242.9 692.1h0M82.9 695.7h0M176.5 764.9h0M245.5 725.9h0M326.1 797.6h0M339.6 773.2h0M400.8 761h0M462.1 707.8h0M469.4 708h0M475 776.5h0M439.3 688.3h0M214.6 740.7h0M204.7 741.2h0M121 758.9h0M196 806h0M92.4 760.4h0M87.2 792.3h0M170.2 739h0M326.9 719h0M142.2 739h0M261.4 803.3h0M130.5 706.7h0M173.6 794.8h0M473.8 806.8h0M481.1 807h0M174.7 722.1h0M439.4 768.3h0M424.1 710.6h0M168.3 764.9h0M204.2 799.5h0M71.9 754h0M243.2 693.8h0M323.8 742.4h0M409.5 797.5h0M449.9 713.8h0M79.6 767.6h0M248.3 803.9h0M390 804.6h0M333.8 699h0M419.2 709.7h0" stroke-width="1.9" opacity="0.8"/><path d="M130 713.5h0M338.1 742.2h0M191.3 714.3h0M161.1 768.7h0M189.1 704.7h0M422.4 801.6h0M375.1 754.7h0M381.6 772h0M451.6 810.9h0M192.1 780.2h0M513.3 775.6h0M396.3 756.1h0M303.7 739.8h0M434.3 711.9h0M405.2 738.2h0M519.4 729.7h0M485.2 794h0M431.3 761.3h0M151.3 789.6h0M453.2 680.4h0M508.9 692.2h0M85.2 810.3h0M413.1 799.5h0M305.5 722.1h0M494.9 782.9h0M150.6 744.2h0M316.2 783.3h0M141.7 724.9h0M110 714.6h0M278.8 704.6h0M265.9 717.3h0M461.2 716h0M363 778.3h0M263.2 735.1h0M101 688.2h0M107 780.2h0M379.3 708.9h0M70.8 776.1h0M216 792.7h0M192.5 730.7h0M289 685.3h0M89.1 743.7h0M104.3 792.6h0M258.9 770.3h0M71.7 789h0" stroke-width="1.4" opacity="0.35"/></g>
<g stroke="#a01810" stroke-linecap="round" fill="none" filter="url(#bl1)"><path d="M510.7 747.4h0M234.2 774.8h0M383.8 787.6h0M128.5 817.7h0M519.8 819.4h0M201.6 737.4h0M115.4 710.1h0M464.9 840.9h0M509.2 787h0M331.3 814.2h0M340.3 704.9h0M335.3 666.4h0M390.2 686.9h0M382.1 800.1h0M465.1 801.1h0M427.2 751.9h0M445.2 816.5h0M464.3 693.7h0M358.2 736.3h0M433 694.9h0M504.1 663.7h0M394.8 770h0M506.7 827.5h0M373.3 811.8h0M482.9 661.1h0M183.2 649.1h0M270.9 801.9h0M97.1 825.2h0M198 677.4h0M454.1 833.6h0M369.6 681h0M88.3 839.9h0M376 720.9h0" stroke-width="1.9" opacity="0.7"/><path d="M400 694.1h0M168.9 670.3h0M330.1 795.2h0M215.4 797.9h0M353 661.3h0M457.1 704.2h0M117.8 658.2h0M225.9 823.6h0M287.3 676.3h0M384.5 788.2h0M472.3 792h0M313.3 666.1h0M270.2 675.9h0M149.6 744.1h0M453.7 713.7h0M451.3 854.4h0M327.3 807.3h0M266.4 816.1h0M349.5 651.7h0M86.8 677.4h0M386.8 861.1h0M212.6 852.5h0M67.4 830.6h0M190.9 847.3h0M423.2 853.5h0M499.3 859.6h0M380.9 696.3h0M380.3 790.8h0M95.8 824.9h0M146.6 653.9h0M332.5 790h0M462.3 828.8h0M203.4 700.7h0M301.1 811.6h0" stroke-width="1" opacity="0.7"/><path d="M401.9 791.1h0M359.8 730.6h0M395.3 810.9h0M299.9 665.3h0M123.4 661.4h0M218.6 810.9h0M225.6 681h0M334.7 834.6h0M482.1 818.2h0M113.9 802.8h0M357.1 775.3h0M363.1 674.4h0M274.3 659h0M463.5 796.8h0M136.1 680.4h0M100.8 677.8h0M310.4 686.4h0M431.6 681.3h0M193.1 778.4h0M221.3 862.2h0M165.8 832.2h0M190.4 693.4h0M332.6 792.6h0M433.5 785.5h0M214.1 828.3h0M502 844.2h0M312.4 757.7h0M365.7 664.5h0M183.5 673.7h0M132.8 841.4h0M501.8 790.8h0" stroke-width="1.4" opacity="0.5"/><path d="M462.2 672.8h0M167.7 829.5h0M326.4 829.3h0M382.3 836.1h0M451.2 748.7h0M185.5 686.4h0M346.9 779.5h0M309.5 862.4h0M160.2 687.8h0M511.4 747.5h0M295.5 844.3h0M324.9 824.6h0M426.9 798.1h0M383.6 849.1h0M455.8 710.3h0M480.7 806.7h0M146.9 856.3h0M258.7 756.3h0M378.3 772.9h0M251.5 672.1h0M145.7 781.9h0M482.8 674.6h0M211.4 684h0M187.4 820.2h0" stroke-width="1" opacity="0.3"/><path d="M304.1 687.1h0M285.1 678.8h0M376.1 722.9h0M261.2 710.5h0M181.1 761.7h0M188 670.9h0M173.8 765.3h0M172.7 672.7h0M335.9 807.2h0M131.6 721.4h0M454.8 657.9h0M139 776.3h0M342.1 780.9h0M88.4 778.2h0M336.4 659.2h0M191.6 756.6h0M256.6 736.4h0M231.1 785.7h0M369.5 761h0M327.1 714.6h0M300.4 720h0M305.8 652.4h0M395.3 827h0M192.2 677.3h0M171.1 835.8h0M483.5 853.6h0" stroke-width="1.4" opacity="0.7"/><path d="M298 829h0M477.9 814h0M388.1 711.1h0M337.5 733.6h0M176.4 748.5h0M426.9 813.9h0M248.2 803.4h0M370.6 712.4h0M464.4 806.8h0M252.8 693.5h0M424.9 790.7h0M511.8 787.4h0M292.9 651.8h0M88.4 809h0M336.9 666.9h0M250.1 827.7h0M336.9 653h0M111.4 682.2h0M436.1 785.1h0M442 812h0M306.4 834.6h0M190.3 657.9h0M240.3 773.8h0M187 653.1h0M122.5 688.3h0M515.4 672.3h0M75.8 796.9h0M477.2 859.7h0M312.8 736.6h0M194.6 708h0M320 801.9h0M480.3 823.5h0M189.5 790.6h0M142.9 683.5h0M368.6 676.3h0M431.3 777.6h0" stroke-width="1.9" opacity="0.5"/><path d="M306.5 803.1h0M181.4 668.7h0M419.9 718.3h0M109.8 747.3h0M271.4 823h0M120.8 849.8h0M181.7 701h0M198.6 793h0M131.2 812.5h0M365 853.7h0M230.4 651h0M430.5 698.2h0M475.1 860.5h0M113.3 799.4h0M111.1 657.3h0M454.5 724.1h0M428.6 843.5h0M475.5 653.6h0M378.3 760.4h0M237.1 707.3h0M435.2 771.8h0M341.7 821.5h0M349.9 778.2h0M366.1 780.9h0M481.1 696.3h0M69 735h0M203.9 718.7h0M222.4 820.6h0M271 744.7h0M398.3 786.1h0M335.6 751.8h0" stroke-width="1.4" opacity="0.3"/><path d="M447.9 791.9h0M185.5 843h0M466.5 785.1h0M300.1 807.1h0M416.8 669h0M441.6 851h0M191.4 770.6h0M122 717h0M421 794.6h0M405.3 855h0M478.5 808.2h0M447.2 814.2h0M425.1 742.3h0M297.5 846.8h0M126.1 757.9h0M481.1 783.4h0M486.8 745.9h0M512.7 663.2h0M253.1 817.6h0M83.6 860.4h0M398.4 768h0M472.2 700.6h0M210.5 800.3h0M362.6 729.3h0M95.5 801.7h0" stroke-width="1" opacity="0.5"/><path d="M286.8 866.6h0M313.2 771.5h0M170.7 731.9h0M216.8 769h0M149.3 726.9h0M314.6 839.2h0M79.4 748.3h0M348.3 779.4h0M385.3 713.1h0M465.5 830h0M315.9 836.6h0M293.5 855.8h0M187.5 806.6h0M173 684.7h0M79.1 800h0M425.3 751.7h0M121.7 814.9h0M285.6 661.5h0M284.6 829.2h0M378.7 689.7h0" stroke-width="1.9" opacity="0.3"/></g>
<ellipse cx="276.87" cy="761.51" rx="1.65" ry="4.95" fill="#f03020" opacity="0.8" filter="url(#bl1)" transform="rotate(10 276.87 761.51)"/>
<ellipse cx="370.82" cy="739.11" rx="4.4" ry="1.38" fill="#f03020" opacity="0.8" filter="url(#bl1)" transform="rotate(15 370.82 739.11)"/>
<ellipse cx="447.91" cy="738.63" rx="1.65" ry="3.85" fill="#f03020" opacity="0.8" filter="url(#bl1)" transform="rotate(-20 447.91 738.63)"/>
<ellipse cx="468.39" cy="710.2" rx="1.65" ry="2.2" fill="#f03020" opacity="0.8" filter="url(#bl1)" transform="rotate(0 468.39 710.2)"/>
<ellipse cx="139.55" cy="696.47" rx="3.85" ry="1.65" fill="#f03020" opacity="0.8" filter="url(#bl1)" transform="rotate(0 139.55 696.47)"/>
<ellipse cx="349.14" cy="721.76" rx="2.75" ry="2.75" fill="#f03020" opacity="0.8" filter="url(#bl1)" transform="rotate(0 349.14 721.76)"/>
<ellipse cx="139.55" cy="716.94" rx="2.75" ry="3.3" fill="#f03020" opacity="0.8" filter="url(#bl1)" transform="rotate(0 139.55 716.94)"/>
<ellipse cx="500.91" cy="657.92" rx="2.2" ry="1.65" fill="#f03020" opacity="0.8" filter="url(#bl1)" transform="rotate(0 500.91 657.92)"/>
<ellipse cx="98.6" cy="772.35" rx="1.65" ry="1.65" fill="#f03020" opacity="0.8" filter="url(#bl1)" transform="rotate(0 98.6 772.35)"/>
</g>
<clipPath id="ce2"><rect x="539.7" y="645" width="454.9" height="221.5"/></clipPath><g clip-path="url(#ce2)">
<rect x="539" y="644.6" width="455.6" height="222.9" fill="#0b0707"/>
<filter id="nf9" x="0" y="0" width="1" height="1" color-interpolation-filters="sRGB"><feTurbulence type="fractalNoise" baseFrequency="0.4" numOctaves="3" seed="43" stitchTiles="noStitch"/><feColorMatrix type="matrix" values="0 0.11 0 0 -0.02 0 0.05 0 0 -0.01 0 0.05 0 0 -0.01 0 0 0 0 1"/></filter>
<rect x="425.1" y="531.1" width="683.4" height="450.3" filter="url(#nf9)" transform="rotate(27 766.8 756.25)"/>
<g stroke="#c82018" stroke-linecap="round" fill="none" filter="url(#bl1)"><path d="M976.4 811.7h0M650.1 827.6h0M735.6 662.2h0M769.6 698.1h0M761.9 722.8h0M913.1 694.3h0M673.4 792.6h0M605.5 679.5h0M851 714.6h0M845 746.5h0M771.3 824.6h0M849.7 763.4h0M888.4 715.4h0M886.4 789.1h0M802.1 697.5h0M608 765.3h0M632.4 801.5h0M650.2 823h0M694.7 740.2h0M924.7 775.5h0M619.8 798.2h0M933.9 726.8h0M799.6 810.6h0M870 813.1h0M911.7 744.2h0M798 682.8h0M921.9 789.2h0M668 682.4h0M770.8 736.3h0M841 780.3h0M568.9 820.7h0M681.1 764.2h0M695.3 727.8h0M756.4 791.3h0M696.8 699.3h0M708.2 773.7h0M605.2 784.1h0M580.9 711.2h0M902.6 720.6h0M790.8 799.3h0M793.4 746.3h0M652.9 695.9h0M703.7 765.6h0M912.6 725.1h0M789 715.7h0M539.3 659.5h0M633.2 823.9h0M827.1 759.6h0M636.5 673.4h0M697.5 796.3h0M676.8 667.7h0M892.4 748h0M910.6 750.7h0M878.5 678.9h0" stroke-width="1.9" opacity="0.25"/><path d="M717.2 658.8h0M954.7 676.2h0M584.7 763.3h0M822.9 753.3h0M827.3 819.1h0M740.5 668.6h0M597.9 781.2h0M896.6 702.5h0M894.2 813.3h0M785.7 699.9h0M757.5 783h0M804.5 815h0M704.1 803h0M939.2 721.2h0M657.2 800.6h0M856.5 817.4h0M620.7 813.1h0M862 807.5h0M975.8 707.7h0M715.5 732.6h0M820.4 704.5h0M909.2 720.6h0M814.6 746.2h0M897.2 727h0M654.4 729.7h0M730.1 801.5h0M800.4 735.8h0M640.8 659.4h0M808 720.1h0M648.9 834.2h0M638.2 747.7h0M667.1 812.2h0M952.8 813h0M616.4 679.4h0M650.4 754.4h0M859 812.4h0M774.7 733.6h0M916.5 669.3h0M936 813h0M755 771.9h0M932.8 660.1h0M950.7 660h0M667 772h0M918.6 745.4h0" stroke-width="1" opacity="0.25"/><path d="M573.8 790.8h0M675.3 664.8h0M753.9 756.8h0M930 815h0M572.6 773.4h0M564.5 795.5h0M637.6 784.8h0M716.3 826.3h0M744 673.5h0M641.7 781.3h0M896.2 757.5h0M601.9 794.9h0M760.2 823.2h0M567.6 697.1h0M951.8 742.3h0M958 720.8h0M877.1 725.3h0M756.3 718.5h0M832.9 688.6h0M963.3 695.4h0M696.8 707.3h0M667.2 757.3h0M859.9 738.9h0M610.2 786.4h0M650.3 790.5h0M688.1 770.7h0M695.4 751.1h0M968.4 778.6h0M926.5 771.2h0M570.2 753.2h0M555.8 774h0M686.6 739h0M606.1 777h0M852.1 699.2h0M650.8 722.3h0M987.1 805.8h0M596 763h0M824.4 784.8h0M584 661.3h0M833 679.3h0M946.7 793h0M590.1 810.7h0M985.3 797.3h0M977.1 670.8h0M719.2 755.5h0M869 834.1h0M786 782.5h0M989.9 732h0M851.5 758.2h0M620.3 702.1h0M816.2 808.1h0M764.4 725.7h0M744 795.6h0" stroke-width="1.4" opacity="0.7"/><path d="M566.7 693.5h0M913.4 834.3h0M663.6 791h0M685.8 774.4h0M686.2 808.2h0M808.7 795h0M961.3 692.7h0M567.6 692.2h0M624 705.6h0M790.6 829.6h0M572.9 779.2h0M754 743.7h0M956.8 713.8h0M598.9 797.1h0M634.4 710.2h0M814.5 819.2h0M886.7 730.9h0M607.4 739.7h0M665.3 706.8h0M539.1 822.1h0M821.9 794.8h0M883.9 693.4h0M987.8 702.4h0M545.1 788.1h0M944.1 753h0M595.6 700.6h0M972.9 725.1h0M562.2 721.2h0M623.3 831.9h0M965.9 824.8h0M847 748.4h0M747.1 729h0M979.5 833.6h0M819.3 676.1h0M811.9 676.3h0M781.5 746.1h0M724.8 684h0M653.6 739.8h0M908 746.3h0M980.5 831.2h0" stroke-width="1.4" opacity="0.47"/><path d="M987.9 825h0M553.4 739.3h0M917.3 742.2h0M826.7 783.8h0M626.8 700.8h0M836.2 675.7h0M697.9 813.5h0M568 716.7h0M607.8 723.4h0M813.8 689.9h0M947.2 708.4h0M579.9 723.2h0M834.9 802.5h0M786.7 770.9h0M555.1 660.3h0M628.9 812.9h0M869.8 712.3h0M910.3 807h0M795.1 776h0M653.7 722.1h0M823.2 756.3h0M809.6 753.6h0M758.1 750.4h0M644.4 800.8h0M960.8 740.6h0M714.4 691.6h0M620.3 806.4h0M627.6 752h0M950.3 735.8h0M626.1 771.5h0M830.2 790.7h0M980.1 731h0M559.2 825h0M649.2 668.3h0M845.4 830.1h0M831 787.3h0M654.9 754.5h0M654.4 819.5h0M619.9 783.3h0M890.8 742.6h0M951 732.8h0M863 702h0M587.9 709.4h0M770.8 667.6h0M556.8 770.2h0M833.4 784h0" stroke-width="1" opacity="0.7"/><path d="M653.9 730.9h0M576.9 693h0M934 709h0M641.8 670.3h0M619 705.4h0M620.1 687.2h0M898 791h0M591.4 672h0M815.6 695.9h0M645.6 763.5h0M954.9 659.6h0M986.5 807.6h0M650.6 673.6h0M815.5 709.7h0M888.6 672h0M677.6 816.8h0M776.4 720.6h0M569.9 764.7h0M673.3 719.7h0M684.6 751.2h0M703.6 751.8h0M903.7 721.7h0M559.9 665.9h0M993.8 786.9h0M840 819.1h0M974.7 738.6h0M884.2 671.4h0M610.9 698.6h0M980.9 730.1h0M926.5 751.3h0M603 709.6h0M552.7 710.5h0M865.9 662.3h0M585.5 751h0" stroke-width="1" opacity="0.47"/><path d="M868 739.1h0M931.1 689.9h0M823.1 671.1h0M821.5 827.1h0M801.1 764.7h0M893.9 669.7h0M660.2 796.7h0M724 754.5h0M991.1 744.1h0M838.4 702.8h0M793.8 748.6h0M803.4 759.6h0M898.5 740.6h0M835.6 730.3h0M934 708.9h0M893.1 722.3h0M918.2 735h0M823.9 785.1h0M950.5 770.8h0M945.3 664.3h0M686.9 702.3h0M897 766.7h0M813.5 790.4h0M591.9 774.4h0M937.3 770.9h0M879.8 687.4h0M854.2 802.4h0M939 676h0M843.1 724.4h0M621 732.4h0M888.4 712.8h0M821.4 826.7h0M919.6 772.9h0M870.3 811h0M844.4 750.9h0" stroke-width="1.9" opacity="0.47"/><path d="M928.5 809.4h0M739.9 733.2h0M935.3 675.3h0M630.6 801h0M830.3 793.9h0M806.7 754.9h0M976.1 676.1h0M731.2 790h0M716.8 670.6h0M812.4 793.7h0M631.7 777.8h0M570.5 816.6h0M585.8 667.8h0M975.2 738h0M692.1 822.5h0M539.1 734.6h0M620.6 732.6h0M779 722.1h0M964.1 680.2h0M670.8 731h0M855.1 701h0M844.3 783.1h0M883.8 773.8h0M784.9 778.3h0M582.3 744.3h0M683.4 737.6h0M906.4 707.6h0M906.2 758.7h0M592.2 667.3h0M664.2 773.7h0M557 792.9h0M838.5 678.2h0M768.6 674.4h0M675.5 660.4h0M813.2 707.6h0M582.7 664.5h0M786.8 684.4h0M921.2 713.1h0M942.1 745.1h0M566.7 814.4h0M766.7 674.2h0M831.4 828.7h0M824.4 720.4h0" stroke-width="1.9" opacity="0.7"/><path d="M891.5 766h0M948.4 681.2h0M892.6 819.4h0M871.3 668.4h0M874 800.1h0M988.3 664.6h0M595.7 773.1h0M761.1 659.6h0M714 717.1h0M810 675.6h0M818.7 764.9h0M841.1 795h0M602.3 671.1h0M774.3 706.5h0M627.6 807.8h0M785.3 668.6h0M616.5 665.4h0M770 816.5h0M905.6 728.1h0M593.4 677.1h0M689.9 666.7h0M737.9 776.4h0M825.1 815.9h0M706.7 819.6h0M772.2 794.4h0M766.3 667.6h0M641.3 713h0M688.2 749.1h0M804.3 665.4h0M846.1 769.3h0M943.1 726.7h0" stroke-width="1.4" opacity="0.25"/></g>
<ellipse cx="750.85" cy="761.47" rx="2" ry="5" fill="#d02820" opacity="0.75" filter="url(#bl1)" transform="rotate(10 750.85 761.47)"/>
<ellipse cx="848.81" cy="737.17" rx="5" ry="1.8" fill="#d02820" opacity="0.75" filter="url(#bl1)" transform="rotate(15 848.81 737.17)"/>
<ellipse cx="926.26" cy="734.96" rx="2" ry="4.5" fill="#d02820" opacity="0.75" filter="url(#bl1)" transform="rotate(-20 926.26 734.96)"/>
<ellipse cx="942.21" cy="708.45" rx="2.5" ry="3" fill="#d02820" opacity="0.75" filter="url(#bl1)" transform="rotate(0 942.21 708.45)"/>
<ellipse cx="611.9" cy="712.87" rx="5" ry="3" fill="#d02820" opacity="0.75" filter="url(#bl1)" transform="rotate(0 611.9 712.87)"/>
<ellipse cx="823.75" cy="719.5" rx="5" ry="5" fill="#d02820" opacity="0.75" filter="url(#bl1)" transform="rotate(0 823.75 719.5)"/>
<ellipse cx="630.12" cy="690.78" rx="1.5" ry="5" fill="#d02820" opacity="0.75" filter="url(#bl1)" transform="rotate(-20 630.12 690.78)"/>
<ellipse cx="971.82" cy="657.64" rx="3" ry="2" fill="#d02820" opacity="0.75" filter="url(#bl1)" transform="rotate(0 971.82 657.64)"/>
</g>
<clipPath id="ce3"><rect x="66.8" y="870.8" width="453.4" height="219.8"/></clipPath><g clip-path="url(#ce3)">
<rect x="66.8" y="870.8" width="453.4" height="219.8" fill="#1c0809"/>
<filter id="nf10" x="0" y="0" width="1" height="1" color-interpolation-filters="sRGB"><feTurbulence type="fractalNoise" baseFrequency="0.45" numOctaves="3" seed="47" stitchTiles="noStitch"/><feColorMatrix type="matrix" values="0 0.38 0 0 -0.09 0 0.08 0 0 -0.02 0 0.08 0 0 -0.01 0 0 0 0 1"/></filter>
<rect x="-46.55" y="757.45" width="680.1" height="446.5" filter="url(#nf10)" transform="rotate(27 293.5 980.7)"/>
<path d="M66.8 960.13L89.47 957.03L112.14 953.93L134.81 950.82L157.48 949.33L180.15 947.83L202.82 946.34L225.49 946.45L248.16 946.56L270.83 946.67L293.5 946.78L316.17 948.08L338.84 949.38L361.51 952.51L384.18 958.38L406.85 964.25L429.52 971.96L452.19 982.17L474.86 992.39L497.53 1001.19L520.2 1010L520.2 1080.92L497.53 1070.45L474.86 1059.98L452.19 1048.11L429.52 1036.24L406.85 1027.41L384.18 1020.43L361.51 1013.46L338.84 1009.22L316.17 1006.81L293.5 1004.41L270.83 1004.52L248.16 1004.63L225.49 1004.74L202.82 1004.85L180.15 1006.57L157.48 1008.28L134.81 1010L112.14 1013.32L89.47 1016.65L66.8 1019.97Z" fill="#262c14" opacity="0.85" filter="url(#bl2)"/>
<g filter="url(#bl1)"><g fill="#243c1d" opacity="0.85"><ellipse cx="441.8" cy="989.8" rx="5.7" ry="7.1"/><ellipse cx="205.4" cy="962.8" rx="5.1" ry="7.7"/><ellipse cx="451.4" cy="1044.1" rx="5.1" ry="7.1"/><ellipse cx="230.8" cy="985.1" rx="5" ry="7.8"/><ellipse cx="320.1" cy="998.2" rx="5.6" ry="7.8"/><ellipse cx="311.7" cy="986" rx="5.4" ry="7.2"/><ellipse cx="293.8" cy="971.6" rx="5.3" ry="6.9"/><ellipse cx="393.7" cy="1016.8" rx="4.7" ry="7.3"/><ellipse cx="168.4" cy="1009.3" rx="5.1" ry="6.5"/><ellipse cx="267.5" cy="997.4" rx="4.9" ry="6"/><ellipse cx="414.4" cy="971.3" rx="4.4" ry="6.6"/><ellipse cx="465.1" cy="1022.3" rx="4.4" ry="6"/><ellipse cx="337.6" cy="962" rx="5.7" ry="7.8"/><ellipse cx="390.9" cy="1007.7" rx="5.2" ry="6.1"/><ellipse cx="136.5" cy="965.5" rx="4.9" ry="7.2"/><ellipse cx="230.6" cy="995.1" rx="4.6" ry="7.8"/></g><g fill="#2f4b22" opacity="0.6"><ellipse cx="346.6" cy="958.3" rx="4.5" ry="6.9"/><ellipse cx="290.4" cy="969.5" rx="5.6" ry="7.4"/><ellipse cx="515.4" cy="1077.6" rx="4.9" ry="7.4"/><ellipse cx="463.8" cy="1033" rx="4.2" ry="7.5"/><ellipse cx="169.6" cy="976.9" rx="4.3" ry="8.1"/><ellipse cx="370.7" cy="972.9" rx="4.6" ry="6.7"/><ellipse cx="159" cy="961" rx="5.4" ry="6.5"/><ellipse cx="467.3" cy="1001.7" rx="5.6" ry="7.9"/><ellipse cx="452.6" cy="1013" rx="5.4" ry="8.1"/><ellipse cx="225.9" cy="994.3" rx="5.1" ry="6.3"/><ellipse cx="204.5" cy="1004.1" rx="4.8" ry="6.9"/><ellipse cx="101.4" cy="995.6" rx="5.8" ry="7.5"/><ellipse cx="170.6" cy="977.8" rx="5.3" ry="6.5"/><ellipse cx="453.4" cy="1017.4" rx="4.9" ry="7.6"/><ellipse cx="272.9" cy="981.9" rx="5.4" ry="7.6"/><ellipse cx="168.6" cy="978.1" rx="4.7" ry="6.9"/><ellipse cx="273.3" cy="994" rx="4.7" ry="7.8"/><ellipse cx="134.3" cy="987.8" rx="5.2" ry="7.3"/><ellipse cx="304.4" cy="998.8" rx="5.8" ry="8.1"/></g><g fill="#2f4b22" opacity="0.7"><ellipse cx="370.8" cy="980" rx="4.8" ry="6.6"/><ellipse cx="440.3" cy="1004" rx="4.8" ry="7.6"/><ellipse cx="393.1" cy="1018.9" rx="4.2" ry="7"/><ellipse cx="458.1" cy="1036.9" rx="5.1" ry="6.4"/><ellipse cx="263.8" cy="972.8" rx="4.7" ry="6.8"/><ellipse cx="265.3" cy="1001" rx="4.8" ry="6.8"/><ellipse cx="346.8" cy="970.8" rx="4.2" ry="8.1"/><ellipse cx="447.6" cy="1038.8" rx="5.6" ry="7.8"/><ellipse cx="479.1" cy="1031.2" rx="5.1" ry="7.6"/><ellipse cx="469.9" cy="1014.4" rx="4.6" ry="7.5"/><ellipse cx="411.1" cy="991.8" rx="4.6" ry="6.2"/><ellipse cx="512.1" cy="1028.8" rx="5.7" ry="7.8"/><ellipse cx="314.4" cy="956.5" rx="4.2" ry="6.9"/><ellipse cx="260.4" cy="972.1" rx="5.5" ry="6.7"/><ellipse cx="453.3" cy="1046.1" rx="4.7" ry="6.3"/></g><g fill="#3a5724" opacity="0.85"><ellipse cx="293.5" cy="946.4" rx="5.3" ry="7.5"/><ellipse cx="372.3" cy="970.9" rx="5" ry="6.2"/><ellipse cx="429.5" cy="983" rx="4.6" ry="7.7"/><ellipse cx="226.4" cy="957" rx="5" ry="7.1"/><ellipse cx="488.4" cy="997.7" rx="4.5" ry="6.5"/><ellipse cx="329.6" cy="954.5" rx="4.6" ry="7.2"/><ellipse cx="272" cy="984.7" rx="5.4" ry="7.8"/><ellipse cx="95.1" cy="967.7" rx="5.4" ry="8.1"/><ellipse cx="397" cy="1006.5" rx="4.8" ry="6.5"/><ellipse cx="101.6" cy="989.3" rx="4.2" ry="6.6"/><ellipse cx="400.4" cy="961.4" rx="5.2" ry="7.5"/><ellipse cx="185.7" cy="977.7" rx="4.5" ry="7"/><ellipse cx="260.4" cy="947" rx="4.8" ry="6.1"/><ellipse cx="468.4" cy="996.2" rx="5.1" ry="6.6"/></g><g fill="#2a4522" opacity="0.7"><ellipse cx="251.5" cy="999" rx="5.4" ry="6.2"/><ellipse cx="359.3" cy="1013.7" rx="5.2" ry="7.9"/><ellipse cx="375.1" cy="988.5" rx="5.3" ry="6.7"/><ellipse cx="192.8" cy="968.3" rx="5.4" ry="7"/><ellipse cx="401.1" cy="1028" rx="4.6" ry="7.9"/><ellipse cx="145.4" cy="963.8" rx="5.7" ry="6.9"/><ellipse cx="443.2" cy="1008.9" rx="5.3" ry="6.8"/><ellipse cx="77.6" cy="1017.3" rx="4.5" ry="6.4"/><ellipse cx="421.1" cy="968.1" rx="4.2" ry="6.2"/><ellipse cx="75.1" cy="993.2" rx="4.3" ry="6.3"/><ellipse cx="329.6" cy="985" rx="4.6" ry="6.7"/><ellipse cx="209" cy="948.4" rx="4.9" ry="7.6"/><ellipse cx="271.3" cy="949.1" rx="5.6" ry="6.9"/><ellipse cx="365.7" cy="957.6" rx="5.6" ry="7.3"/><ellipse cx="169.5" cy="987.8" rx="4.3" ry="7.3"/><ellipse cx="172.5" cy="1008.9" rx="5.7" ry="7.4"/><ellipse cx="247.6" cy="996.7" rx="5.6" ry="7.7"/></g><g fill="#2a4522" opacity="0.5"><ellipse cx="275.4" cy="957.7" rx="4.6" ry="8.1"/><ellipse cx="453" cy="1004.6" rx="4.5" ry="7.8"/><ellipse cx="167" cy="987.1" rx="4.5" ry="8.1"/><ellipse cx="155.7" cy="978.5" rx="5" ry="6.4"/><ellipse cx="209.3" cy="993.2" rx="4.5" ry="8.1"/><ellipse cx="472.2" cy="1038" rx="5.2" ry="7.9"/><ellipse cx="257.9" cy="964.9" rx="4.2" ry="6.6"/><ellipse cx="303.8" cy="953.1" rx="5.6" ry="7"/><ellipse cx="492.7" cy="1020.1" rx="5" ry="7.3"/><ellipse cx="131.9" cy="982.4" rx="4.7" ry="6.9"/><ellipse cx="98.7" cy="993.4" rx="4.7" ry="6.6"/><ellipse cx="452.4" cy="1050.2" rx="5.3" ry="7.1"/><ellipse cx="95.8" cy="1005.3" rx="5.4" ry="8.2"/><ellipse cx="292.5" cy="956.1" rx="5.6" ry="7.2"/><ellipse cx="365" cy="1009.4" rx="5" ry="6.1"/><ellipse cx="517" cy="1019.2" rx="4.9" ry="7.8"/><ellipse cx="401.9" cy="1011.8" rx="5.3" ry="7.9"/><ellipse cx="462.4" cy="1046.1" rx="5.4" ry="7.5"/><ellipse cx="225.4" cy="1002.1" rx="5.3" ry="7"/><ellipse cx="359.8" cy="958.4" rx="5.4" ry="6.3"/><ellipse cx="106.8" cy="984.3" rx="4.7" ry="6.8"/><ellipse cx="312.2" cy="1001.6" rx="5.5" ry="6.9"/><ellipse cx="101.4" cy="970.4" rx="4.4" ry="7.5"/><ellipse cx="224.4" cy="954.1" rx="5.1" ry="6.2"/><ellipse cx="487" cy="1020.4" rx="4.7" ry="8.1"/></g><g fill="#355223" opacity="0.85"><ellipse cx="257.5" cy="975.8" rx="5.3" ry="8.1"/><ellipse cx="246.9" cy="990.3" rx="4.7" ry="7.5"/><ellipse cx="360.2" cy="955" rx="5.1" ry="6.8"/><ellipse cx="268.1" cy="968.5" rx="4.8" ry="7.1"/><ellipse cx="196.9" cy="986.7" rx="4.8" ry="6.3"/><ellipse cx="159.9" cy="956.8" rx="5.2" ry="8"/><ellipse cx="424" cy="1002.7" rx="4.4" ry="6.2"/><ellipse cx="459.7" cy="1038.1" rx="5" ry="6.8"/><ellipse cx="241.4" cy="966.7" rx="5.6" ry="6.7"/><ellipse cx="279.6" cy="978.6" rx="5.5" ry="6.7"/><ellipse cx="270.4" cy="988.4" rx="5.5" ry="8.2"/><ellipse cx="405.9" cy="983.1" rx="5.2" ry="7.6"/><ellipse cx="303.4" cy="956.1" rx="5.3" ry="8"/><ellipse cx="398.6" cy="1004.5" rx="5" ry="6.3"/><ellipse cx="285.8" cy="964.9" rx="4.7" ry="6.7"/><ellipse cx="418.8" cy="993.8" rx="4.6" ry="6.3"/><ellipse cx="137.4" cy="960.9" rx="5.5" ry="8"/><ellipse cx="222.3" cy="1004.1" rx="4.4" ry="7.1"/><ellipse cx="409.9" cy="970" rx="4.4" ry="6.4"/><ellipse cx="135.9" cy="980.1" rx="5.5" ry="6.4"/><ellipse cx="277.1" cy="996.9" rx="4.9" ry="7.6"/><ellipse cx="172.2" cy="1002.4" rx="5.6" ry="7.5"/><ellipse cx="319.2" cy="973.4" rx="5.2" ry="6.9"/><ellipse cx="153.2" cy="947.3" rx="5.4" ry="7.4"/><ellipse cx="159.8" cy="994.1" rx="4.5" ry="6.1"/></g><g fill="#425320" opacity="0.6"><ellipse cx="285.7" cy="975" rx="5.6" ry="6.2"/><ellipse cx="171" cy="1007" rx="4.4" ry="6.6"/><ellipse cx="246" cy="989.3" rx="4.8" ry="6.8"/><ellipse cx="93.8" cy="976.6" rx="5" ry="7.2"/><ellipse cx="165.7" cy="961.7" rx="5.6" ry="6.8"/><ellipse cx="179.7" cy="971.5" rx="4.6" ry="6.4"/><ellipse cx="456.2" cy="1021.1" rx="5.5" ry="7.3"/><ellipse cx="421" cy="1007.8" rx="4.9" ry="7.3"/><ellipse cx="230.6" cy="975.5" rx="5.3" ry="6.9"/><ellipse cx="279.1" cy="969.3" rx="5.1" ry="6.2"/><ellipse cx="389.8" cy="981.9" rx="5.1" ry="8.1"/><ellipse cx="265.2" cy="964.2" rx="4.4" ry="8.2"/><ellipse cx="370.2" cy="960.6" rx="4.8" ry="6.9"/><ellipse cx="305.2" cy="983.3" rx="5.3" ry="7.5"/><ellipse cx="210" cy="958.8" rx="5.2" ry="7.4"/><ellipse cx="463.1" cy="1017.9" rx="4.5" ry="7.7"/><ellipse cx="187.7" cy="963.2" rx="5.7" ry="6.9"/></g><g fill="#243c1d" opacity="0.5"><ellipse cx="505.9" cy="1002.3" rx="5" ry="7.4"/><ellipse cx="279.7" cy="947.4" rx="4.5" ry="8.1"/><ellipse cx="119" cy="1007" rx="4.2" ry="6.4"/><ellipse cx="197" cy="998.6" rx="5.5" ry="6.3"/><ellipse cx="315.5" cy="956.2" rx="5.1" ry="7.3"/><ellipse cx="166.7" cy="951.9" rx="4.9" ry="7.2"/><ellipse cx="68.4" cy="958.2" rx="5.5" ry="7.2"/><ellipse cx="281.5" cy="972.9" rx="4.5" ry="7.4"/><ellipse cx="77.1" cy="988.3" rx="4.6" ry="7.5"/><ellipse cx="341.6" cy="994.3" rx="4.9" ry="7.3"/><ellipse cx="109.8" cy="997.5" rx="4.7" ry="7.4"/><ellipse cx="442.1" cy="1000.8" rx="5.6" ry="7.5"/><ellipse cx="90.8" cy="982.2" rx="5" ry="6.3"/><ellipse cx="514" cy="1073.9" rx="4.5" ry="6.6"/></g><g fill="#2f4b22" opacity="0.85"><ellipse cx="233.2" cy="956.9" rx="5.3" ry="8"/><ellipse cx="458.9" cy="990.9" rx="4.9" ry="6.5"/><ellipse cx="348.7" cy="1002.5" rx="5" ry="7.1"/><ellipse cx="414.5" cy="970.5" rx="4.7" ry="6"/><ellipse cx="383.4" cy="959.5" rx="4.3" ry="6.2"/><ellipse cx="373.2" cy="965.3" rx="5.3" ry="6.1"/><ellipse cx="164.7" cy="983.2" rx="4.4" ry="6"/><ellipse cx="247.4" cy="992.3" rx="5.7" ry="7.4"/><ellipse cx="75.6" cy="1003.4" rx="4.6" ry="8"/><ellipse cx="189.2" cy="985.5" rx="5.4" ry="6.7"/><ellipse cx="82.9" cy="977.3" rx="5.6" ry="7.1"/><ellipse cx="378.7" cy="977.2" rx="4.4" ry="7.3"/><ellipse cx="96.3" cy="1001" rx="5.5" ry="8.1"/><ellipse cx="283.3" cy="993.6" rx="5.2" ry="7.9"/><ellipse cx="501.3" cy="1059.3" rx="4.7" ry="6.2"/><ellipse cx="374.3" cy="966.4" rx="4.9" ry="6.8"/><ellipse cx="432.1" cy="980.4" rx="4.4" ry="7.2"/><ellipse cx="355.9" cy="1010.7" rx="4.9" ry="7.4"/><ellipse cx="251.7" cy="1005.8" rx="4.4" ry="6.6"/><ellipse cx="456" cy="1008.5" rx="4.9" ry="7.5"/></g><g fill="#3a5724" opacity="0.6"><ellipse cx="334.5" cy="983.2" rx="4.2" ry="7.9"/><ellipse cx="383.9" cy="1016.4" rx="4.7" ry="7.2"/><ellipse cx="199.8" cy="946.6" rx="5.5" ry="7.3"/><ellipse cx="388.8" cy="971" rx="5.3" ry="6.3"/><ellipse cx="384.8" cy="1002.4" rx="4.3" ry="7.2"/><ellipse cx="461.2" cy="1005" rx="5.1" ry="7.5"/><ellipse cx="481.7" cy="1063.1" rx="5" ry="8"/><ellipse cx="149.7" cy="1002.8" rx="4.9" ry="8.2"/><ellipse cx="471.3" cy="1038.8" rx="5.7" ry="7.2"/><ellipse cx="81.8" cy="968.8" rx="4.6" ry="7.7"/><ellipse cx="183.8" cy="967.2" rx="4.8" ry="6.7"/><ellipse cx="400.6" cy="979.3" rx="5.1" ry="7.1"/><ellipse cx="511.1" cy="1049.9" rx="4.9" ry="6.9"/><ellipse cx="511.3" cy="1004.1" rx="5" ry="7"/><ellipse cx="151.4" cy="962.6" rx="4.7" ry="6.5"/><ellipse cx="290.4" cy="994.6" rx="4.3" ry="6.4"/><ellipse cx="73.3" cy="989.4" rx="4.4" ry="7.5"/><ellipse cx="386.6" cy="1013.6" rx="4.8" ry="6.5"/><ellipse cx="263.4" cy="1005.2" rx="4.9" ry="6.9"/><ellipse cx="315.9" cy="977.4" rx="4.3" ry="7"/><ellipse cx="258.6" cy="949.9" rx="5" ry="6.2"/><ellipse cx="390" cy="969.2" rx="5" ry="6.7"/><ellipse cx="373.7" cy="998.5" rx="4.5" ry="6.2"/></g><g fill="#3a5724" opacity="0.7"><ellipse cx="125.1" cy="1010" rx="5.4" ry="6.3"/><ellipse cx="146.7" cy="964" rx="4.2" ry="7.4"/><ellipse cx="132.6" cy="953.7" rx="5.2" ry="7.9"/><ellipse cx="160" cy="977.4" rx="4.5" ry="6.5"/><ellipse cx="327.9" cy="958.2" rx="4.8" ry="6.7"/><ellipse cx="519.4" cy="1050.8" rx="5.1" ry="7.5"/><ellipse cx="263.7" cy="960.8" rx="5" ry="6.4"/><ellipse cx="226.2" cy="998.6" rx="4.6" ry="6.4"/><ellipse cx="215.8" cy="965.6" rx="5.3" ry="7.6"/><ellipse cx="130.1" cy="964.1" rx="5.5" ry="6.6"/><ellipse cx="83.4" cy="977.4" rx="5" ry="8"/><ellipse cx="492.1" cy="1028.8" rx="5.1" ry="7.2"/><ellipse cx="234.8" cy="998.8" rx="5.6" ry="8.2"/><ellipse cx="81.7" cy="989.6" rx="4.7" ry="6.3"/><ellipse cx="174.7" cy="961.7" rx="5.8" ry="6.7"/><ellipse cx="265.7" cy="996.6" rx="5.2" ry="6.3"/><ellipse cx="229.6" cy="955.7" rx="5.4" ry="7.5"/><ellipse cx="167.6" cy="952.6" rx="5.8" ry="6.9"/><ellipse cx="380" cy="985.3" rx="4.9" ry="6.1"/><ellipse cx="442.7" cy="977.6" rx="5" ry="6.4"/><ellipse cx="106" cy="960.6" rx="4.7" ry="7.8"/><ellipse cx="279" cy="948.6" rx="4.8" ry="6.4"/><ellipse cx="418.6" cy="967.7" rx="5.1" ry="7.2"/><ellipse cx="330.8" cy="952.3" rx="4.7" ry="7.5"/></g><g fill="#425320" opacity="0.5"><ellipse cx="233.8" cy="972.6" rx="5.6" ry="7.7"/><ellipse cx="69.7" cy="957.7" rx="5.3" ry="8"/><ellipse cx="106.2" cy="967.1" rx="5.1" ry="7.9"/><ellipse cx="279.8" cy="997" rx="4.7" ry="6.5"/><ellipse cx="518" cy="1076.6" rx="4.7" ry="7.8"/><ellipse cx="447.7" cy="1031.5" rx="5.4" ry="8"/><ellipse cx="231.4" cy="971.8" rx="5.7" ry="7"/><ellipse cx="390.6" cy="1009.3" rx="4.4" ry="8.2"/><ellipse cx="501.8" cy="1010" rx="4.9" ry="6.3"/><ellipse cx="228.5" cy="983.2" rx="4.5" ry="6.1"/><ellipse cx="367.9" cy="962.8" rx="4.9" ry="6"/><ellipse cx="347" cy="954.5" rx="4.4" ry="6.3"/><ellipse cx="399.7" cy="1025.6" rx="5.1" ry="6.9"/><ellipse cx="489.1" cy="1015.1" rx="5.5" ry="6.2"/><ellipse cx="193.4" cy="966.3" rx="4.9" ry="6.7"/><ellipse cx="459.3" cy="1048.2" rx="5.1" ry="7.6"/><ellipse cx="304.9" cy="967.9" rx="5.2" ry="6.5"/><ellipse cx="439.2" cy="997.5" rx="5.5" ry="6.6"/><ellipse cx="429.6" cy="1003.9" rx="4.8" ry="6.8"/><ellipse cx="176.8" cy="981.7" rx="4.3" ry="6.2"/><ellipse cx="97.6" cy="981.5" rx="4.2" ry="7"/></g><g fill="#355223" opacity="0.7"><ellipse cx="113.3" cy="984.8" rx="4.8" ry="7.4"/><ellipse cx="348.1" cy="962.2" rx="5.3" ry="7.7"/><ellipse cx="164.6" cy="954.4" rx="5.1" ry="8.1"/><ellipse cx="191.8" cy="951.1" rx="5.3" ry="7.2"/><ellipse cx="456.4" cy="1029.5" rx="4.3" ry="6.1"/><ellipse cx="458.7" cy="991.5" rx="5.5" ry="6"/><ellipse cx="380.7" cy="1008" rx="4.4" ry="6.1"/><ellipse cx="219.9" cy="984.8" rx="4.8" ry="7.4"/><ellipse cx="197.8" cy="967.6" rx="4.9" ry="8"/><ellipse cx="297.8" cy="982.9" rx="4.9" ry="8.1"/><ellipse cx="255.2" cy="972.9" rx="4.6" ry="6.6"/><ellipse cx="374.3" cy="1012.4" rx="5.6" ry="6.2"/><ellipse cx="295.7" cy="996" rx="5" ry="6.7"/><ellipse cx="425.6" cy="972" rx="4.5" ry="7"/><ellipse cx="108.5" cy="955.1" rx="4.9" ry="6.8"/><ellipse cx="177.4" cy="1007" rx="4.8" ry="7.4"/><ellipse cx="168.6" cy="981.7" rx="5.1" ry="6.2"/></g><g fill="#2a4522" opacity="0.85"><ellipse cx="517.8" cy="1038.9" rx="5.8" ry="6.4"/><ellipse cx="95.1" cy="994.8" rx="4.5" ry="6.1"/><ellipse cx="88.4" cy="997.3" rx="5.1" ry="7.3"/><ellipse cx="171.2" cy="961.4" rx="5.6" ry="6.2"/><ellipse cx="410.2" cy="1027.3" rx="5.4" ry="6.3"/><ellipse cx="79.2" cy="966" rx="5.6" ry="6"/><ellipse cx="145.7" cy="988.2" rx="4.3" ry="7.3"/><ellipse cx="193.2" cy="960.6" rx="5.3" ry="6.7"/><ellipse cx="249.8" cy="987.9" rx="5" ry="7.9"/><ellipse cx="387.8" cy="956.9" rx="4.6" ry="7.9"/><ellipse cx="424.2" cy="1015.7" rx="4.9" ry="6"/><ellipse cx="235.1" cy="945.3" rx="5" ry="7.7"/><ellipse cx="70.2" cy="958" rx="4.9" ry="6.9"/><ellipse cx="78.5" cy="959.1" rx="4.7" ry="8"/></g><g fill="#425320" opacity="0.7"><ellipse cx="93" cy="988.4" rx="4.6" ry="8"/><ellipse cx="179.7" cy="996.7" rx="5" ry="7.7"/><ellipse cx="134.9" cy="961" rx="4.6" ry="7.8"/><ellipse cx="502.9" cy="1006.1" rx="4.9" ry="7.1"/><ellipse cx="299.2" cy="974.4" rx="4.4" ry="7.4"/><ellipse cx="138.3" cy="973.6" rx="5" ry="6.7"/><ellipse cx="438.8" cy="996.1" rx="4.3" ry="7"/><ellipse cx="221.7" cy="986.6" rx="4.2" ry="6.8"/><ellipse cx="241.8" cy="1002.6" rx="5.3" ry="8.2"/><ellipse cx="317.7" cy="973.1" rx="4.3" ry="7.1"/><ellipse cx="307.7" cy="959.4" rx="5.5" ry="6.2"/><ellipse cx="461.5" cy="1005.1" rx="4.4" ry="8.1"/><ellipse cx="221" cy="992.4" rx="4.9" ry="7.6"/><ellipse cx="317.5" cy="968.4" rx="5.1" ry="7.7"/><ellipse cx="365.9" cy="968.9" rx="5.2" ry="8"/><ellipse cx="428.7" cy="996.6" rx="4.2" ry="7.9"/><ellipse cx="290.4" cy="967.4" rx="5.1" ry="6.8"/><ellipse cx="77.6" cy="1009.2" rx="4.5" ry="7.7"/><ellipse cx="151.8" cy="980.6" rx="5.1" ry="6.1"/><ellipse cx="151.9" cy="996.5" rx="5.6" ry="6.8"/><ellipse cx="81" cy="1008.1" rx="4.9" ry="8.1"/><ellipse cx="348.1" cy="992.1" rx="5.6" ry="8.2"/><ellipse cx="454.8" cy="1011.7" rx="5" ry="7.4"/><ellipse cx="492.7" cy="1039.7" rx="4.8" ry="7.8"/></g><g fill="#243c1d" opacity="0.7"><ellipse cx="209.9" cy="969.9" rx="4.6" ry="7.2"/><ellipse cx="324.9" cy="958.7" rx="5" ry="8.2"/><ellipse cx="239.4" cy="945.3" rx="4.9" ry="6.8"/><ellipse cx="271.5" cy="983.8" rx="5.4" ry="6.6"/><ellipse cx="124" cy="956.1" rx="5.5" ry="7.7"/><ellipse cx="94.1" cy="1013.1" rx="4.3" ry="6.3"/><ellipse cx="417.5" cy="1011.2" rx="4.9" ry="6.9"/><ellipse cx="517.6" cy="1022.8" rx="5.8" ry="7.9"/><ellipse cx="185.6" cy="994" rx="4.7" ry="6.9"/><ellipse cx="511.7" cy="1018.9" rx="4.3" ry="6.8"/><ellipse cx="519.3" cy="1018.8" rx="4.6" ry="7.5"/><ellipse cx="488.2" cy="1035.6" rx="5.8" ry="7.4"/><ellipse cx="412.3" cy="964.3" rx="5.5" ry="7.8"/><ellipse cx="321.7" cy="991.8" rx="4.4" ry="7.1"/><ellipse cx="285.8" cy="966.4" rx="5.2" ry="7.2"/></g><g fill="#355223" opacity="0.6"><ellipse cx="450.2" cy="1032.1" rx="5.6" ry="7.8"/><ellipse cx="304.5" cy="979.2" rx="5.7" ry="6.9"/><ellipse cx="352.1" cy="983.9" rx="5.2" ry="8"/><ellipse cx="275.8" cy="1001.5" rx="4.7" ry="7.1"/><ellipse cx="183.5" cy="949.2" rx="4.4" ry="7.6"/><ellipse cx="503" cy="1037.5" rx="5.5" ry="7.3"/><ellipse cx="419.4" cy="1023.9" rx="5.2" ry="6.3"/><ellipse cx="390.1" cy="1012" rx="5.8" ry="7.7"/><ellipse cx="113.5" cy="969" rx="5.3" ry="7.1"/><ellipse cx="342.9" cy="951.5" rx="5.4" ry="7.2"/><ellipse cx="158.6" cy="951.4" rx="4.7" ry="7.4"/><ellipse cx="472.8" cy="1002.5" rx="5" ry="7.5"/><ellipse cx="254.2" cy="1004" rx="5.1" ry="7.5"/><ellipse cx="453.7" cy="991.6" rx="4.7" ry="7.3"/><ellipse cx="269.2" cy="1003.1" rx="5.1" ry="6.8"/><ellipse cx="179.3" cy="993.5" rx="4.4" ry="7.2"/><ellipse cx="230.9" cy="997" rx="4.4" ry="7.2"/><ellipse cx="389.2" cy="991.6" rx="5.5" ry="8.1"/><ellipse cx="116" cy="977" rx="5.1" ry="6.1"/></g><g fill="#3a5724" opacity="0.5"><ellipse cx="83.5" cy="985.5" rx="4.9" ry="6.7"/><ellipse cx="424.6" cy="987.8" rx="5.4" ry="6.8"/><ellipse cx="415.1" cy="1026.2" rx="4.8" ry="7.7"/><ellipse cx="202.9" cy="954.7" rx="4.5" ry="6.5"/><ellipse cx="230.6" cy="1006" rx="4.7" ry="7.7"/><ellipse cx="416.4" cy="985.6" rx="4.4" ry="7.4"/><ellipse cx="305.7" cy="973.3" rx="5" ry="6.3"/><ellipse cx="409.9" cy="969" rx="5.4" ry="7.9"/><ellipse cx="186.5" cy="968.2" rx="5.6" ry="6.2"/><ellipse cx="203.2" cy="954.3" rx="4.4" ry="6.4"/><ellipse cx="154.9" cy="984.2" rx="4.9" ry="6.1"/><ellipse cx="250.1" cy="998.7" rx="5.4" ry="7"/><ellipse cx="382.8" cy="977.4" rx="5.1" ry="6.3"/><ellipse cx="384" cy="981.7" rx="5.6" ry="6.6"/><ellipse cx="192.4" cy="959.8" rx="4.6" ry="7.5"/><ellipse cx="452.7" cy="1045.3" rx="4.3" ry="8.2"/><ellipse cx="519.6" cy="1009.9" rx="4.5" ry="6.5"/></g><g fill="#425320" opacity="0.85"><ellipse cx="372.4" cy="1018.4" rx="5" ry="6"/><ellipse cx="500.4" cy="1008.3" rx="5.5" ry="6.7"/><ellipse cx="424.4" cy="997.9" rx="5.6" ry="6.6"/><ellipse cx="407.9" cy="970.6" rx="4.4" ry="6.4"/><ellipse cx="170.5" cy="1009.4" rx="5.4" ry="6.8"/><ellipse cx="325.5" cy="949.5" rx="4.8" ry="6"/><ellipse cx="439.4" cy="976.7" rx="4.5" ry="6.8"/><ellipse cx="340.3" cy="978.2" rx="5.4" ry="6.3"/><ellipse cx="90.8" cy="983.4" rx="5.5" ry="6.4"/><ellipse cx="299.4" cy="949.1" rx="5.6" ry="7"/><ellipse cx="298.5" cy="946.3" rx="4.7" ry="6.5"/><ellipse cx="381.4" cy="1003.3" rx="4.3" ry="7.6"/><ellipse cx="434.8" cy="1019.5" rx="5.4" ry="6.7"/><ellipse cx="497.6" cy="1031.7" rx="5.8" ry="7.1"/><ellipse cx="316.5" cy="998.2" rx="5.2" ry="7.7"/><ellipse cx="398.5" cy="991.3" rx="5.6" ry="7.6"/><ellipse cx="405.3" cy="992.2" rx="5" ry="6.9"/><ellipse cx="74.5" cy="966.3" rx="4.2" ry="7.3"/><ellipse cx="468.4" cy="1047.6" rx="4.6" ry="6"/><ellipse cx="386.3" cy="1001.6" rx="5" ry="7.4"/></g><g fill="#2a4522" opacity="0.6"><ellipse cx="308" cy="1007.3" rx="5.2" ry="6.6"/><ellipse cx="161.4" cy="948.5" rx="4.9" ry="6.2"/><ellipse cx="288.1" cy="977.1" rx="5.2" ry="7"/><ellipse cx="194.9" cy="978.1" rx="4.4" ry="7.4"/><ellipse cx="256" cy="948.1" rx="4.8" ry="7.3"/><ellipse cx="213.8" cy="979.9" rx="5.5" ry="7.2"/><ellipse cx="76.5" cy="1017.7" rx="4.3" ry="7.8"/><ellipse cx="323.9" cy="994.1" rx="4.9" ry="7.6"/><ellipse cx="469.1" cy="1058.6" rx="5.8" ry="6.6"/><ellipse cx="202.4" cy="1005.6" rx="5.2" ry="7.4"/><ellipse cx="257.8" cy="964.5" rx="5.8" ry="7.6"/><ellipse cx="446.6" cy="1005.4" rx="5.6" ry="7.2"/><ellipse cx="234.9" cy="992" rx="4.2" ry="6.1"/><ellipse cx="100.9" cy="997.4" rx="4.7" ry="8.2"/><ellipse cx="407.4" cy="994.8" rx="4.5" ry="7"/><ellipse cx="309.8" cy="951.2" rx="5.6" ry="7.9"/><ellipse cx="358.7" cy="963.7" rx="5.1" ry="7.4"/></g><g fill="#243c1d" opacity="0.6"><ellipse cx="250.1" cy="986.6" rx="5.7" ry="7.8"/><ellipse cx="442.5" cy="1030.4" rx="4.9" ry="7"/><ellipse cx="407.4" cy="963.7" rx="5.5" ry="7.3"/><ellipse cx="238.7" cy="983.1" rx="5.5" ry="7.7"/><ellipse cx="104.9" cy="979.6" rx="4.7" ry="7"/><ellipse cx="483.5" cy="1002.8" rx="5.7" ry="7.9"/><ellipse cx="97.6" cy="982.3" rx="5.5" ry="7.4"/><ellipse cx="320.6" cy="1004.9" rx="4.4" ry="7.5"/><ellipse cx="123.8" cy="1005.1" rx="5.2" ry="6.3"/><ellipse cx="309.2" cy="997" rx="5.6" ry="7.2"/><ellipse cx="131.6" cy="977.4" rx="4.2" ry="6.5"/><ellipse cx="476.8" cy="992.6" rx="4.5" ry="7.2"/><ellipse cx="186.9" cy="1008.3" rx="4.3" ry="7.8"/><ellipse cx="370.3" cy="954.4" rx="4.5" ry="8"/><ellipse cx="418.2" cy="993.8" rx="5.3" ry="7.3"/><ellipse cx="151.7" cy="977.1" rx="4.4" ry="7.9"/><ellipse cx="490" cy="1050.1" rx="5.6" ry="6.3"/></g><g fill="#2f4b22" opacity="0.5"><ellipse cx="452.6" cy="1023.8" rx="5" ry="6.4"/><ellipse cx="341.1" cy="953.1" rx="5" ry="6.4"/><ellipse cx="265.5" cy="990.9" rx="4.9" ry="7.3"/><ellipse cx="446.7" cy="1003.2" rx="5" ry="6.6"/><ellipse cx="419.4" cy="998.9" rx="4.7" ry="7.3"/><ellipse cx="307.3" cy="1003.3" rx="4.8" ry="7.4"/><ellipse cx="419.1" cy="979.5" rx="5.5" ry="7.7"/><ellipse cx="279.2" cy="994.9" rx="5.5" ry="6.6"/><ellipse cx="259.5" cy="944.1" rx="4.8" ry="6.5"/><ellipse cx="428.9" cy="985.3" rx="4.9" ry="8.1"/><ellipse cx="68.2" cy="963.3" rx="4.6" ry="7.5"/><ellipse cx="472.9" cy="989" rx="4.7" ry="7.1"/><ellipse cx="135.9" cy="961.8" rx="5.2" ry="7.9"/><ellipse cx="364.9" cy="982.2" rx="5" ry="6.2"/><ellipse cx="210.8" cy="990.3" rx="5.1" ry="6.6"/><ellipse cx="447" cy="1036.2" rx="5.4" ry="8"/><ellipse cx="114.7" cy="993.4" rx="5.5" ry="6.5"/><ellipse cx="480.3" cy="1058.1" rx="4.9" ry="6.5"/><ellipse cx="389.1" cy="991.9" rx="5.1" ry="7.8"/></g><g fill="#355223" opacity="0.5"><ellipse cx="458.2" cy="1044.2" rx="4.5" ry="7.1"/><ellipse cx="433.5" cy="995.4" rx="5.7" ry="6"/><ellipse cx="229.4" cy="982.6" rx="4.7" ry="7.5"/><ellipse cx="389.4" cy="999.3" rx="4.6" ry="6.3"/><ellipse cx="367.1" cy="976.1" rx="4.7" ry="7.3"/><ellipse cx="492.2" cy="1019.2" rx="5.1" ry="7.3"/><ellipse cx="362.4" cy="966.6" rx="5.2" ry="7.6"/><ellipse cx="184.1" cy="988.5" rx="5.1" ry="6.6"/><ellipse cx="453.2" cy="1046.9" rx="5.6" ry="7.3"/><ellipse cx="250.2" cy="974" rx="4.8" ry="6.9"/><ellipse cx="165.4" cy="1009.2" rx="5.7" ry="7.4"/></g></g>
<g stroke="#e02820" stroke-linecap="round" fill="none" filter="url(#bl1)"><path d="M285 1017.2h0M372.2 1021.9h0M492.1 926.9h0M226.4 967.8h0M202.4 909h0M473 967.8h0M439.4 970.7h0M295.3 941.6h0M123.5 1038.6h0M459.2 993.3h0M176.2 901.9h0M86.2 1036.8h0M281.4 1040.1h0M450.3 904.1h0M406.6 1018.9h0M367.7 943.2h0M464.8 1007.5h0M468.4 1049.3h0M355.5 1018.1h0M161.4 896.5h0M237.6 980.1h0M219.3 1044.5h0M216.7 1085.6h0M183.9 932.4h0M169.1 1045.9h0M410.9 1086.4h0M296.5 1059.7h0M232.4 930h0M338.8 1020h0M84.2 876.9h0M513.2 1022.9h0M382.7 941.2h0M382.5 1045.9h0M329.8 1055h0M388.7 1020h0M408.1 901.3h0M446.9 935.2h0M329.4 1080.1h0M502.7 1062h0M299.8 1079.2h0M394.8 1016.5h0M175.1 1088.4h0M518.6 1003h0M211.8 1044.2h0M452.6 988.5h0M479.2 988.4h0M468.1 985.5h0M254.5 955.1h0M74.2 1016h0M476.9 1010.4h0M193.4 1033.2h0M502.3 920.2h0M387.2 871.4h0M141.9 988.4h0M466.8 1078.5h0M398.2 1045.1h0M443.9 872.6h0M418.4 931h0M201.7 1071.3h0M125.3 973.9h0M283 913.5h0M82.3 1088.6h0M439.6 1044.4h0M128.3 910h0M92.3 981.7h0M333.1 1005.4h0M242.2 1027.3h0M372.9 974.6h0M384.2 971h0M106.6 878.8h0M166.5 887.4h0M138.1 1041.8h0M188.5 953h0M82 953.5h0M416.8 921.5h0M246.2 1058.2h0M500 1010.8h0M391.3 894.5h0M142.2 1073.7h0M171.8 943.5h0M450.4 908.1h0M294.5 1074.1h0M346.1 882h0M172.6 1037.8h0M87.1 1001.2h0M152.1 920.6h0M114.8 991.3h0M82.4 1015.1h0M247.4 978.9h0M385.1 921.6h0M113.9 1037.4h0M451.6 975.6h0M273.6 876.4h0M486.2 1012.5h0M281.4 962.8h0M498 1016.9h0M347.3 964.4h0M155.8 887.9h0M330.6 1004.2h0M338 965.9h0M237.7 1036.4h0M91.3 1050.2h0M293.7 953.2h0M429.6 903.9h0M392.1 904h0M487.8 883.2h0M231.5 936.5h0M217.1 940.3h0M229.9 877.4h0M281.9 936.7h0M419.7 980.1h0M279 973.5h0M503.9 990.8h0M336.2 1048h0" stroke-width="1.9" opacity="0.68"/><path d="M383.9 1069.1h0M98.1 1035.2h0M112.6 1077.9h0M244.1 943.4h0M364.3 993.9h0M205.2 921.4h0M167 913.1h0M457.3 879.7h0M260.4 1069.9h0M295 879.1h0M315.3 1007.8h0M386.5 999.8h0M464 958.5h0M225.2 913.3h0M109.6 1042.5h0M308.4 879.3h0M90.4 995.4h0M397.9 877.1h0M466.8 1073.7h0M405.8 1081h0M425.8 871.3h0M191.2 937.6h0M425.6 895.8h0M272.7 980.9h0M76.5 874.8h0M344.5 1035.9h0M232.4 1042.8h0M72.1 925.3h0M222.9 995.8h0M299.1 899.2h0M369.7 991.1h0M508.4 1086.4h0M359 989.7h0M379.1 899.1h0M69.3 902.3h0M490.9 1073.4h0M115.2 891h0M507.8 1027.6h0M208.5 1041.9h0M318.3 886.6h0M462.6 997.2h0M82.6 1081.5h0M319.5 901.2h0M69.9 1008.4h0M507.8 894.4h0M489.6 939.8h0M478.9 1068.4h0M120 1051.6h0M73.1 1056.3h0M486.3 1073.6h0M378.3 1061h0M389 932.6h0M432.6 960.3h0M447.7 1030.6h0M451 882.3h0M209.9 948.9h0M140.4 1087.6h0M92.9 1078.6h0M254.9 939h0M236.3 891.3h0M374.3 975.4h0M150 1014.1h0M188.5 1056h0M215.6 907.8h0M291.9 1034h0M277 1066.5h0M411.3 1066.7h0M322.3 1057.2h0M121.8 944.1h0M365.8 943.4h0M241.8 1071.8h0M232.9 1028.2h0M87.3 980.4h0M428.5 889.7h0M294.8 905.6h0M482.8 993h0M337.5 908.3h0M123.7 986.2h0M306.7 1019.5h0M231 998.1h0M393.5 1050.4h0M450 986.2h0M100.6 906.9h0M387.3 890.1h0M150.7 1012.4h0M146.3 965.4h0M486.7 986.4h0M337.3 1084.6h0M444.8 1037.6h0M487 888.6h0M113.2 1057.6h0M215.8 917.4h0M91.1 896.3h0M188.4 1012h0M479 1076.9h0M309.9 1030.4h0M263.5 1058.5h0M192.4 929.8h0M406.2 1012.9h0M253 953.5h0M325 1028.6h0M426.8 1030.2h0M116.3 894h0" stroke-width="1.9" opacity="0.4"/><path d="M231.2 986.5h0M76.4 885.8h0M429.6 1054h0M327.8 1063.3h0M329.9 990.7h0M405.8 967.4h0M340 1028.2h0M292.9 1005.8h0M510.2 1031.4h0M272.6 1023.3h0M222.4 1061.7h0M71.1 946.1h0M223.5 1017.5h0M475.1 989.6h0M271.2 993.8h0M89.9 912.4h0M320.1 1072.8h0M83.7 938.3h0M282.1 1088.1h0M174.5 930.2h0M109.1 978.7h0M278.2 995.8h0M115.1 1051.2h0M508.2 1040.7h0M230 947h0M355.5 981.3h0M415.4 875.7h0M265.4 888h0M519.9 1027.5h0M333.6 955.6h0M474 915.5h0M191 1020.1h0M397 1082.9h0M324.4 933.5h0M473.2 919.4h0M111.9 938h0M505.8 940.3h0M418.9 1059h0M391 932.3h0M264.4 1015h0M458.7 1040.4h0M472.3 954.7h0M152.2 933.5h0M183.9 906.5h0M230.6 1082.8h0M314.8 893.8h0M225.2 973h0M301.8 1050.6h0M492.6 924.4h0M163.4 990.4h0M286.8 901.5h0M508.1 1060.6h0M394.8 876h0M222.1 1013.3h0M272.2 941.8h0M368.3 883.8h0M193.3 1060.4h0M397.1 1016.4h0M229.5 883h0M449.2 1006.2h0M155.2 1008.4h0M246.1 1022.7h0M168.3 875.1h0M513.3 873.9h0M170.8 968.4h0M345.5 1048.4h0M364.9 944.4h0M512.7 906.3h0M271 914.6h0M389.2 1003.1h0M457.7 1044.2h0M441.3 1040.6h0M99.5 1007.2h0M223.7 1039.2h0M213.6 1025.5h0M300.3 1048h0M509 1024.4h0M74.1 892.4h0M392.9 1073.6h0M494.3 954.6h0M408.7 993.1h0M473.8 901h0M320.8 970.6h0M198.5 1074.2h0M323.1 891h0M277.4 933.8h0M429.7 898.1h0M99.1 954.1h0M289.1 1053.2h0M176.9 939.3h0M410.2 875.8h0M512.1 908.5h0M139.4 904.3h0M515.3 1068.8h0" stroke-width="1" opacity="0.68"/><path d="M336.8 922.7h0M302.8 960.4h0M67.4 943.9h0M127.7 1071.4h0M317.1 1060.4h0M292.1 1068.6h0M72.9 1006.5h0M111.8 1015h0M493.1 1040.9h0M209.3 978.2h0M488.7 1069h0M446.4 980.4h0M87.7 987.1h0M304.2 1003.7h0M483 1046.2h0M257 1008.7h0M313.8 1070.8h0M268.5 1082.6h0M480.2 1018.3h0M226.9 929.3h0M160.8 1005.6h0M69.8 954h0M497 1075.9h0M285.2 883.9h0M354.2 876.7h0M503.7 886.2h0M384.1 929.8h0M329.5 935.9h0M479.8 990.8h0M188.8 995.7h0M301.2 883.2h0M421.4 1011.4h0M396.8 997.7h0M516.1 941.2h0M333.2 979.3h0M486.6 908.5h0M277.8 921.1h0M448.4 980.5h0M454.8 955.2h0M448 965.8h0M337.7 985.1h0M127.1 1017.7h0M165.5 988.6h0M351.3 1065.5h0M466.6 975.9h0M257.5 989.3h0M499.5 1077.9h0M179.3 968.7h0M319.9 1058.6h0M378 1002.4h0M513.1 1017h0M361.5 1042.6h0M478 1026.3h0M467.1 981h0M255.3 1023.4h0M235.2 878.6h0M392.9 875.9h0M103.9 921.8h0M428.5 980.7h0M394.3 943.1h0M435.3 992.1h0M380.4 1072.5h0M157 871.3h0M356.9 889.4h0M498.1 947.2h0M308.5 1011.6h0M177.9 968.7h0M176.9 1008.5h0M345.1 1060.4h0M95.7 1020.2h0M266.8 905.1h0M80.6 876.9h0M294.8 1048.7h0M448.8 1067.9h0M259.2 889.9h0M390 888.6h0M443.2 942h0M467.4 985.5h0M439.2 997.8h0M319.3 1043h0M307.8 1000.5h0M107.2 903.7h0M187.4 906.6h0M115.7 1066.9h0M159.9 1078.4h0M504.7 1003.2h0M383.3 1022h0M433.6 937h0M372.5 911h0M225.2 887.2h0M397.6 1067h0M366.2 936.5h0M419.4 1026.4h0M87.9 1001.2h0M464.1 894.5h0M335 955.8h0M169.8 951.3h0M243.1 959.7h0M325.4 1025.9h0M190 1036.9h0M224.1 907.1h0M467.9 976.9h0M482.7 926.1h0M152.2 964.1h0M301.7 1001.8h0M239.6 1037.8h0M198.6 889.1h0M398.5 877.9h0M321.4 1059.1h0M139.8 873.1h0M327.1 1040.8h0" stroke-width="1.4" opacity="0.68"/><path d="M185.9 913.7h0M316.2 902h0M186.2 871.8h0M254.4 991.4h0M135.8 916.3h0M147.5 915.1h0M72.3 1062.3h0M366.8 993.6h0M162.8 888.1h0M468.2 952.5h0M98.3 1039.3h0M498.7 1010.8h0M173 941.5h0M410.6 1066.5h0M315.8 875.5h0M346.6 1083.2h0M186.4 909.7h0M490.9 1010.6h0M388.9 970.6h0M349 978.8h0M514.3 1029.7h0M230.5 946.4h0M331.9 1060.5h0M418.9 899h0M77.9 896.6h0M199.6 982h0M504.9 921.7h0M257 1062.3h0M200.9 957.8h0M78.9 923.6h0M206.5 1071.7h0M482.5 884.6h0M427.9 973.2h0M183 1020.3h0M94.7 1081.7h0M197.6 992.5h0M307.3 994.5h0M131.4 928.8h0M262 1086h0M452.9 1010.1h0M145.6 1083.7h0M402 1021.4h0M447.6 886.1h0M483 1035.1h0M115.4 1021.5h0M514.5 1073.7h0M129 973h0M484.5 1050.8h0M304.9 957.2h0M368 910.1h0M445.2 911.6h0M422.1 908.8h0M352.5 1081.6h0M392.6 920.8h0M332 917.1h0M127.9 1059.1h0M299.5 966h0M380.3 1049.8h0M194.4 965.4h0M304.1 1012h0M147.7 1019.1h0M323.5 1029.7h0M125.9 913.7h0M252.8 933.5h0M209 943.8h0M381.3 1005.9h0M71.8 1081.9h0M254.2 891.8h0M514.1 1077.9h0M198.1 1044.1h0M361.1 942.9h0M415.6 873.3h0M360 1005h0M369.8 1084.1h0M479.1 939.6h0M394.6 888.4h0M496.1 983.8h0M368.6 1079.7h0M381.5 884.3h0M279.3 960.6h0M313.5 1013.1h0M373 1033h0M149.7 1065.7h0M257.8 1025.9h0M96.8 961.5h0M227.8 1027h0M188.1 979.3h0M335 1063.8h0M435.6 937.6h0M423.4 1020.1h0M503.6 1030.6h0M102.1 884.6h0M215.5 896.1h0M199.9 889.2h0M509.2 931.6h0M331.4 966.9h0M260.8 1073.1h0M146.5 1055.3h0M436.1 911.8h0M439.3 932.6h0M340.8 1011.8h0M81.2 1080h0M516.4 967.9h0M295.4 1050.1h0M160.5 930.9h0M434.9 1090.5h0" stroke-width="1.9" opacity="0.95"/><path d="M247.3 1042.8h0M244.2 1003.8h0M370.3 1060.7h0M206.8 1054.6h0M417.5 1055.8h0M191.3 885.4h0M495.8 884.7h0M515.1 882.3h0M237.9 919.9h0M361.6 1063.4h0M98.9 1042.7h0M217 1073.8h0M248.5 1031.1h0M152.1 925.2h0M455.8 1021.2h0M208 999.5h0M363 1033.1h0M290.5 939.3h0M512.3 924h0M73.6 889.7h0M123.4 889.9h0M506.7 1073.7h0M198.6 1068.7h0M172.1 1050.3h0M271.1 904.8h0M172.7 1087.1h0M423.4 1028.4h0M213.9 1077.5h0M400.2 884.6h0M400 907.5h0M337.9 945.7h0M406.2 887.3h0M127.2 1009.8h0M239.6 1023h0M306.2 908.3h0M463 878.3h0M157.2 905.9h0M343.9 993.9h0M257.9 906.4h0M452.5 1022.3h0M475 885.8h0M358.5 939.6h0M186.1 934.5h0M292.3 1051.5h0M331.5 898.8h0M145 989.9h0M302.4 900.8h0M519.2 876.8h0M135.4 984.9h0M418.7 881.8h0M209.4 1020.3h0M153.5 944.7h0M352.2 935.1h0M480.3 952.6h0M396.7 1007.5h0M245.6 885.8h0M218.1 1015.7h0M419.6 1039.2h0M92.4 1067.8h0M505.4 981.9h0M193.1 874.3h0M510.7 1073.4h0M118.2 1065.2h0M327.7 981.9h0M511 1030.7h0M308.2 1054.3h0M154.8 1015.8h0M228.1 906.1h0M417.7 1044.1h0M95.7 1038h0M102.6 1089.4h0M376.5 930.1h0M69.8 967.2h0M512.3 911h0M304.9 1077.7h0M198 970.5h0M351.9 1076.4h0M396.4 915.4h0M453.9 1084.5h0M231.5 891.2h0M366.4 1018.3h0M136.2 925.5h0M281 916h0M157.9 1024.3h0M361.5 1076.3h0M416.2 1089.4h0M365.3 874.3h0M147.6 938.5h0M247.9 994.2h0M165.9 1016.4h0M136.7 910.5h0M437.1 1022.6h0M381.8 1020.7h0M341.7 943.2h0M371.8 978.3h0M231.5 1001h0M224.2 1043h0M399.5 1014.1h0M291.7 1022.2h0M357.3 926.8h0M467.3 1069.2h0M252.9 883.6h0M210.3 1064.5h0M115 886.8h0M348.3 938.4h0M202.8 911.6h0M415.6 922.7h0M155.2 884.3h0" stroke-width="1" opacity="0.95"/><path d="M504.9 1052.9h0M277.9 1045.9h0M514.8 1043.4h0M370.8 1059.8h0M76.6 983.4h0M176.9 1027.1h0M252.9 895.1h0M485.6 967.6h0M86.3 911.4h0M470.1 1088.1h0M444.4 887.8h0M334 1076.4h0M225.5 913.6h0M360 986.7h0M195.8 1087.8h0M429.3 1058.1h0M353.6 876.7h0M346.2 1040.3h0M72.5 1044.7h0M320.4 1067.6h0M185 889.5h0M139.8 998.9h0M299.5 953.7h0M171.3 917.1h0M449.4 926.7h0M451.9 942.3h0M312.7 1064.5h0M176.5 933.9h0M456.8 932.2h0M428.4 1058.3h0M125.1 1084h0M477.4 1009h0M443.7 1030.6h0M279.1 951.6h0M401.3 924.1h0M391.6 880.9h0M116.6 1031.8h0M111.3 935.2h0M449.9 1023.5h0M496.8 1088h0M453.9 879h0M204.2 927.1h0M473.5 1087.1h0M354.4 1034.7h0M126.3 984.3h0M350.3 1087.1h0M262.7 1002.1h0M272.4 871.2h0M187.2 1039h0M446.1 994.4h0M440.3 1031.6h0M420.7 941.5h0M491.4 992.6h0M390.6 905.1h0M305.8 887.5h0M91.9 991.3h0M178.8 1061.4h0M67.4 912.5h0M328.8 985.6h0M484.7 966.3h0M427 877.9h0M265.2 919.6h0M82.8 914.6h0M124.4 903.5h0M425.4 934.3h0M146.4 959.7h0M241.5 1007.8h0M145.3 955.5h0M139.9 1005.3h0M410.7 1029.2h0M238 1008.4h0M224.8 913.1h0M152.9 1034.8h0M318.8 1047h0M359.8 1034h0M337.2 963.3h0M208.3 995.5h0M359.5 1071.4h0M243.4 933.1h0M296.2 882.8h0M267.8 970h0M323.1 1079.7h0M429.4 1086.7h0M477.1 962.8h0M451.9 890.5h0M182 1014.8h0M512.3 975.6h0M210.4 950.5h0M302.4 1018.3h0M282.5 897.6h0M277.3 1014.8h0M71.5 1044.9h0M381.9 971h0M399 1083.1h0M502 1082.1h0" stroke-width="1" opacity="0.4"/><path d="M496.7 1067h0M413 901.1h0M245.3 903.9h0M448 978.5h0M309 934.8h0M178.6 1055.1h0M512.2 914.1h0M493.8 940.3h0M179.2 1009.6h0M376.5 1082.9h0M499.1 1083.7h0M305 912.8h0M478.3 1074.8h0M183.3 1025.1h0M205.7 996.3h0M192.2 1008.2h0M255.4 984.8h0M357.9 990.8h0M502.9 901.1h0M441 1002h0M256.6 921.8h0M351.3 931.1h0M91.5 982h0M88.7 1048h0M359.8 1051h0M126 888.8h0M267.8 1088h0M165.1 973.9h0M187.8 1070.1h0M510.2 1030.5h0M96.3 1041.1h0M202.8 1075.3h0M246.9 1020h0M254.3 1050.9h0M134.6 957.8h0M73.3 1083.5h0M151.6 1071.7h0M283.1 945.1h0M480.6 968.5h0M333.3 938h0M414 1084.3h0M227.3 1072.7h0M172.6 1069h0M166.2 1086.1h0M472.2 947.3h0M455.4 952h0M215.1 989.9h0M442 913.6h0M222.4 1024.4h0M278.1 972.9h0M333.3 930h0M174.7 893.1h0M367.6 931.7h0M113.5 1008.6h0M318.2 946.2h0M107.3 1026.6h0M233.2 880.9h0M508.6 974.3h0M513.3 1057.9h0M266.8 1066h0M484.1 909.9h0M181.9 1068.3h0M265.9 1069.8h0M209.5 937.8h0M390 1053.4h0M428.1 1047.4h0M347.1 1004.9h0M315.3 1082.9h0M145.3 1078.7h0M337.8 962.2h0M288.8 1063.7h0M512.6 1056.9h0M207.4 1005.4h0M382.4 1088.7h0M424.2 929.6h0M311.7 1029.3h0M446.9 883.3h0M90.5 1002.5h0M250.3 1073.2h0M446.3 1038.9h0M229.7 1056.4h0M185 927h0M480.1 980.5h0M312.7 935.3h0M107.2 1060.9h0M388.7 907h0M424.1 916.9h0M271.5 1013.7h0M445.9 1018.4h0M488.8 984.4h0M305.6 925.7h0M504.8 923.1h0M495.7 976.5h0M254.9 992.2h0M369.5 1001.3h0M98.8 984.6h0M250.1 911.7h0M471.4 964.2h0M476.3 1028.6h0M232.7 899.5h0M282.9 988.4h0M452.9 1040.8h0M138.6 940.4h0M211.7 963.9h0M279.9 1056.2h0M304.8 1060.6h0M483.5 1029.1h0M204.4 931.8h0M306.9 977.3h0M497.8 930.3h0M499.7 1058.3h0M452.4 1027.8h0M151.9 932.7h0M367.7 1004.1h0M254.8 880.8h0M123.7 934.3h0M376.6 1089.9h0M457 914.2h0M346.5 976.1h0M285.2 1000h0M418.9 966.4h0" stroke-width="1.4" opacity="0.95"/><path d="M493.8 918.3h0M442.4 988.8h0M178 1009h0M208.9 888.9h0M252 963.3h0M149.9 1087h0M200.8 1079.3h0M244 982h0M363.8 941.3h0M105 1084.7h0M80.6 925.8h0M399.7 991.2h0M246.4 934.2h0M371.9 1001.8h0M327.7 1066.5h0M255.8 1053.4h0M351.5 877.7h0M498.4 974h0M256.6 1029.1h0M371.2 963.8h0M157.8 897.9h0M321.3 981.3h0M397.3 1019.8h0M242.5 988h0M109.1 953.9h0M120.2 930.6h0M218 958.1h0M187.3 1034.9h0M401.1 1079.3h0M359.6 875.7h0M387.4 1032.5h0M442 990.8h0M302.7 991h0M374.7 1011.4h0M440 884.5h0M502.9 1059.5h0M251.7 1033.1h0M184 1046.3h0M151.1 1070h0M159.1 918.5h0M109.8 1008.9h0M359.4 1086.2h0M103.8 872.5h0M71 913.4h0M222.9 913h0M163 990.6h0M374.8 880.5h0M100.9 965.3h0M102.5 1048.6h0M379.2 991h0M200.8 1000.1h0M429.1 903.9h0M378.9 1029.1h0M302.3 992.6h0M369.4 987.9h0M170 910.4h0M179.8 964.7h0M86.6 974.7h0M157.1 1084.7h0M382.9 895.4h0M157.3 1003.8h0M149.4 999.9h0M148.8 1011.8h0M277.4 1059.5h0M201.7 974.6h0M296.7 916.2h0M278.2 1017h0M94.6 1079.4h0M285 1049.3h0M438.6 1034h0M164.4 1053.5h0M132.2 874.8h0M147.6 931.3h0M127.3 963.5h0M127.4 1063.7h0M413 881.7h0M233 889.4h0M227.1 1026.9h0M468.5 974h0M394.4 1057.8h0M254.9 955.7h0M231.2 924.3h0M506.1 1089.9h0M424.5 932.2h0M187.8 1006.1h0M366.3 905.2h0M289.5 899.2h0M270.1 1048.6h0M336.3 1085.3h0M228.3 970.9h0M67.5 933.3h0M406.8 1083.5h0M254.8 982.4h0M279.1 957.4h0M478.3 978.6h0M281.9 1070.8h0M385.9 1039.3h0M365.8 1077.8h0" stroke-width="1.4" opacity="0.4"/></g>
<g fill="#f02830" opacity="0.85" filter="url(#bl1)"><circle cx="232.84" cy="920.23" r="4.82"/><circle cx="231.62" cy="915.44" r="4.39"/><circle cx="230.86" cy="916.07" r="4.85"/><circle cx="233.78" cy="918.79" r="4.65"/></g>
<g fill="#f02830" opacity="0.85" filter="url(#bl1)"><circle cx="207.34" cy="942.93" r="4.79"/><circle cx="205.4" cy="944.76" r="4.6"/><circle cx="207.09" cy="945.24" r="4.02"/><circle cx="207.25" cy="943.65" r="3.08"/></g>
<g fill="#f02830" opacity="0.85" filter="url(#bl1)"><circle cx="306.57" cy="989.55" r="4.89"/><circle cx="305.51" cy="988.84" r="3.86"/><circle cx="303.71" cy="989.83" r="4.44"/><circle cx="304.7" cy="992.19" r="3.83"/></g>
<g fill="#f02830" opacity="0.85" filter="url(#bl1)"><circle cx="436.09" cy="976.42" r="4.86"/><circle cx="435.62" cy="974.66" r="5.08"/><circle cx="437.71" cy="977.12" r="4.68"/><circle cx="435.53" cy="976.83" r="4.2"/></g>
<g fill="#f02830" opacity="0.85" filter="url(#bl1)"><circle cx="426.41" cy="953.74" r="1.92"/><circle cx="425.47" cy="953.4" r="2.2"/><circle cx="425.8" cy="952.63" r="2.02"/><circle cx="426.46" cy="953.7" r="1.53"/></g>
<g fill="#f02830" opacity="0.85" filter="url(#bl1)"><circle cx="286.61" cy="903.05" r="1.83"/><circle cx="286.59" cy="903.35" r="1.92"/><circle cx="285.88" cy="903.58" r="1.44"/><circle cx="285" cy="902.96" r="2"/></g>
<g fill="#f02830" opacity="0.85" filter="url(#bl1)"><circle cx="498.72" cy="979.08" r="2.09"/><circle cx="498.73" cy="978.04" r="1.38"/><circle cx="498.67" cy="978.12" r="1.32"/><circle cx="497.6" cy="977.4" r="1.48"/></g>
<g fill="#f02830" opacity="0.85" filter="url(#bl1)"><circle cx="79.23" cy="958.77" r="1.46"/><circle cx="78.1" cy="958.61" r="1.36"/><circle cx="79.67" cy="958.86" r="1.51"/><circle cx="79.98" cy="959.85" r="1.08"/></g>
<g fill="#f02830" opacity="0.85" filter="url(#bl1)"><circle cx="75.13" cy="886.44" r="1.71"/><circle cx="75.74" cy="885.28" r="1.88"/><circle cx="74.25" cy="886.32" r="2.11"/><circle cx="76.14" cy="885.1" r="1.72"/></g>
<g fill="#f02830" opacity="0.85" filter="url(#bl1)"><circle cx="459.87" cy="879.12" r="2.12"/><circle cx="460.3" cy="880.3" r="1.57"/><circle cx="460.59" cy="878.76" r="2.02"/><circle cx="459.06" cy="880.12" r="2.01"/></g>
<g fill="#f02830" opacity="0.85" filter="url(#bl1)"><circle cx="199.32" cy="887.73" r="1.37"/><circle cx="200.76" cy="885.46" r="1.8"/><circle cx="200.13" cy="887.03" r="2.08"/><circle cx="200.7" cy="885.26" r="1.44"/></g>
<g fill="#f02830" opacity="0.85" filter="url(#bl1)"><circle cx="356.23" cy="1010.66" r="1.36"/><circle cx="356.91" cy="1010.01" r="1.67"/><circle cx="356.94" cy="1011.81" r="1.83"/><circle cx="356.6" cy="1009.62" r="2.05"/></g>
<g fill="#f02830" opacity="0.85" filter="url(#bl1)"><circle cx="164.18" cy="1079.47" r="2.54"/><circle cx="163.92" cy="1079.66" r="2.75"/><circle cx="161.99" cy="1078.53" r="2.08"/><circle cx="162.66" cy="1079.01" r="2.08"/></g>
<line x1="108.24" y1="912.96" x2="120.28" y2="927.41" stroke="#d82828" stroke-width="2" opacity="0.8" filter="url(#bl1)" stroke-linecap="round"/>
<line x1="197.37" y1="888.87" x2="207.01" y2="874.41" stroke="#d82828" stroke-width="2" opacity="0.8" filter="url(#bl1)" stroke-linecap="round"/>
<line x1="74.51" y1="1059.91" x2="67.28" y2="1071.96" stroke="#d82828" stroke-width="2" opacity="0.8" filter="url(#bl1)" stroke-linecap="round"/>
<line x1="370.82" y1="1067.14" x2="378.05" y2="1076.77" stroke="#d82828" stroke-width="2" opacity="0.8" filter="url(#bl1)" stroke-linecap="round"/>
<line x1="344.32" y1="884.05" x2="356.37" y2="887.66" stroke="#d82828" stroke-width="2" opacity="0.8" filter="url(#bl1)" stroke-linecap="round"/>
<line x1="228.69" y1="949.09" x2="223.87" y2="956.32" stroke="#d82828" stroke-width="2" opacity="0.8" filter="url(#bl1)" stroke-linecap="round"/>
<line x1="397.32" y1="1098.46" x2="392.5" y2="1086.41" stroke="#d82828" stroke-width="2" opacity="0.8" filter="url(#bl1)" stroke-linecap="round"/>
</g>
<clipPath id="ce4"><rect x="539" y="870.3" width="455.6" height="221.3"/></clipPath><g clip-path="url(#ce4)">
<rect x="539" y="869.8" width="455.6" height="221.8" fill="#1e0809"/>
<filter id="nf11" x="0" y="0" width="1" height="1" color-interpolation-filters="sRGB"><feTurbulence type="fractalNoise" baseFrequency="0.45" numOctaves="3" seed="53" stitchTiles="noStitch"/><feColorMatrix type="matrix" values="0 0.42 0 0 -0.1 0 0.08 0 0 -0.02 0 0.08 0 0 -0.01 0 0 0 0 1"/></filter>
<rect x="425.1" y="756.9" width="683.4" height="448.6" filter="url(#nf11)" transform="rotate(27 766.8 981.2)"/>
<g stroke="#e82828" stroke-linecap="round" fill="none" filter="url(#bl1)"><path d="M552.9 1045h0M688.1 1007.8h0M819 985.6h0M685.2 951.6h0M583.8 967.3h0M879.1 1037.8h0M684 964.7h0M757.5 1046.2h0M700.9 944h0M552.5 1019h0M641.1 1042.9h0M946.1 930.4h0M994.4 997.7h0M747.3 945.7h0M803 989.2h0M622.6 1013.2h0M931.7 988.1h0M756.9 1016h0M809 1020.8h0M886.8 1053.5h0M890.4 1012.6h0M712.6 1035.3h0M990.2 938.1h0M868.1 939.3h0M707.5 933.9h0M877.1 1017.1h0M982.9 1033.5h0M686.2 993.7h0M834.8 922.8h0M686.4 923h0M572.1 1007.8h0M559.8 1041.1h0M696.7 1012.3h0M905.5 1019.8h0M707.4 1056.4h0M786.8 986.2h0M650.8 957.8h0M549.6 980.3h0M967.3 967.7h0M676.9 976.2h0M832.1 960.8h0M573.5 956.6h0M623.5 1058.7h0M690.1 1003.9h0M861.9 969.9h0M925.7 964.1h0M956.9 961.5h0M914.9 1001.9h0M727.4 998.4h0M766.7 987.4h0M971.1 1047.4h0M687.5 1062.3h0M602.4 982.8h0M844.4 1048.2h0M667 980.7h0M545 1037.1h0M736.3 1050.3h0M956.1 1029.1h0M719.9 1050.2h0M687.1 1002.9h0M710.7 1019.9h0M989.1 930.4h0M555.6 934.2h0M795.5 1023.6h0M947.8 927.1h0M952.1 989.1h0M733.6 931.7h0M726.5 995.9h0M887.9 1053h0M789.9 1002.4h0M883.8 925.3h0" stroke-width="2.1" opacity="0.4"/><path d="M757 969.6h0M955.8 943.5h0M779.6 943.5h0M612.4 948.6h0M595.1 967h0M569.8 1031.2h0M890.2 1021.2h0M789.2 928.9h0M667 997.4h0M925.7 1012.2h0M660.2 934.7h0M867.1 1000.3h0M839.7 957.7h0M539.2 1020.4h0M794.8 1003.7h0M771 984.1h0M743.7 956.5h0M918.9 973.3h0M703.9 1045.6h0M860.9 964h0M554.8 931.7h0M797.1 961.5h0M799.1 923.6h0M611 1006.8h0M864.3 1027h0M648.5 943.1h0M568.7 986.3h0M644.7 1033.1h0M845.4 943.9h0M881.8 923.6h0M988.9 998.1h0M696.5 1060.7h0M563.7 982.8h0M546.7 1040h0M808.3 963.7h0M863.4 973.8h0M882.5 955h0M810.8 1040.7h0M820.8 1006.7h0M762.1 941h0M554.3 1056.7h0M700.2 997.1h0M750.1 1024h0M583.1 924.4h0M880.9 964.1h0M847.4 1012.9h0M659.2 975h0M970.2 1027.3h0M940.6 1007.7h0M922.4 985.3h0M539.4 957.2h0M782.7 968.4h0M869.9 1008.8h0M584.8 1051.9h0M699.1 1063.6h0M916.7 921.5h0M883.1 1011.5h0M994.2 1004.8h0M570.2 948.7h0M925.2 967.3h0M649 984.2h0M952 1062.8h0M757.6 969h0M730.8 1038.3h0M810.4 991.7h0M563.4 1033.6h0M949.6 972.6h0M714.9 1025h0M947.9 957.9h0M770.6 983h0M866.3 1044.8h0M885 941.7h0" stroke-width="2.7" opacity="0.4"/><path d="M927.9 962.9h0M972.8 963.1h0M610.7 1005.9h0M795.8 1059.2h0M770.3 1055.2h0M609.8 1018.7h0M679.3 925.6h0M659.5 1049.9h0M597.7 921.4h0M755.2 1047.6h0M613.9 991.9h0M873.9 944.7h0M647.9 1062h0M958.6 932.1h0M582 993.6h0M579.3 1028.6h0M857 1011.7h0M788.5 1060.2h0M799.9 983h0M823.2 1051.6h0M841.6 1005h0M835.6 1002h0M933.9 948.9h0M990.7 956.7h0M845.8 973.2h0M714.2 974.8h0M688.8 945.8h0M954.6 990h0M711.3 1010.3h0M863.6 950.6h0M903.7 978.1h0M551.1 955h0M660.8 1041.6h0M931.1 975.3h0M710.9 922.7h0M669.8 1056.7h0M573.4 1061.3h0M800.5 1048h0M546.4 1012.4h0M900.3 1058.7h0M586.7 1021.8h0M813.8 1006.7h0M554 1005.8h0M650.4 1019.7h0M962.5 1022h0M833.5 1037.8h0M729 1042.8h0M670.3 1062h0M846.4 1039.8h0M830.6 986.2h0M780.6 1038.4h0M991.1 979.1h0M599.8 937.6h0M772.6 970.8h0M866.5 1033.9h0M686.6 996.1h0M686.9 970.2h0M612.2 1007.5h0M727.8 955.1h0M743.4 947.1h0M633.4 946.1h0M906.8 977.7h0M552.5 1044.8h0M554 1026h0M928.4 1046h0M958.5 920.7h0M624 1002.3h0M888.3 1030.5h0M938.6 1041h0M839.2 1005.3h0M809.1 1064.1h0M579.3 967.3h0M919.3 1029.4h0M595.5 1001.7h0M595.4 922h0" stroke-width="2.1" opacity="0.68"/><path d="M627.3 974.9h0M749.8 959.3h0M620.5 1022.2h0M745 1005.9h0M901.2 979.3h0M790.4 1018.2h0M740.6 942h0M597.3 1039.1h0M895.7 1011.4h0M765 1051.2h0M949.8 973.9h0M877 940.3h0M710.8 1036.1h0M555.4 1002.9h0M813.2 1033.6h0M639.7 1007.1h0M818.2 937.4h0M986.8 1003.4h0M606.3 1060h0M809.9 1061.1h0M642.9 1011.3h0M915 1031.8h0M978.2 960.2h0M565.1 1018.8h0M751.3 1062.7h0M659.1 1027.5h0M653.1 942.7h0M641.4 938.1h0M716.5 1047.9h0M881.1 1061.7h0M791.4 970.6h0M786.1 1044.8h0M670.9 999.9h0M832.9 1043.9h0M591.5 923.6h0M659.5 965.2h0M774.4 922.6h0M727.8 1001h0M873.7 977.4h0M666.6 939.8h0M600.2 1025.2h0M856.7 930.6h0M774.8 934.8h0M707.5 954h0M768.5 1044.8h0M588.3 997.2h0M936.3 984.8h0M540.1 934.3h0M775.2 961.6h0M906.7 999.5h0M803.4 1053.8h0M940.6 998.2h0M714.1 1008.7h0M765 948h0M954.8 1043.8h0M568.3 1016.1h0M705.1 947.3h0M780 1022h0M577.9 989.3h0M793.2 935.5h0M713.8 935.9h0M624 928.6h0M960.9 1015.8h0M639.1 943.3h0M564.5 977.3h0" stroke-width="2.1" opacity="0.95"/><path d="M927.3 994.6h0M562.2 986.9h0M660.5 992.9h0M635 994.2h0M668.5 982.5h0M684.1 945.6h0M936.2 942.6h0M734.8 1024.8h0M549 1058.8h0M687 1005.5h0M548.3 939.1h0M957.1 1014.4h0M909.2 1061.3h0M555.1 923h0M664.5 937.3h0M591.4 1031.5h0M984.9 927.3h0M600.7 1052.7h0M539.9 970.8h0M917.7 993.8h0M668.1 1025.2h0M794.1 926.3h0M924.9 947.3h0M962.2 924h0M910.6 937h0M587.3 942.3h0M553.7 957.6h0M701.3 1031.2h0M586.5 962.2h0M601 1016.1h0M911.6 1032.8h0M738.4 964.2h0M753.3 1001.1h0M734.3 978.6h0M626.9 1063.9h0M825.1 953.5h0M979.1 939.1h0M815.3 996.4h0M656.9 984.3h0M561.9 1051.5h0M789.5 1005.4h0M626.9 1000.7h0M655.5 1023.9h0M713.7 1039.3h0M597.5 1054h0M702.8 1021.1h0M984.6 951.9h0M722.3 1064h0M686.6 1051.3h0M665 1059.3h0M843.7 937.1h0M903.3 947.8h0M855.5 921.6h0M568.3 970h0M954.9 984.4h0M890.8 1010.2h0M619.6 964.8h0M547.1 1050.9h0M741.9 1013.4h0M764.1 967.9h0M562.7 975.2h0M562.8 1015.5h0M573.9 1012.2h0M729.1 1019.3h0M681.8 1054.7h0M586.9 1033.5h0M730.4 1014.6h0M603.1 920.1h0M937.1 1022.6h0M795.7 921.7h0M663.7 1035.5h0M733.5 925.1h0M992.9 969.7h0M908.9 959.9h0" stroke-width="1.6" opacity="0.95"/><path d="M885.7 1007.1h0M725.7 1004.5h0M764.7 960.6h0M713.5 926.7h0M976.8 1007h0M973.7 950.7h0M630.6 992.1h0M920.7 1043.6h0M912 927.3h0M796.2 1047.7h0M797.1 999h0M672.4 1001.3h0M794.8 961.9h0M861.4 925.8h0M772.2 1056.6h0M610.2 948h0M925.7 1007.6h0M817.5 951.5h0M948.9 972.6h0M551.9 962.4h0M851.3 1055.9h0M650 1002.6h0M821.3 936.7h0M780.3 927.1h0M874.5 1054.6h0M731.8 1012.2h0M839.4 934.6h0M665.1 968.1h0M927.9 976.8h0M712.6 1029.2h0M839.6 960.5h0M780.1 930.1h0M722.9 937.9h0M570.2 1029.8h0M644.4 1055.1h0M706.9 1001.3h0M727.6 1011.6h0M733 1001.1h0M895.4 1037.3h0M915.5 957.3h0M954 1009.5h0M656.9 988.9h0M892.3 984.1h0M693.3 922.7h0M900.6 962.2h0M613.3 1057.7h0M945.7 969.6h0M849 967.8h0M960.2 935.5h0M739.3 1015.6h0M763.8 1035.1h0M651.5 1017.8h0M546.4 947.6h0M753.7 1037.1h0M651.8 1020.1h0M930.6 949.2h0M682.3 981.9h0M736.2 990.9h0M649.4 953.1h0M957.8 1055.8h0M754.6 996.7h0M675.4 956h0M712.6 1009.4h0M783.7 956.4h0M835.5 959.4h0M599.1 1011.4h0M790.1 936.2h0M875.9 1003.3h0" stroke-width="2.7" opacity="0.95"/><path d="M626.5 1019.1h0M622.6 950h0M837.2 994h0M578.6 1014.8h0M733.5 1012.2h0M802.8 931.3h0M655.4 976.5h0M710.9 932.5h0M912.1 1029.3h0M973.1 964.6h0M614.1 971.3h0M750.3 1030.1h0M609.7 1034.2h0M970.8 1034.9h0M922.7 943.7h0M577.2 972.8h0M741 1063.3h0M785.7 973.4h0M767.6 1046.4h0M889.6 1026.4h0M971.7 989.1h0M942.2 1008.2h0M908.6 1051.1h0M614.1 1018.2h0M635.6 1033.3h0M948.3 986.3h0M948.3 990.8h0M842.5 1028.1h0M846.7 981.7h0M889.4 990.8h0M854.2 1031.3h0M666.7 1016.7h0M949.5 987.6h0M832.3 926.6h0M931.1 1058.9h0M789.9 1030.5h0M609.8 967.8h0M566.7 972.8h0M829.1 995.6h0M709.1 929.6h0M753 938.7h0M787.5 1059.1h0M806.5 953h0M822.8 920.7h0M922.6 981.6h0M612 939.7h0M854.5 1025.7h0M750.9 998.9h0M724.4 987.5h0M956.4 932.3h0M833.9 940.8h0M732.4 954.5h0M673.2 1050.8h0M770.5 1042h0M964.6 955.5h0M847.8 987.1h0M756.8 1032.1h0M710.2 943.7h0M925.6 935.7h0M756.7 1042.7h0M904.9 1049.8h0" stroke-width="1.1" opacity="0.68"/><path d="M927.6 1039.9h0M794.2 1063.3h0M692 921.2h0M551.3 938h0M640.7 958.3h0M547.8 1053h0M787.8 955.3h0M656.1 926.3h0M701.1 921.4h0M627.4 988.2h0M863.6 951.2h0M786.4 925.6h0M680.9 1057.1h0M787.4 972.5h0M713.2 1013.7h0M559 985.4h0M889.5 950.5h0M575.2 1005.2h0M943.2 941.5h0M767 994.1h0M719.8 935.8h0M683.4 990.7h0M655.9 1039.6h0M977.5 936.6h0M705.7 928.6h0M785.7 1051.1h0M709 1029.3h0M801.6 1015.5h0M916.6 959.2h0M653.1 924.6h0M712 939.4h0M719.8 979.3h0M650.3 952.7h0M979.4 993.5h0M980 1053.8h0M718.9 942.2h0M856 1007.2h0M825.9 1029.4h0M988.8 967.9h0M847 1043.8h0M882.5 966.4h0M712.5 940.6h0M581 1064.1h0M719.6 1003.9h0M945.1 1021.2h0M957.3 929.3h0M734.1 964.9h0M879.3 970.6h0M733.8 960.5h0M838.8 1011.9h0M727.9 919.4h0M681.2 968.8h0M772.1 1048.5h0M939.2 1008.5h0M927.4 927.1h0" stroke-width="1.6" opacity="0.4"/><path d="M774.3 994.2h0M705.4 955.4h0M651.4 919.6h0M780.9 1001.4h0M821.7 1029.8h0M711.4 993h0M567.4 1025.7h0M867.3 1047.5h0M939.1 1060.9h0M713.2 1001h0M704.3 957.6h0M759.3 958.9h0M737 946.9h0M612.9 999.6h0M759.4 984.8h0M757 932.1h0M585.5 991h0M733.7 968.4h0M567.1 1027.6h0M730.3 1047h0M628.3 934.2h0M654.8 1024.6h0M970.9 966.3h0M826.5 936.3h0M602.9 959.8h0M650.4 1034.2h0M621 957.8h0M645.3 1006h0M942.7 986.9h0M793 978.7h0M936 1053.6h0M849.9 925.1h0M605.8 1000.6h0M829.3 1026.6h0M930 920.4h0M669.9 1020.3h0M716.7 1030.4h0M810.9 1060.8h0M851.4 942.8h0M685 1039.2h0M594.4 1061.5h0M563.1 1043.8h0M664.8 926.2h0M983.1 1044.6h0M718.7 949.1h0M958.7 986.1h0M823.4 939.7h0M852.7 1008.7h0M600.8 961.6h0M541.7 1019.5h0M971.7 1028.4h0M548.1 935h0M872.3 925.8h0M985.4 962.7h0M551.1 942.3h0M815.4 939.6h0M565.1 947.1h0M883.4 1024.8h0M775.1 957.3h0M578.4 1031.9h0M781.7 1057.2h0M761.3 942.9h0M908.9 1057.6h0" stroke-width="1.1" opacity="0.4"/><path d="M646.3 948.3h0M602 944.1h0M829.3 970.8h0M625.3 982.3h0M944.3 1043.2h0M623 934.2h0M863.3 1017.7h0M957 1054.3h0M891.7 920.6h0M900.9 937.9h0M657.3 1036.3h0M727 935.9h0M697.3 1007.7h0M548.4 955.9h0M824.6 920.9h0M630.9 949.8h0M586.5 1000.1h0M842.8 1016.4h0M756.1 990.7h0M826.6 994.1h0M817.9 1003.1h0M944.4 972.1h0M990.8 920.9h0M828 985.2h0M603.8 1041h0M824.7 1025.1h0M669.6 1004.8h0M692.3 1021.8h0M625.3 1028.6h0M856.9 966.2h0M704.9 989.6h0M969.4 1013.2h0M892.4 1039.4h0M557.7 989.2h0M737.4 924.2h0M805.8 931.2h0M588.5 1002.4h0M865.2 992.5h0M559.5 1042.5h0M917 1049.4h0M957.7 1028.7h0M828.9 1058.9h0M956.7 1047.6h0M630.5 1021.7h0M566.9 922.3h0M928.4 1021.6h0M949.8 1032.7h0M793 998.6h0M540.7 1017.6h0M976.1 920.8h0M738.6 1038.6h0M820.2 1027h0M558 939.3h0M616.4 989.2h0M624.9 1022h0M640.9 978.1h0M836.9 994.5h0M845.3 1028.7h0M608.9 992.4h0M765.3 949.4h0M871.8 1033.9h0M925.5 1045.1h0M615.9 1059.5h0M823.3 964.1h0M664.2 1032h0M812.8 1012.8h0M688.4 1030.3h0" stroke-width="1.6" opacity="0.68"/><path d="M813.3 971.3h0M845.1 948.3h0M950 1003.7h0M923.9 1024.7h0M750.3 1003.1h0M614.7 993.8h0M639.4 959.4h0M745.5 927.1h0M554.3 1046.5h0M888.6 983.6h0M893 1023.6h0M911 1008.9h0M833.7 991.5h0M541.2 998.6h0M900.7 927.8h0M989 1005.5h0M841.8 1024.3h0M542.3 997.3h0M676.1 960.3h0M964 1042.9h0M670.2 982.6h0M611.2 987.1h0M545 938.4h0M795.3 970.2h0M568.8 938h0M788.1 1025.4h0M833.8 1022.1h0M855.3 1013.6h0M609 956.3h0M993 993.1h0M792.2 960.3h0M690 949h0M989.7 963.2h0M790.8 974.5h0M776.2 967.8h0M894.9 1025.3h0M810.1 941h0M749.4 1060.8h0M616.5 981h0M978.9 932.3h0M816 1046.7h0M955 938.4h0M840.3 1020.1h0M561.3 974.3h0M727.7 1056.3h0M740.7 977.7h0M601.3 1030.4h0M778.2 1020.7h0M667.6 1061.6h0M615 1020.3h0M863.2 1038.2h0M937.4 962h0M749.7 1020.5h0M563 1011.6h0M961.7 1042.1h0M886.5 1055.3h0M967.6 970.1h0M991.6 938.4h0M908.5 992.6h0M588.1 987.3h0M564.6 970.3h0" stroke-width="1.1" opacity="0.95"/><path d="M641.1 969.4h0M726.4 989.9h0M675.7 1001.6h0M865.1 953.4h0M893.9 1024h0M801.6 1011.6h0M973.4 992h0M786.2 988.9h0M962.4 985.1h0M949.5 986.8h0M605 956h0M825.1 1003.6h0M549.4 996.1h0M831.5 929.2h0M832.4 1022.3h0M782.1 948.9h0M957.8 1026.5h0M930.5 965.1h0M568.8 988.1h0M554.7 1008h0M949.7 1047.5h0M640.8 970.1h0M579.1 964.2h0M856.3 977.5h0M616.7 928.6h0M613.5 1035h0M829.9 963.2h0M906.1 1030.5h0M815.1 939.8h0M664.2 950.7h0M992.5 1030.5h0M695.7 980.4h0M776.3 1060.9h0M558.9 974.5h0M815.4 1003.6h0M782.4 1042.6h0M755.1 1029.1h0M991.6 923.3h0M901.6 1005.4h0M970.7 920.3h0M560.2 932.4h0M844.3 1014.8h0M568.2 1012h0M604 979.8h0M731.9 966.6h0M622.5 987.2h0M871.3 962.5h0M989.6 977h0M706.9 1004.4h0M645.4 992.8h0M919.6 936.3h0M702.5 1044.6h0M942.9 1039.1h0M693.5 1035.9h0M859.4 1031.2h0M560.6 966.2h0M773.1 961.7h0M880.7 920.8h0M578.3 963.5h0M568.1 1061.5h0M558.7 972.9h0M616.7 980.8h0M668.4 924.3h0M722 979.9h0M734.6 994.5h0M984.9 1046.7h0M926.4 994.2h0M951.9 1017h0" stroke-width="2.7" opacity="0.68"/></g>
<g stroke="#d02020" stroke-linecap="round" fill="none" filter="url(#bl1)"><path d="M648.8 892.3h0M545.5 948.9h0M834.3 914.9h0M885 976.9h0M584.1 1060.5h0M551.9 877.9h0M764.2 973.1h0M812 884.2h0M869.4 944.2h0M908.4 1058h0M765.6 928.1h0M930 1073.2h0M960.6 924.7h0M676.2 902.2h0M654.1 993.1h0M540.1 1045.2h0M970.9 999.8h0M751.5 944.6h0M825.8 901.7h0M919.3 935.3h0M563.6 932.4h0M778.3 1055.6h0M789.3 913.2h0M821 875.9h0M934.2 1020.7h0M636.6 922.7h0M900 1004.6h0M907.4 922.3h0M981.4 872.6h0M992.2 1036.7h0M803.8 943.7h0M903.4 952h0M971.5 1032.5h0M584.2 994.7h0M612.3 936.9h0M621.3 986.6h0M737.3 1002.3h0M603.2 1013.8h0M935.3 1021.2h0M607.9 987.2h0M688.3 896.7h0M911.4 897h0M752.8 982h0M629.8 1081.9h0M676 1082.3h0M879 1030.5h0M960.4 964.3h0M857.3 954.9h0" stroke-width="1.9" opacity="0.3"/><path d="M824.3 881.3h0M942 986.5h0M749.4 1003.5h0M839.1 914.5h0M631.9 927.6h0M763 1082.6h0M562.5 1078.1h0M721 947.5h0M762 1067h0M649.8 910h0M883.4 966.6h0M692 1016.3h0M701.4 890.8h0M786.7 949.5h0M617.7 884.9h0M835.1 969.3h0M766.5 892.8h0M584.4 947.5h0M750.3 896.8h0M650.3 1059.4h0M758.5 935.4h0M886.5 971.7h0M918.3 899.9h0M815.2 985.4h0M745 1010h0M838.6 992h0M691.8 1070.7h0M863.4 995.2h0M703.6 891.2h0M934.7 963.2h0M980.2 1072.7h0M752.9 895.8h0M647.1 1046.6h0M672.7 962.6h0M908 938.7h0M955.3 964h0M918.3 902.5h0M923.8 1020h0M955.5 953.9h0M957 1003.1h0M955.7 914.7h0M671.9 982.3h0M916.1 1018.1h0M691.9 987h0M912.3 924.2h0M827.5 888.9h0M616.4 908.2h0M661.4 909.1h0M902.5 1035.4h0M838.1 1053.7h0M662.4 965.2h0M901.3 1023.9h0" stroke-width="1.9" opacity="0.8"/><path d="M846.4 935.5h0M554.8 1042.6h0M908.9 927.7h0M549.8 920.2h0M942.4 907.4h0M941.3 955.5h0M764.6 966.3h0M773.9 1045.9h0M910.8 893.3h0M800.8 1011.2h0M690.2 871.7h0M717.7 1086.6h0M614.9 1020.6h0M638.4 1010.4h0M589.6 1073.9h0M708.7 1025.5h0M969 1041.8h0M761.9 905.6h0M806.1 1008.8h0M867.5 1081.1h0M946.9 983.6h0M675 944.7h0M930.6 998.7h0M838.9 980.8h0M979.5 917.6h0M617 936.2h0M748.6 981.2h0M606.7 926.8h0M805.7 922.1h0M728.2 949.2h0M792.1 1034h0M891.8 906.8h0M915.9 1006.1h0M579.9 885.5h0M863.3 897.3h0M847.7 1030.9h0M852 1011.2h0M603.4 911h0M961.5 966h0M593.6 957.2h0M750.1 943.7h0M775.6 1005h0" stroke-width="1" opacity="0.8"/><path d="M920.5 1068.1h0M972.2 1048.8h0M699.4 894.8h0M573.2 900.4h0M752.9 928.8h0M772.8 1090.4h0M539.4 1015.1h0M935.9 952.2h0M937.2 988h0M954.2 896.2h0M947.9 1030.3h0M704.2 985.1h0M655.2 1042.6h0M837.7 975.1h0M753.6 1051.7h0M905.9 1087.2h0M952.4 933.6h0M969.5 915.5h0M774.8 1027h0M780.3 1011.8h0M602.2 926.3h0M916.9 1040.5h0M945.5 1071.5h0M669.4 1020.2h0M926.6 1054h0M976.2 976.3h0M664.9 940.5h0M897.4 1084.7h0M857 1069.5h0M688.6 995h0M872.3 1067.9h0M700.6 950.8h0M769.2 1077.7h0M797 1032.9h0M667.1 921.9h0M567.6 1075.4h0M866.6 1071.7h0M914.6 1022.5h0M696 974.2h0M863.1 875.7h0M870.6 1025h0M743.3 984.5h0M896.3 873.9h0M826 1024.4h0M560.4 982.8h0M771.5 872.2h0" stroke-width="1.4" opacity="0.8"/><path d="M587.4 1085.7h0M740.1 902.9h0M786.5 967.3h0M900.2 1019.1h0M783.3 871.6h0M669.6 914.3h0M937.2 1026.6h0M787.3 990.4h0M916.4 1040.6h0M882.1 942.2h0M711.2 881h0M696.3 958h0M873.5 910.4h0M873.1 948.4h0M625.8 1073.4h0M772.5 929.1h0M613.1 893.3h0M887.5 1067.4h0M960.2 1022.8h0M665.2 1001.5h0M595.7 971.9h0M669.3 1081.6h0M559.8 1040.7h0M825.9 946h0M909.8 1016.3h0M567.4 1028.1h0M710.6 1057.5h0M582.6 1035.4h0M832.6 1004.7h0M968.8 959.6h0M859.8 939.9h0M540.7 1001.5h0M762.1 1000h0M566.9 994h0M837.2 873.9h0M631.5 884.3h0M953 970.3h0M590.4 896h0M806.6 1012h0M565.3 993.7h0M638.5 1040.5h0M576.6 1057.2h0M717.7 1009.2h0M590.6 886.5h0M799.9 1058.5h0M698.1 879.7h0M772.4 955.3h0M978.1 944.5h0M636.3 901.6h0M825.8 877.8h0M796.4 1046.2h0M759.2 1047.5h0M705.7 1075.9h0M767.7 954.4h0M747.7 1073.9h0M719.6 978.4h0M913.8 886.5h0M830.6 888.8h0M966.2 1017h0M631.8 1088.5h0M791.1 1056.1h0" stroke-width="1.4" opacity="0.55"/><path d="M589.3 1036h0M934.2 997.4h0M663.1 1077.1h0M967.5 910.1h0M739.5 1003.7h0M619 1018h0M745.8 889.2h0M912.2 914.5h0M795.9 1070.1h0M953.9 970.1h0M733.1 987.7h0M768.7 1042.2h0M677.1 1049.5h0M614.1 1052.3h0M893.5 973.7h0M698.3 1056.2h0M548.9 955.3h0M656 890h0M767.1 901.2h0M655.7 1089.3h0M926.5 965.7h0M873 947.2h0M861 1070.7h0M650.5 963.9h0M866 942.3h0M944.7 996.4h0M874.5 905.8h0M702.4 931h0M848.2 955.9h0M972.3 920.2h0M924.6 929.3h0M746.5 898.7h0M677.2 925.7h0M581.4 1058.1h0M971.3 949.8h0M591.8 1011.3h0M849.5 1012.5h0M826.4 904.3h0M982.6 1007.6h0M916.6 1079.9h0M607.8 995.6h0M585.2 968.1h0M880.6 910.7h0M960.5 1059.9h0M624 889.7h0M761.4 1043.2h0" stroke-width="1.9" opacity="0.55"/><path d="M956.7 1007.5h0M696.3 1037.7h0M695.3 987h0M589.7 1054.7h0M865.5 962.2h0M624.9 1057.2h0M816.8 1086.3h0M881.9 1014.3h0M939.6 1068.2h0M757.1 1075.5h0M847.1 871.7h0M647.2 1005.3h0M557.8 1018.2h0M599.3 979.7h0M635.7 1016.2h0M705.2 1052.3h0M945.4 1079.8h0M610.5 1008.6h0M794.9 903.8h0M869.4 918h0M609.7 952.8h0M591.1 1031.4h0M959.6 927.8h0M673.9 998.4h0M980.5 959.8h0M680.4 958.2h0M784 1022.1h0M915.7 900.7h0M724 1035.4h0M679.6 927.1h0M571.3 930.7h0M932.8 974.4h0M952.9 999.2h0M845.6 1082.5h0M602.9 1015.6h0M833.8 906.7h0M754.4 1085.3h0M889.2 989.2h0M813.9 1057.1h0M979.9 939.5h0M633 902.8h0M985.2 1025.8h0M812.1 991h0M845.3 872.9h0M793.2 966.7h0M736.1 888h0M641.8 934.7h0M618.4 1021.6h0M815.6 915.3h0M792.5 951.2h0M567.9 1036.2h0M966.2 921.4h0M840.2 1027.7h0" stroke-width="1" opacity="0.55"/><path d="M677.2 1085h0M662.9 890.1h0M692.5 949h0M689.3 948.2h0M648.7 954h0M691.8 937.4h0M806.8 1021.9h0M556.5 951.1h0M775.1 1060.5h0M877.6 1083.7h0M659.4 908.6h0M636 953.6h0M791.9 877.1h0M962.2 1054.4h0M540.9 965.9h0M714.1 886.8h0M776.8 886.4h0M700.1 1025.7h0M948.6 1077h0M941.3 1012.4h0M790.3 961.2h0M645.9 956.9h0M585.8 943.3h0M801.6 1012.9h0M961.7 875.1h0M921.3 1006.3h0M945.9 1081.2h0M676.2 873.2h0M798 1018.5h0M667.6 1015.5h0M674.7 894h0M739.1 1048.9h0M821.4 900.2h0M921 907.6h0M938.5 936.2h0M825.5 1060.3h0M807.3 1031.9h0M896.5 908.3h0M696.8 999.8h0M735.7 887.8h0M647.8 1031.4h0M902.9 1067h0M946.5 951.5h0M795.7 936.7h0M736.5 1035.5h0M615.6 911.2h0M836 890.1h0M874.8 874.4h0M631.4 894.3h0M760.9 1075.5h0M809.1 1090h0M905.6 1036.2h0M544.1 970.7h0" stroke-width="1" opacity="0.3"/><path d="M922.9 884.3h0M950.5 883.2h0M886.7 965.2h0M897.7 970.8h0M904.4 970h0M971.9 1060.1h0M595.8 1011.1h0M678 1007.8h0M585.9 994.1h0M700.1 976.5h0M884.1 873.7h0M656.1 1053.5h0M982.9 996.8h0M864 996h0M591.1 1010.4h0M717.5 985.2h0M986.3 1015.8h0M763.3 964.4h0M901.6 967.2h0M743.4 1047.6h0M770.1 900.8h0M964.9 1059.9h0M557 935.5h0M903.3 1009.1h0M835.5 1044.9h0M793.8 1029.4h0M674.4 912.7h0M577.4 988.3h0M934.9 968.1h0M619 1083h0M748.8 1028.6h0M579.2 1013.9h0M568.7 1042.8h0M859.1 944.6h0M949.4 1016.1h0M854 1049.9h0M726 1022.2h0M800 997h0M937.2 1080.1h0M571.4 948.6h0M631.2 970.8h0M684.4 918h0M883.8 1022.6h0M741.3 959.2h0M824.8 928.2h0M961.3 1015h0M763.4 942.1h0M714.1 1046.5h0M577.3 902.1h0" stroke-width="1.4" opacity="0.3"/></g>
<g fill="#f42834" opacity="0.88" filter="url(#bl1)"><circle cx="705.55" cy="915.7" r="4.17"/><circle cx="704.72" cy="915.53" r="3.39"/><circle cx="701.48" cy="914.46" r="4.58"/><circle cx="705.05" cy="915.02" r="3.66"/></g>
<g fill="#f42834" opacity="0.88" filter="url(#bl1)"><circle cx="678.45" cy="941.61" r="4.05"/><circle cx="678.6" cy="941.73" r="4.48"/><circle cx="680.75" cy="943.26" r="3.42"/><circle cx="678.28" cy="942.63" r="3.4"/></g>
<g fill="#f42834" opacity="0.88" filter="url(#bl1)"><circle cx="776.22" cy="985.96" r="3.67"/><circle cx="778.77" cy="988.73" r="4.77"/><circle cx="777.22" cy="989.44" r="3.91"/><circle cx="776.67" cy="989.8" r="5.19"/></g>
<g fill="#f42834" opacity="0.88" filter="url(#bl1)"><circle cx="913.79" cy="977.11" r="3.88"/><circle cx="905.87" cy="975.93" r="4.57"/><circle cx="907.49" cy="974.43" r="5.34"/><circle cx="906.41" cy="975.56" r="4.4"/></g>
<g fill="#f42834" opacity="0.88" filter="url(#bl1)"><circle cx="900.17" cy="956.02" r="2.6"/><circle cx="900.51" cy="954.32" r="2.19"/><circle cx="899.95" cy="956.97" r="2.06"/><circle cx="901.28" cy="955.23" r="2.16"/></g>
<g fill="#f42834" opacity="0.88" filter="url(#bl1)"><circle cx="667.83" cy="902.32" r="1.92"/><circle cx="669" cy="902.58" r="2.11"/><circle cx="669.08" cy="901.01" r="2.21"/><circle cx="668.64" cy="902.47" r="1.72"/></g>
<g fill="#f42834" opacity="0.88" filter="url(#bl1)"><circle cx="972.35" cy="966.95" r="1.8"/><circle cx="972.13" cy="968.38" r="2.4"/><circle cx="970.49" cy="969.45" r="1.89"/><circle cx="971.77" cy="968.96" r="2.35"/></g>
<g fill="#f42834" opacity="0.88" filter="url(#bl1)"><circle cx="554.88" cy="956.45" r="1.96"/><circle cx="555.25" cy="956.11" r="1.55"/><circle cx="554.86" cy="957.59" r="1.99"/><circle cx="554.84" cy="956.66" r="1.25"/></g>
<g fill="#f42834" opacity="0.88" filter="url(#bl1)"><circle cx="936.25" cy="876.74" r="3.03"/><circle cx="935.53" cy="875.43" r="2.72"/><circle cx="935.57" cy="877.69" r="2.28"/><circle cx="936.37" cy="878.56" r="2.35"/></g>
<g fill="#f42834" opacity="0.88" filter="url(#bl1)"><circle cx="829.72" cy="1006" r="2.31"/><circle cx="831.64" cy="1005.64" r="2.34"/><circle cx="829.77" cy="1006.53" r="1.49"/><circle cx="830.55" cy="1007.87" r="1.83"/></g>
<g fill="#f42834" opacity="0.88" filter="url(#bl1)"><circle cx="666.56" cy="875.29" r="2.39"/><circle cx="666.17" cy="875.07" r="1.71"/><circle cx="666.06" cy="876.25" r="1.91"/><circle cx="665.47" cy="875.24" r="2.25"/></g>
<g fill="#f42834" opacity="0.88" filter="url(#bl1)"><circle cx="636.49" cy="1077.85" r="2.42"/><circle cx="634.73" cy="1079.48" r="2.57"/><circle cx="634.23" cy="1078.2" r="2.91"/><circle cx="634.73" cy="1078.17" r="3.26"/></g>
<line x1="584.56" y1="919.16" x2="595.95" y2="930.15" stroke="#d82828" stroke-width="2" opacity="0.8" filter="url(#bl1)" stroke-linecap="round"/>
<line x1="671.12" y1="877.39" x2="662.01" y2="888.38" stroke="#d82828" stroke-width="2" opacity="0.8" filter="url(#bl1)" stroke-linecap="round"/>
<line x1="543.56" y1="1075.21" x2="539" y2="1086.2" stroke="#d82828" stroke-width="2" opacity="0.8" filter="url(#bl1)" stroke-linecap="round"/>
<line x1="830.58" y1="1068.62" x2="839.7" y2="1079.61" stroke="#d82828" stroke-width="2" opacity="0.8" filter="url(#bl1)" stroke-linecap="round"/>
<line x1="696.18" y1="960.92" x2="691.63" y2="974.11" stroke="#d82828" stroke-width="2" opacity="0.8" filter="url(#bl1)" stroke-linecap="round"/>
<line x1="775.91" y1="1081.81" x2="771.36" y2="1068.62" stroke="#d82828" stroke-width="2" opacity="0.8" filter="url(#bl1)" stroke-linecap="round"/>
<line x1="848.81" y1="958.72" x2="844.25" y2="969.71" stroke="#d82828" stroke-width="2" opacity="0.8" filter="url(#bl1)" stroke-linecap="round"/>
<line x1="926.26" y1="881.79" x2="917.15" y2="892.78" stroke="#d82828" stroke-width="2" opacity="0.8" filter="url(#bl1)" stroke-linecap="round"/>
</g>
<text transform="translate(290.5 853) scale(0.9926 1)" font-size="25.5" text-anchor="middle" fill="#ffffff"><tspan font-style="italic">P301S</tspan></text>
<text transform="translate(293 1075.6) scale(1.0525 1)" font-size="25.5" text-anchor="middle" fill="#ffffff"><tspan font-style="italic">P301S Cgas</tspan><tspan>–/–</tspan></text>
<rect x="448.8" y="845.2" width="61.5" height="8.3" fill="#ffffff"/>
<rect x="922.8" y="844.6" width="61.5" height="8.3" fill="#ffffff"/>
<text transform="translate(522.8 629.7) scale(1.0056 1)" font-size="26" text-anchor="middle"><tspan fill="#2e3192">DAPI</tspan><tspan> </tspan><tspan fill="#00a651">NeuN</tspan><tspan> </tspan><tspan fill="#ed1c24">MEF2C</tspan></text>
<text transform="translate(0 626) scale(1.16 1)" font-size="33" font-weight="bold" stroke="#231f20" stroke-width="0.9" stroke-linejoin="round">e</text>
<text transform="translate(1044 625.4) scale(1.16 1)" font-size="33" font-weight="bold" stroke="#231f20" stroke-width="0.9" stroke-linejoin="round">f</text>
<line x1="1219.23" y1="701.95" x2="1219.23" y2="1007.68" stroke="#6d6e71" stroke-width="1.4"/>
<line x1="1207.32" y1="1007.68" x2="1417.75" y2="1007.68" stroke="#6d6e71" stroke-width="1.4"/>
<line x1="1207.32" y1="701.95" x2="1219.23" y2="701.95" stroke="#6d6e71" stroke-width="1.4"/>
<text transform="translate(1194.55 710.25) scale(1.0071 1)" font-size="23.5" text-anchor="end">2.0</text>
<line x1="1207.32" y1="778.53" x2="1219.23" y2="778.53" stroke="#6d6e71" stroke-width="1.4"/>
<text transform="translate(1194.55 786.83) scale(0.8237 1)" font-size="23.5" text-anchor="end">1.5</text>
<line x1="1207.32" y1="854.82" x2="1219.23" y2="854.82" stroke="#6d6e71" stroke-width="1.4"/>
<text transform="translate(1194.55 863.12) scale(0.9208 1)" font-size="23.5" text-anchor="end">1.0</text>
<line x1="1207.32" y1="931.67" x2="1219.23" y2="931.67" stroke="#6d6e71" stroke-width="1.4"/>
<text transform="translate(1194.55 939.97) scale(1.0071 1)" font-size="23.5" text-anchor="end">0.5</text>
<line x1="1207.32" y1="1007.68" x2="1219.23" y2="1007.68" stroke="#6d6e71" stroke-width="1.4"/>
<text transform="translate(1194.55 1015.98) scale(1.1418 1)" font-size="23.5" text-anchor="end">0</text>
<line x1="1275.38" y1="1007.68" x2="1275.38" y2="1019.88" stroke="#6d6e71" stroke-width="1.4"/>
<line x1="1360.75" y1="1007.68" x2="1360.75" y2="1019.88" stroke="#6d6e71" stroke-width="1.4"/>
<rect x="1247.87" y="855.38" width="55.87" height="152.3" fill="#ee3124" stroke="#231f20" stroke-width="2.2"/>
<rect x="1333.52" y="801.5" width="55.3" height="206.18" fill="#e6a323" stroke="#231f20" stroke-width="2.2"/>
<line x1="1275.38" y1="841.77" x2="1275.38" y2="868.43" stroke="#231f20" stroke-width="1.9"/>
<line x1="1260.92" y1="841.77" x2="1290.7" y2="841.77" stroke="#231f20" stroke-width="1.9"/>
<line x1="1260.92" y1="868.43" x2="1290.7" y2="868.43" stroke="#231f20" stroke-width="1.9"/>
<line x1="1360.75" y1="789.3" x2="1360.75" y2="811.99" stroke="#231f20" stroke-width="1.9"/>
<line x1="1346" y1="789.3" x2="1376.06" y2="789.3" stroke="#231f20" stroke-width="1.9"/>
<line x1="1346" y1="811.99" x2="1376.06" y2="811.99" stroke="#231f20" stroke-width="1.9"/>
<circle cx="1266.59" cy="835.81" r="4.5" fill="#fff" stroke="#231f20" stroke-width="2.1"/>
<circle cx="1284.46" cy="830.43" r="4.5" fill="#fff" stroke="#231f20" stroke-width="2.1"/>
<circle cx="1275.38" cy="869.28" r="4.5" fill="#fff" stroke="#231f20" stroke-width="2.1"/>
<circle cx="1275.38" cy="885.73" r="4.5" fill="#fff" stroke="#231f20" stroke-width="2.1"/>
<circle cx="1360.75" cy="758.39" r="4.5" fill="#fff" stroke="#231f20" stroke-width="2.1"/>
<circle cx="1360.75" cy="796.39" r="4.5" fill="#fff" stroke="#231f20" stroke-width="2.1"/>
<circle cx="1360.75" cy="806.04" r="4.5" fill="#fff" stroke="#231f20" stroke-width="2.1"/>
<circle cx="1351.67" cy="824.19" r="4.5" fill="#fff" stroke="#231f20" stroke-width="2.1"/>
<circle cx="1370.11" cy="819.65" r="4.5" fill="#fff" stroke="#231f20" stroke-width="2.1"/>
<path d="M1275.38 813.13V721.24H1360.75V741.09" fill="none" stroke="#231f20" stroke-width="2.1"/>
<text transform="translate(1319.91 715.56) scale(1.0279 1)" font-size="30" text-anchor="middle">*</text>
<text transform="translate(1067.5 856.2) rotate(-90) scale(1.0228 1)" font-size="26" text-anchor="middle">Normazlied MEF2C</text>
<text transform="translate(1099.8 856.2) rotate(-90) scale(1.0971 1)" font-size="26" text-anchor="middle">immonoreactivity</text>
<text transform="translate(1131.9 856.2) rotate(-90) scale(1.0283 1)" font-size="26" text-anchor="middle"><tspan>(in NeuN</tspan><tspan font-size="16.12" dy="-10.92">+</tspan><tspan dy="10.92"> cells)</tspan></text>
<text transform="translate(1134.71 1050.79) scale(0.9796 1)" font-size="25.5"><tspan font-style="italic">P301S</tspan></text>
<text transform="translate(1134.71 1085.67) scale(1.0163 1)" font-size="25.5"><tspan font-style="italic">Cgas</tspan></text>
<text transform="translate(1275.38 1050.79)" font-size="25.5" text-anchor="middle">+</text>
<text transform="translate(1360.75 1050.79)" font-size="25.5" text-anchor="middle">+</text>
<text transform="translate(1275.38 1085.67) scale(0.9555 1)" font-size="27" text-anchor="middle">+/+</text>
<text transform="translate(1360.75 1085.67) scale(0.9555 1)" font-size="27" text-anchor="middle">−/−</text>
<text transform="translate(1482.7 625.4) scale(1.16 1)" font-size="33" font-weight="bold" stroke="#231f20" stroke-width="0.9" stroke-linejoin="round">g</text>
<text transform="translate(1536.01 662.25) scale(0.9834 1)" font-size="27.3"><tspan font-style="italic">P301S Cgas</tspan><tspan font-size="16.93" dy="-11.47">−/−</tspan><tspan dy="11.47"> versus </tspan><tspan font-style="italic">P301S</tspan></text>
<text transform="translate(1486.09 704.22) scale(0.9522 1)" font-size="26">EN DEGs</text>
<text transform="translate(1808.84 701.38) scale(0.9769 1)" font-size="26">IN DEGs</text>
<clipPath id="gA"><circle cx="1656.97" cy="809.15" r="108.76"/></clipPath>
<clipPath id="gB"><circle cx="1763.89" cy="809.15" r="108.76"/></clipPath>
<circle cx="1656.97" cy="809.15" r="108.76" fill="#9193c9"/>
<circle cx="1763.89" cy="809.15" r="108.76" fill="#f7967a"/>
<circle cx="1710.43" cy="901.75" r="108.62" fill="#f8f49c"/>
<circle cx="1763.89" cy="809.15" r="108.76" fill="#c5696f" clip-path="url(#gA)"/>
<circle cx="1710.43" cy="901.75" r="108.62" fill="#c2bc91" clip-path="url(#gA)"/>
<circle cx="1710.43" cy="901.75" r="108.62" fill="#f8c15c" clip-path="url(#gB)"/>
<g clip-path="url(#gA)"><circle cx="1710.43" cy="901.75" r="108.62" fill="#dba65b" clip-path="url(#gB)"/></g>
<text transform="translate(1605.21 768.6) scale(0.9440 1)" font-size="25" text-anchor="middle">769</text>
<text transform="translate(1716.66 768.6) scale(0.9805 1)" font-size="25" text-anchor="middle">324</text>
<text transform="translate(1805.43 775.69) scale(0.9140 1)" font-size="25" text-anchor="middle">279</text>
<text transform="translate(1716.1 840.92) scale(0.8496 1)" font-size="25" text-anchor="middle">81</text>
<text transform="translate(1639.52 889.13) scale(0.9080 1)" font-size="25" text-anchor="middle">148</text>
<text transform="translate(1781.33 889.13) scale(0.9620 1)" font-size="25" text-anchor="middle">42</text>
<text transform="translate(1714.4 962.87) scale(0.8840 1)" font-size="25" text-anchor="middle">227</text>
<text transform="translate(1710.43 1049.37) scale(1.0467 1)" font-size="26" text-anchor="middle">MEF2C targets</text>
<text transform="translate(0 1173.8) scale(1.16 1)" font-size="33" font-weight="bold" stroke="#231f20" stroke-width="0.9" stroke-linejoin="round">h</text>
<rect x="209.6" y="1336.06" width="63.75" height="74.16" fill="#693d98"/>
<rect x="272.75" y="1336.06" width="64.11" height="74.16" fill="#edea2f"/>
<rect x="336.26" y="1336.06" width="64.11" height="74.16" fill="#2b3390"/>
<rect x="399.77" y="1336.06" width="63.75" height="74.16" fill="#30318f"/>
<rect x="462.92" y="1336.06" width="64.11" height="74.16" fill="#2f328f"/>
<rect x="526.43" y="1336.06" width="64.47" height="74.16" fill="#33338f"/>
<rect x="209.6" y="1409.62" width="63.75" height="74.16" fill="#593a96"/>
<rect x="272.75" y="1409.62" width="64.11" height="74.16" fill="#d7568b"/>
<rect x="336.26" y="1409.62" width="64.11" height="74.16" fill="#29338f"/>
<rect x="399.77" y="1409.62" width="63.75" height="74.16" fill="#2a3390"/>
<rect x="462.92" y="1409.62" width="64.11" height="74.16" fill="#2a3390"/>
<rect x="526.43" y="1409.62" width="64.47" height="74.16" fill="#2a3390"/>
<rect x="209.9" y="1336.36" width="380.7" height="147.11" fill="none" stroke="#3a3a3a" stroke-width="0.8"/>
<line x1="241.48" y1="1323.8" x2="241.48" y2="1336.36" stroke="#4d4d4d" stroke-width="1"/>
<line x1="304.99" y1="1323.8" x2="304.99" y2="1336.36" stroke="#4d4d4d" stroke-width="1"/>
<line x1="368.5" y1="1323.8" x2="368.5" y2="1336.36" stroke="#4d4d4d" stroke-width="1"/>
<line x1="432.01" y1="1323.8" x2="432.01" y2="1336.36" stroke="#4d4d4d" stroke-width="1"/>
<line x1="495.51" y1="1323.8" x2="495.51" y2="1336.36" stroke="#4d4d4d" stroke-width="1"/>
<line x1="558.67" y1="1323.8" x2="558.67" y2="1336.36" stroke="#4d4d4d" stroke-width="1"/>
<line x1="197.34" y1="1372.96" x2="209.9" y2="1372.96" stroke="#4d4d4d" stroke-width="1"/>
<line x1="197.34" y1="1446.87" x2="209.9" y2="1446.87" stroke="#4d4d4d" stroke-width="1"/>
<text transform="translate(241.12 1384.44) scale(1.0431 1)" font-size="25.5" text-anchor="middle" fill="#ffffff">6.0</text>
<text transform="translate(301.4 1384.44) scale(0.8812 1)" font-size="25.5" text-anchor="middle">15.9</text>
<text transform="translate(363.11 1384.44) scale(0.8596 1)" font-size="25.5" text-anchor="middle" fill="#ffffff">1.4</text>
<text transform="translate(426.98 1384.44) scale(0.9100 1)" font-size="25.5" text-anchor="middle" fill="#ffffff">2.5</text>
<text transform="translate(489.06 1384.44) scale(0.8237 1)" font-size="25.5" text-anchor="middle" fill="#ffffff">2.1</text>
<text transform="translate(557.95 1384.44) scale(0.8237 1)" font-size="25.5" text-anchor="middle" fill="#ffffff">1.5</text>
<text transform="translate(241.12 1458.36) scale(0.9819 1)" font-size="25.5" text-anchor="middle" fill="#ffffff">6.4</text>
<text transform="translate(301.4 1458.36) scale(0.8520 1)" font-size="25.5" text-anchor="middle">11.4</text>
<text transform="translate(370.65 1458.36) scale(1.0395 1)" font-size="25.5" text-anchor="middle" fill="#ffffff">0.8</text>
<text transform="translate(427.7 1458.36) scale(0.8596 1)" font-size="25.5" text-anchor="middle" fill="#ffffff">1.6</text>
<text transform="translate(496.59 1458.36) scale(0.9431 1)" font-size="25.5" text-anchor="middle" fill="#ffffff">2.3</text>
<text transform="translate(557.95 1458.36) scale(0.7373 1)" font-size="25.5" text-anchor="middle" fill="#ffffff">1.1</text>
<text transform="translate(184.79 1384.44) scale(0.9629 1)" font-size="26" text-anchor="end">EN DEGs</text>
<text transform="translate(184.79 1458.36) scale(0.9847 1)" font-size="26" text-anchor="end">IN DEGs</text>
<text transform="translate(238.97 1308.73) rotate(-45) scale(1.1202 1)" font-size="24.5">MEF2A</text>
<text transform="translate(301.76 1308.73) rotate(-45) scale(1.1260 1)" font-size="24.5">MEF2C</text>
<text transform="translate(363.83 1308.73) rotate(-45) scale(1.1338 1)" font-size="24.5">FOSL2</text>
<text transform="translate(428.42 1308.73) rotate(-45) scale(1.0707 1)" font-size="24.5">JUNB</text>
<text transform="translate(490.85 1308.73) rotate(-45) scale(1.0359 1)" font-size="24.5">ARG</text>
<text transform="translate(557.95 1308.73) rotate(-45) scale(1.0633 1)" font-size="24.5">scARG</text>
<linearGradient id="hg" x1="0" x2="1" y1="0" y2="0"><stop offset="0" stop-color="#3d4ea2"/><stop offset="0.12" stop-color="#55469d"/><stop offset="0.3" stop-color="#8c4ba0"/><stop offset="0.45" stop-color="#b8578f"/><stop offset="0.6" stop-color="#d47a7c"/><stop offset="0.75" stop-color="#e9a7a3"/><stop offset="0.88" stop-color="#f3c896"/><stop offset="1" stop-color="#f4ee6b"/></linearGradient>
<rect x="332.97" y="1497.83" width="166.49" height="29.06" fill="url(#hg)" stroke="#3a3a3a" stroke-width="0.8"/>
<line x1="353.43" y1="1497.83" x2="353.43" y2="1505.72" stroke="#3a3a3a" stroke-width="0.8"/>
<line x1="353.43" y1="1521.87" x2="353.43" y2="1526.89" stroke="#3a3a3a" stroke-width="0.8"/>
<line x1="376.75" y1="1497.83" x2="376.75" y2="1505.72" stroke="#3a3a3a" stroke-width="0.8"/>
<line x1="376.75" y1="1521.87" x2="376.75" y2="1526.89" stroke="#3a3a3a" stroke-width="0.8"/>
<line x1="399.35" y1="1497.83" x2="399.35" y2="1505.72" stroke="#3a3a3a" stroke-width="0.8"/>
<line x1="399.35" y1="1521.87" x2="399.35" y2="1526.89" stroke="#3a3a3a" stroke-width="0.8"/>
<line x1="422.68" y1="1497.83" x2="422.68" y2="1505.72" stroke="#3a3a3a" stroke-width="0.8"/>
<line x1="422.68" y1="1521.87" x2="422.68" y2="1526.89" stroke="#3a3a3a" stroke-width="0.8"/>
<line x1="446" y1="1497.83" x2="446" y2="1505.72" stroke="#3a3a3a" stroke-width="0.8"/>
<line x1="446" y1="1521.87" x2="446" y2="1526.89" stroke="#3a3a3a" stroke-width="0.8"/>
<line x1="468.96" y1="1497.83" x2="468.96" y2="1505.72" stroke="#3a3a3a" stroke-width="0.8"/>
<line x1="468.96" y1="1521.87" x2="468.96" y2="1526.89" stroke="#3a3a3a" stroke-width="0.8"/>
<line x1="494.44" y1="1497.83" x2="494.44" y2="1505.72" stroke="#3a3a3a" stroke-width="0.8"/>
<line x1="494.44" y1="1521.87" x2="494.44" y2="1526.89" stroke="#3a3a3a" stroke-width="0.8"/>
<text transform="translate(361.73 1540.52) rotate(-90) scale(1.0384 1)" font-size="23.5" text-anchor="end">20</text>
<text transform="translate(385.05 1540.52) rotate(-90) scale(1.0833 1)" font-size="23.5" text-anchor="end">40</text>
<text transform="translate(407.65 1540.52) rotate(-90) scale(1.0833 1)" font-size="23.5" text-anchor="end">60</text>
<text transform="translate(430.98 1540.52) rotate(-90) scale(1.0788 1)" font-size="23.5" text-anchor="end">80</text>
<text transform="translate(454.3 1540.52) rotate(-90) scale(1.0129 1)" font-size="23.5" text-anchor="end">100</text>
<text transform="translate(477.26 1540.52) rotate(-90) scale(0.9320 1)" font-size="23.5" text-anchor="end">120</text>
<text transform="translate(502.74 1540.52) rotate(-90) scale(0.9620 1)" font-size="23.5" text-anchor="end">140</text>
<text transform="translate(416.22 1616.95) scale(1.0788 1)" font-size="26" text-anchor="middle"><tspan>–log (</tspan><tspan font-style="italic">P</tspan><tspan> overlap)</tspan></text>
<text transform="translate(737.7 1173.8) scale(1.16 1)" font-size="33" font-weight="bold" stroke="#231f20" stroke-width="0.9" stroke-linejoin="round">i</text>
<text transform="translate(867.92 1176.33) scale(1.0939 1)" font-size="26">EN, cognitive resilience</text>
<line x1="883.71" y1="1197.14" x2="883.71" y2="1503.21" stroke="#231f20" stroke-width="1"/>
<line x1="883.71" y1="1503.21" x2="1147.43" y2="1503.21" stroke="#231f20" stroke-width="1"/>
<line x1="872.23" y1="1254.55" x2="883.71" y2="1254.55" stroke="#231f20" stroke-width="1"/>
<line x1="872.23" y1="1350" x2="883.71" y2="1350" stroke="#231f20" stroke-width="1"/>
<line x1="872.23" y1="1445.8" x2="883.71" y2="1445.8" stroke="#231f20" stroke-width="1"/>
<line x1="897.34" y1="1503.21" x2="897.34" y2="1514.69" stroke="#231f20" stroke-width="1"/>
<line x1="924.61" y1="1503.21" x2="924.61" y2="1514.69" stroke="#231f20" stroke-width="1"/>
<line x1="948.65" y1="1503.21" x2="948.65" y2="1514.69" stroke="#231f20" stroke-width="1"/>
<line x1="976.28" y1="1503.21" x2="976.28" y2="1514.69" stroke="#231f20" stroke-width="1"/>
<line x1="1005.71" y1="1503.21" x2="1005.71" y2="1514.69" stroke="#231f20" stroke-width="1"/>
<line x1="1031.9" y1="1503.21" x2="1031.9" y2="1514.69" stroke="#231f20" stroke-width="1"/>
<line x1="1061.32" y1="1503.21" x2="1061.32" y2="1514.69" stroke="#231f20" stroke-width="1"/>
<line x1="1084.64" y1="1503.21" x2="1084.64" y2="1514.69" stroke="#231f20" stroke-width="1"/>
<line x1="1107.97" y1="1503.21" x2="1107.97" y2="1514.69" stroke="#231f20" stroke-width="1"/>
<line x1="1129.49" y1="1503.21" x2="1129.49" y2="1514.69" stroke="#231f20" stroke-width="1"/>
<circle cx="897.7" cy="1254.55" r="7.53" fill="#7c5db0"/>
<circle cx="925.33" cy="1254.55" r="2.15" fill="#3f3199"/>
<circle cx="948.65" cy="1254.55" r="6.46" fill="#5c40a5"/>
<circle cx="976.28" cy="1254.55" r="10.76" fill="#302b90"/>
<circle cx="1003.91" cy="1254.55" r="3.59" fill="#302b90"/>
<circle cx="1031.9" cy="1254.55" r="7.89" fill="#7b5cb0"/>
<circle cx="1059.53" cy="1254.55" r="5.38" fill="#302b90"/>
<circle cx="1082.85" cy="1254.55" r="2.87" fill="#3b2f96"/>
<circle cx="1106.17" cy="1254.55" r="9.33" fill="#302b90"/>
<circle cx="1134.16" cy="1254.55" r="6.82" fill="#302b90"/>
<circle cx="897.7" cy="1350" r="9.33" fill="#8e1b1c"/>
<circle cx="925.33" cy="1350" r="4.31" fill="#b5432e"/>
<circle cx="948.65" cy="1350" r="8.61" fill="#9e2a22"/>
<circle cx="976.28" cy="1350" r="11.48" fill="#b04530"/>
<circle cx="1003.91" cy="1350" r="6.1" fill="#c0573f"/>
<circle cx="1031.9" cy="1350" r="9.33" fill="#8e1b1c"/>
<circle cx="1059.53" cy="1350" r="8.61" fill="#e8b8a8"/>
<circle cx="1082.85" cy="1350" r="5.74" fill="#b5402c"/>
<circle cx="1106.17" cy="1350" r="11.12" fill="#b04530"/>
<circle cx="1134.16" cy="1350" r="9.69" fill="#c4604a"/>
<circle cx="897.7" cy="1445.8" r="7.89" fill="#c0a8d8"/>
<circle cx="925.33" cy="1445.8" r="3.23" fill="#fbeeea"/>
<circle cx="948.65" cy="1445.8" r="7.53" fill="#e4deee"/>
<circle cx="976.28" cy="1445.8" r="11.12" fill="#f5ddd6"/>
<circle cx="1003.91" cy="1445.8" r="5.02" fill="#ecc0b4"/>
<circle cx="1031.9" cy="1445.8" r="8.25" fill="#b8a0d0"/>
<circle cx="1059.53" cy="1445.8" r="7.89" fill="#c05a42"/>
<circle cx="1082.85" cy="1445.8" r="4.66" fill="#f8e4de"/>
<circle cx="1106.17" cy="1445.8" r="10.41" fill="#f5ddd6"/>
<circle cx="1134.16" cy="1445.8" r="8.61" fill="#e8b5a8"/>
<text transform="translate(768.89 1247.38) scale(0.9437 1)" font-size="27"><tspan font-style="italic">P301S</tspan></text>
<text transform="translate(768.89 1279.67) scale(1.0260 1)" font-size="27"><tspan font-style="italic">Cgas</tspan><tspan font-size="16.74" dy="-11.34">+/+</tspan></text>
<text transform="translate(768.89 1341.39) scale(0.9437 1)" font-size="27"><tspan font-style="italic">P301S</tspan></text>
<text transform="translate(768.89 1374.75) scale(1.0260 1)" font-size="27"><tspan font-style="italic">Cgas</tspan><tspan font-size="16.74" dy="-11.34">−/−</tspan></text>
<text transform="translate(768.89 1454.41) scale(1.0260 1)" font-size="27"><tspan font-style="italic">Cgas</tspan><tspan font-size="16.74" dy="-11.34">+/+</tspan></text>
<text transform="translate(906.67 1529.04) rotate(-90) scale(0.9822 1)" font-size="27.5" text-anchor="end"><tspan font-style="italic">Mef2c</tspan></text>
<text transform="translate(932.51 1529.04) rotate(-90) scale(0.9748 1)" font-size="27.5" text-anchor="end"><tspan font-style="italic">Vwa5b2</tspan></text>
<text transform="translate(958.34 1529.04) rotate(-90) scale(0.9695 1)" font-size="27.5" text-anchor="end"><tspan font-style="italic">Sfxn5</tspan></text>
<text transform="translate(984.18 1529.04) rotate(-90) scale(0.9436 1)" font-size="27.5" text-anchor="end"><tspan font-style="italic">Srcin1</tspan></text>
<text transform="translate(1010.01 1529.04) rotate(-90) scale(1.0194 1)" font-size="27.5" text-anchor="end"><tspan font-style="italic">Ptprt</tspan></text>
<text transform="translate(1035.84 1529.04) rotate(-90) scale(0.9497 1)" font-size="27.5" text-anchor="end"><tspan font-style="italic">Peg3</tspan></text>
<text transform="translate(1061.68 1529.04) rotate(-90) scale(0.9584 1)" font-size="27.5" text-anchor="end"><tspan font-style="italic">Spock1</tspan></text>
<text transform="translate(1087.51 1529.04) rotate(-90) scale(0.9669 1)" font-size="27.5" text-anchor="end"><tspan font-style="italic">Tshz2</tspan></text>
<text transform="translate(1113.35 1529.04) rotate(-90) scale(1.0207 1)" font-size="27.5" text-anchor="end"><tspan font-style="italic">Ncald</tspan></text>
<text transform="translate(1139.18 1529.04) rotate(-90) scale(0.9449 1)" font-size="27.5" text-anchor="end"><tspan font-style="italic">Rasgef1b</tspan></text>
<text transform="translate(1204.13 1211.5) scale(0.8883 1)" font-size="24.5">Percent</text>
<text transform="translate(1204.13 1238.41) scale(0.9643 1)" font-size="24.5">expressed</text>
<circle cx="1215.97" cy="1253.48" r="3.59" fill="#231f20"/>
<text transform="translate(1239.29 1261.78) scale(1.0833 1)" font-size="23.5">40</text>
<circle cx="1215.97" cy="1275.72" r="7.18" fill="#231f20"/>
<text transform="translate(1239.29 1284.02) scale(1.0833 1)" font-size="23.5">60</text>
<circle cx="1215.97" cy="1298.33" r="10.76" fill="#231f20"/>
<text transform="translate(1239.29 1306.63) scale(1.0788 1)" font-size="23.5">80</text>
<text transform="translate(1204.13 1346.77) scale(0.9580 1)" font-size="24.5">Average</text>
<text transform="translate(1204.13 1374.75) scale(0.9748 1)" font-size="24.5">expression</text>
<linearGradient id="ig" x1="0" x2="0" y1="0" y2="1"><stop offset="0" stop-color="#8b1a1a"/><stop offset="0.08" stop-color="#98241f"/><stop offset="0.28" stop-color="#c86a55"/><stop offset="0.5" stop-color="#ffffff"/><stop offset="0.72" stop-color="#9f8cc6"/><stop offset="0.92" stop-color="#3d3297"/><stop offset="1" stop-color="#2b2a8c"/></linearGradient>
<rect x="1204.84" y="1389.82" width="22.96" height="114.1" fill="url(#ig)"/>
<line x1="1223.81" y1="1397" x2="1227.81" y2="1397" stroke="#ffffff" stroke-width="1" opacity="0.8"/>
<text transform="translate(1239.29 1405.3) scale(0.9208 1)" font-size="23.5">1.0</text>
<line x1="1223.81" y1="1422.48" x2="1227.81" y2="1422.48" stroke="#ffffff" stroke-width="1" opacity="0.8"/>
<text transform="translate(1239.29 1430.78) scale(1.0071 1)" font-size="23.5">0.5</text>
<line x1="1223.81" y1="1447.23" x2="1227.81" y2="1447.23" stroke="#ffffff" stroke-width="1" opacity="0.8"/>
<text transform="translate(1239.29 1455.53) scale(1.1418 1)" font-size="23.5">0</text>
<line x1="1223.81" y1="1472.35" x2="1227.81" y2="1472.35" stroke="#ffffff" stroke-width="1" opacity="0.8"/>
<text transform="translate(1239.29 1480.65) scale(0.9726 1)" font-size="23.5">−0.5</text>
<line x1="1223.81" y1="1497.47" x2="1227.81" y2="1497.47" stroke="#ffffff" stroke-width="1" opacity="0.8"/>
<text transform="translate(1239.29 1505.77) scale(0.9118 1)" font-size="23.5">−1.0</text>
<text transform="translate(1484 1175.8) scale(1.16 1)" font-size="33" font-weight="bold" stroke="#231f20" stroke-width="0.9" stroke-linejoin="round">j</text>
<text transform="translate(1589.53 1175.82) scale(1.1072 1)" font-size="26">IN, cognitive resilience</text>
<line x1="1614.22" y1="1190.37" x2="1614.22" y2="1502.61" stroke="#808080" stroke-width="1.2"/>
<line x1="1614.22" y1="1502.61" x2="1852.72" y2="1502.61" stroke="#808080" stroke-width="1.2"/>
<line x1="1603.06" y1="1248.89" x2="1614.22" y2="1248.89" stroke="#231f20" stroke-width="1"/>
<line x1="1603.06" y1="1346.32" x2="1614.22" y2="1346.32" stroke="#231f20" stroke-width="1"/>
<line x1="1603.06" y1="1444.09" x2="1614.22" y2="1444.09" stroke="#231f20" stroke-width="1"/>
<line x1="1631.47" y1="1502.61" x2="1631.47" y2="1514.11" stroke="#808080" stroke-width="1.2"/>
<line x1="1660.57" y1="1502.61" x2="1660.57" y2="1514.11" stroke="#808080" stroke-width="1.2"/>
<line x1="1689.66" y1="1502.61" x2="1689.66" y2="1514.11" stroke="#808080" stroke-width="1.2"/>
<line x1="1718.76" y1="1502.61" x2="1718.76" y2="1514.11" stroke="#808080" stroke-width="1.2"/>
<line x1="1747.51" y1="1502.61" x2="1747.51" y2="1514.11" stroke="#808080" stroke-width="1.2"/>
<line x1="1776.94" y1="1502.61" x2="1776.94" y2="1514.11" stroke="#808080" stroke-width="1.2"/>
<line x1="1805.7" y1="1502.61" x2="1805.7" y2="1514.11" stroke="#808080" stroke-width="1.2"/>
<line x1="1834.79" y1="1502.61" x2="1834.79" y2="1514.11" stroke="#808080" stroke-width="1.2"/>
<circle cx="1631.47" cy="1248.89" r="9.81" fill="#2f2b8f"/>
<circle cx="1660.57" cy="1248.89" r="5.75" fill="#4a35a0"/>
<circle cx="1689.66" cy="1248.89" r="10.83" fill="#4a35a0"/>
<circle cx="1718.76" cy="1248.89" r="9.81" fill="#9a80c4"/>
<circle cx="1747.51" cy="1248.89" r="10.49" fill="#6a4fb0"/>
<circle cx="1776.94" cy="1248.89" r="9.47" fill="#4530a0"/>
<circle cx="1805.7" cy="1248.89" r="5.07" fill="#5a40a8"/>
<circle cx="1834.79" cy="1248.89" r="9.81" fill="#2f2b8f"/>
<circle cx="1631.47" cy="1346.32" r="10.83" fill="#c4604a"/>
<circle cx="1660.57" cy="1346.32" r="7.44" fill="#b04530"/>
<circle cx="1689.66" cy="1346.32" r="11.5" fill="#a83828"/>
<circle cx="1718.76" cy="1346.32" r="10.83" fill="#8e1b1c"/>
<circle cx="1747.51" cy="1346.32" r="11.16" fill="#9a2020"/>
<circle cx="1776.94" cy="1346.32" r="10.49" fill="#a83828"/>
<circle cx="1805.7" cy="1346.32" r="6.43" fill="#b03828"/>
<circle cx="1834.79" cy="1346.32" r="10.49" fill="#d4806c"/>
<circle cx="1631.47" cy="1444.09" r="10.49" fill="#e4a898"/>
<circle cx="1660.57" cy="1444.09" r="6.43" fill="#fcf0ec"/>
<circle cx="1689.66" cy="1444.09" r="11.16" fill="#fbf9fc"/>
<circle cx="1718.76" cy="1444.09" r="10.15" fill="#8e70bc"/>
<circle cx="1747.51" cy="1444.09" r="10.83" fill="#d4c4e4"/>
<circle cx="1776.94" cy="1444.09" r="10.15" fill="#fdf8f4"/>
<circle cx="1805.7" cy="1444.09" r="5.41" fill="#f4f0f8"/>
<circle cx="1834.79" cy="1444.09" r="10.49" fill="#d88874"/>
<text transform="translate(1498.19 1241.11) scale(0.9437 1)" font-size="27"><tspan font-style="italic">P301S</tspan></text>
<text transform="translate(1498.19 1273.92) scale(1.0260 1)" font-size="27"><tspan font-style="italic">Cgas</tspan><tspan font-size="16.74" dy="-11.34">+/+</tspan></text>
<text transform="translate(1498.19 1338.88) scale(0.9437 1)" font-size="27"><tspan font-style="italic">P301S</tspan></text>
<text transform="translate(1498.19 1372.03) scale(1.0260 1)" font-size="27"><tspan font-style="italic">Cgas</tspan><tspan font-size="16.74" dy="-11.34">−/−</tspan></text>
<text transform="translate(1498.19 1454.24) scale(1.0260 1)" font-size="27"><tspan font-style="italic">Cgas</tspan><tspan font-size="16.74" dy="-11.34">+/+</tspan></text>
<text transform="translate(1640.27 1529.34) rotate(-90) scale(0.9712 1)" font-size="27.5" text-anchor="end"><tspan font-style="italic">Mef2c</tspan></text>
<text transform="translate(1669.36 1529.34) rotate(-90) scale(0.9599 1)" font-size="27.5" text-anchor="end"><tspan font-style="italic">Vwa5b2</tspan></text>
<text transform="translate(1697.78 1529.34) rotate(-90) scale(0.9055 1)" font-size="27.5" text-anchor="end"><tspan font-style="italic">Grin1</tspan></text>
<text transform="translate(1727.55 1529.34) rotate(-90) scale(0.9681 1)" font-size="27.5" text-anchor="end"><tspan font-style="italic">Edil3</tspan></text>
<text transform="translate(1756.31 1529.34) rotate(-90) scale(0.9376 1)" font-size="27.5" text-anchor="end"><tspan font-style="italic">Peg3</tspan></text>
<text transform="translate(1785.74 1529.34) rotate(-90)" font-size="27.5" text-anchor="end"><tspan font-style="italic">Ncald</tspan></text>
<text transform="translate(1813.82 1529.34) rotate(-90) scale(0.9930 1)" font-size="27.5" text-anchor="end"><tspan font-style="italic">Igsf3</tspan></text>
<text transform="translate(1844.26 1529.34) rotate(-90) scale(0.9764 1)" font-size="27.5" text-anchor="end"><tspan font-style="italic">R3hdm2</tspan></text>
<text transform="translate(1873.02 1217.43) scale(0.8883 1)" font-size="24.5">Percent</text>
<text transform="translate(1873.02 1244.49) scale(0.9643 1)" font-size="24.5">expressed</text>
<circle cx="1884.86" cy="1258.7" r="1.01" fill="#231f20"/>
<text transform="translate(1908.54 1267) scale(1.1418 1)" font-size="23.5">0</text>
<circle cx="1884.86" cy="1281.71" r="4.06" fill="#231f20"/>
<text transform="translate(1908.54 1290.01) scale(0.9170 1)" font-size="23.5">25</text>
<circle cx="1884.86" cy="1304.37" r="7.1" fill="#231f20"/>
<text transform="translate(1908.54 1312.67) scale(1.0384 1)" font-size="23.5">50</text>
<circle cx="1884.86" cy="1327.04" r="9.81" fill="#231f20"/>
<text transform="translate(1908.54 1335.34) scale(0.8586 1)" font-size="23.5">75</text>
<text transform="translate(1873.02 1366.96) scale(0.9580 1)" font-size="24.5">Average</text>
<text transform="translate(1873.02 1394.02) scale(0.9748 1)" font-size="24.5">expression</text>
<linearGradient id="jg" x1="0" x2="0" y1="0" y2="1"><stop offset="0" stop-color="#8b1a1a"/><stop offset="0.08" stop-color="#98241f"/><stop offset="0.28" stop-color="#c86a55"/><stop offset="0.5" stop-color="#ffffff"/><stop offset="0.72" stop-color="#9f8cc6"/><stop offset="0.92" stop-color="#3d3297"/><stop offset="1" stop-color="#2b2a8c"/></linearGradient>
<rect x="1873.02" y="1405.86" width="23" height="114.01" fill="url(#jg)"/>
<line x1="1892.02" y1="1413.3" x2="1896.02" y2="1413.3" stroke="#ffffff" stroke-width="1" opacity="0.8"/>
<text transform="translate(1908.54 1421.6) scale(0.9208 1)" font-size="23.5">1.0</text>
<line x1="1892.02" y1="1438" x2="1896.02" y2="1438" stroke="#ffffff" stroke-width="1" opacity="0.8"/>
<text transform="translate(1908.54 1446.3) scale(1.0071 1)" font-size="23.5">0.5</text>
<line x1="1892.02" y1="1462.69" x2="1896.02" y2="1462.69" stroke="#ffffff" stroke-width="1" opacity="0.8"/>
<text transform="translate(1908.54 1470.99) scale(1.1418 1)" font-size="23.5">0</text>
<line x1="1892.02" y1="1487.39" x2="1896.02" y2="1487.39" stroke="#ffffff" stroke-width="1" opacity="0.8"/>
<text transform="translate(1908.54 1495.69) scale(0.9726 1)" font-size="23.5">−0.5</text>
<line x1="1892.02" y1="1511.75" x2="1896.02" y2="1511.75" stroke="#ffffff" stroke-width="1" opacity="0.8"/>
<text transform="translate(1908.54 1520.05) scale(0.9118 1)" font-size="23.5">−1.0</text>
<text transform="translate(0 1707.5) scale(1.16 1)" font-size="33" font-weight="bold" stroke="#231f20" stroke-width="0.9" stroke-linejoin="round">k</text>
<path d="M113.4 1853.3h0M141.1 1865.3h0M131.4 1893h0M120.6 1912.3h0M156.8 1922h0M159.6 1887.2h0M173.9 1852.4h0M167 1945.3h0M184.3 1921.3h0M184 1944.2h0M190.7 1885.4h0M192.1 1946.5h0M198.6 1909.1h0M201.8 1886.3h0M203.6 1885.8h0M206.6 1906.3h0M210.8 1907.3h0M210.3 1864.8h0M211.5 1953.6h0M217.5 1846.1h0M218.9 1919.5h0M220.9 1923.6h0M223.2 1970h0M225.8 1939.3h0M227.2 1927.3h0M229.2 1927.3h0M228.5 1717.7h0M231.5 1918.3h0M232.9 1906.8h0M233.4 1888.8h0M235.2 1739.8h0M235.2 1933.8h0M235.7 1963.3h0M240.5 1812.2h0M241.9 1926.9h0M244.2 1890h0M245.6 1889.3h0M248.1 1883.3h0M248.6 1868.5h0M259.4 1867.6h0M260.4 1889h0M260.4 1908.2h0M259.9 1929.4h0M262 1925.7h0M262.9 1831.6h0M267.5 1923.2h0M267.7 1925.5h0M269.6 1939.1h0M269.1 1965.6h0M270.3 1889.3h0M271 1913.7h0M275.8 1930.6h0M283.4 1919.5h0M284.6 1890.2h0M285.5 1922.5h0M290.8 2014.1h0M299.1 1919.3h0M307.2 1821.7h0M307.7 1967.9h0M312.5 2014.1h0M327.5 1850.1h0M338.6 1927.6h0M353.8 1825.2h0M357.2 1980.6h0M367.4 1939.3h0M388.6 1970.7h0M390.7 2014.1h0M401.1 1945.3h0M468.4 1965.9h0M493.3 1987.3h0" stroke="#231f20" stroke-width="5.2" stroke-linecap="round" fill="none"/>
<path d="M113.91 1848.46L149.19 1863.45L183.79 1877.98L218.39 1889.51L252.99 1898.74L287.58 1905.66L322.18 1910.27L356.78 1914.19L402.91 1918.8L449.04 1922.49L493.32 1925.72L493.32 2010.6L449.04 1992.15L402.91 1973.24L356.78 1954.78L322.18 1942.56L287.58 1931.03L252.99 1921.8L218.39 1914.19L183.79 1908.65L149.19 1904.5L113.91 1901.74Z" fill="#b3b3b3" opacity="0.45"/>
<line x1="113.91" y1="1875.21" x2="493.32" y2="1968.62" stroke="#4062b4" stroke-width="3.2"/>
<path d="M94.99 1704.3V2029.75H524" fill="none" stroke="#333333" stroke-width="1.2"/>
<line x1="84.99" y1="1784.57" x2="94.99" y2="1784.57" stroke="#333333" stroke-width="1.2"/>
<text transform="translate(73.99 1792.87) scale(0.9305 1)" font-size="23.5" text-anchor="end">10</text>
<line x1="84.99" y1="1900.12" x2="94.99" y2="1900.12" stroke="#333333" stroke-width="1.2"/>
<text transform="translate(73.99 1908.42) scale(0.8990 1)" font-size="23.5" text-anchor="end">5</text>
<line x1="84.99" y1="2015.45" x2="94.99" y2="2015.45" stroke="#333333" stroke-width="1.2"/>
<text transform="translate(73.99 2023.75) scale(1.1418 1)" font-size="23.5" text-anchor="end">0</text>
<line x1="104.22" y1="2029.75" x2="104.22" y2="2040.25" stroke="#333333" stroke-width="1.2"/>
<text transform="translate(104.22 2066.25) scale(0.8632 1)" font-size="23.5" text-anchor="middle">7.5</text>
<line x1="190.25" y1="2029.75" x2="190.25" y2="2040.25" stroke="#333333" stroke-width="1.2"/>
<text transform="translate(190.25 2066.25) scale(0.9942 1)" font-size="23.5" text-anchor="middle">10.0</text>
<line x1="276.05" y1="2029.75" x2="276.05" y2="2040.25" stroke="#333333" stroke-width="1.2"/>
<text transform="translate(276.05 2066.25) scale(0.8555 1)" font-size="23.5" text-anchor="middle">12.5</text>
<line x1="361.85" y1="2029.75" x2="361.85" y2="2040.25" stroke="#333333" stroke-width="1.2"/>
<text transform="translate(361.85 2066.25) scale(0.9248 1)" font-size="23.5" text-anchor="middle">15.0</text>
<line x1="447.65" y1="2029.75" x2="447.65" y2="2040.25" stroke="#333333" stroke-width="1.2"/>
<text transform="translate(447.65 2066.25) scale(0.8221 1)" font-size="23.5" text-anchor="middle">17.5</text>
<text transform="translate(391.84 1729.21) scale(0.8769 1)" font-size="24.5"><tspan font-style="italic">r</tspan><tspan> = −0.31</tspan></text>
<text transform="translate(391.84 1756.43) scale(0.9415 1)" font-size="24.5"><tspan font-style="italic">P</tspan><tspan> = 0.005</tspan></text>
<path d="M665.1 1924.8h0M672.2 1887h0M683 1926.9h0M692.3 1907.5h0M707.7 1929.6h0M710.7 1920.2h0M717.9 1886.3h0M725 1918.3h0M734.7 1929.2h0M735.2 1887.7h0M741.6 1945.6h0M742.8 1936.3h0M749.2 1937.9h0M752.2 1931.5h0M754.3 1935.2h0M757.1 1976h0M761.2 1719.8h0M761.2 1918.3h0M762.2 1932.9h0M767.5 1943.9h0M769.3 1944.9h0M771.4 1921.3h0M773.5 1938.9h0M776.2 1945.3h0M779.2 1943.7h0M782.2 1938.2h0M783.4 1927.6h0M779 1962.4h0M783.8 1962.4h0M785 1959.9h0M786.1 1958h0M777.6 1989.8h0M785.2 1881.7h0M790.8 1881.4h0M791.9 1989.8h0M794.2 1989.8h0M799.1 1989.8h0M795.6 1913.3h0M798.4 1923h0M809.2 1958h0M810.4 1951.3h0M810.4 1936.3h0M813.1 1934.5h0M817.3 1863.7h0M820.5 1872.2h0M819.6 1913.3h0M819.4 1928.5h0M820.3 1946.7h0M817.7 1989.8h0M825.6 1989.8h0M833.4 1949.5h0M834.1 1989.8h0M836 1989.8h0M840.6 1989.8h0M848.7 1925.3h0M856.7 1914.9h0M857.2 1989.8h0M862.3 1989.8h0M877 1924.8h0M887.6 1973.5h0M902.9 1884.4h0M906.1 1844.1h0M916.5 1989.8h0M937.5 1961.7h0M939.5 1989.8h0M949.4 1989.8h0M1016.6 1939.1h0M1041 1989.8h0" stroke="#231f20" stroke-width="5.2" stroke-linecap="round" fill="none"/>
<path d="M665.06 1891.13L699.19 1903.35L733.79 1913.27L768.39 1921.34L802.99 1928.03L837.58 1933.33L872.18 1936.79L906.78 1939.1L952.91 1941.87L999.04 1943.71L1041.02 1945.1L1041.02 2015.68L999.04 2002.53L952.91 1988.69L906.78 1974.85L872.18 1964.47L837.58 1955.25L802.99 1947.87L768.39 1943.02L733.79 1939.56L699.19 1937.26L665.06 1935.64Z" fill="#b3b3b3" opacity="0.45"/>
<line x1="665.06" y1="1913.27" x2="1041.02" y2="1980.16" stroke="#4062b4" stroke-width="3.2"/>
<path d="M646.61 1704.99V2029.98H1059.7" fill="none" stroke="#231f20" stroke-width="1.2"/>
<line x1="636.61" y1="1710.99" x2="646.61" y2="1710.99" stroke="#231f20" stroke-width="1.2"/>
<text transform="translate(625.61 1719.29) scale(0.9100 1)" font-size="23.5" text-anchor="end">2.5</text>
<line x1="636.61" y1="1766.58" x2="646.61" y2="1766.58" stroke="#231f20" stroke-width="1.2"/>
<text transform="translate(625.61 1774.88) scale(1.0071 1)" font-size="23.5" text-anchor="end">2.0</text>
<line x1="636.61" y1="1822.62" x2="646.61" y2="1822.62" stroke="#231f20" stroke-width="1.2"/>
<text transform="translate(625.61 1830.92) scale(0.8237 1)" font-size="23.5" text-anchor="end">1.5</text>
<line x1="636.61" y1="1878.44" x2="646.61" y2="1878.44" stroke="#231f20" stroke-width="1.2"/>
<text transform="translate(625.61 1886.74) scale(0.9208 1)" font-size="23.5" text-anchor="end">1.0</text>
<line x1="636.61" y1="1933.8" x2="646.61" y2="1933.8" stroke="#231f20" stroke-width="1.2"/>
<text transform="translate(625.61 1942.1) scale(1.0071 1)" font-size="23.5" text-anchor="end">0.5</text>
<line x1="636.61" y1="1989.84" x2="646.61" y2="1989.84" stroke="#231f20" stroke-width="1.2"/>
<text transform="translate(625.61 1998.14) scale(1.1418 1)" font-size="23.5" text-anchor="end">0</text>
<line x1="655.83" y1="2029.98" x2="655.83" y2="2040.48" stroke="#231f20" stroke-width="1.2"/>
<text transform="translate(655.83 2066.48) scale(0.8632 1)" font-size="23.5" text-anchor="middle">7.5</text>
<line x1="741.17" y1="2029.98" x2="741.17" y2="2040.48" stroke="#231f20" stroke-width="1.2"/>
<text transform="translate(741.17 2066.48) scale(0.9942 1)" font-size="23.5" text-anchor="middle">10.0</text>
<line x1="826.05" y1="2029.98" x2="826.05" y2="2040.48" stroke="#231f20" stroke-width="1.2"/>
<text transform="translate(826.05 2066.48) scale(0.8555 1)" font-size="23.5" text-anchor="middle">12.5</text>
<line x1="910.93" y1="2029.98" x2="910.93" y2="2040.48" stroke="#231f20" stroke-width="1.2"/>
<text transform="translate(910.93 2066.48) scale(0.9248 1)" font-size="23.5" text-anchor="middle">15.0</text>
<line x1="995.58" y1="2029.98" x2="995.58" y2="2040.48" stroke="#231f20" stroke-width="1.2"/>
<text transform="translate(995.58 2066.48) scale(0.8221 1)" font-size="23.5" text-anchor="middle">17.5</text>
<text transform="translate(944.84 1729.21) scale(0.8932 1)" font-size="24.5"><tspan font-style="italic">r</tspan><tspan> = −0.27</tspan></text>
<text transform="translate(944.84 1756.43) scale(0.8809 1)" font-size="24.5"><tspan font-style="italic">P</tspan><tspan> = 0.014</tspan></text>
<path d="M1197.8 1850.1h0M1249.3 1918.1h0M1264.3 1910.7h0M1273 1938.6h0M1274.4 1885.1h0M1282.9 1862.5h0M1283.6 1907.5h0M1285 1849.1h0M1287.5 1883.7h0M1290.8 1946h0M1292.2 1905.2h0M1293.1 1890.7h0M1301.8 1943.7h0M1306.5 1883.3h0M1307.8 1924.6h0M1315.5 1884.4h0M1318.7 1920h0M1319.4 1916.7h0M1319.4 1922.5h0M1324.2 1928.3h0M1324.7 1905.9h0M1327.7 1907h0M1326.5 1926h0M1324.2 1944.6h0M1326.3 1734.1h0M1338.8 1862.1h0M1338.8 1921.3h0M1348.4 1842.9h0M1348.9 1926.2h0M1350.5 1881h0M1355.4 1920.9h0M1357.9 1887.9h0M1358.6 1953.2h0M1362.3 1921.8h0M1364.8 1932.6h0M1367.6 1828.2h0M1367.8 1970h0M1370.4 1980.8h0M1370.6 1808.1h0M1376.3 1711.2h0M1378.4 1904.7h0M1379.8 1938.4h0M1380.3 1967.7h0M1381.9 1887.2h0M1382.3 1817.8h0M1385.1 1887.4h0M1393.2 1912.3h0M1397.8 1887.9h0M1398.5 1887.4h0M1400.3 1924.3h0M1404.7 1886.7h0M1408.6 1929.4h0M1411.6 1963.1h0M1417.4 1865.1h0M1430.6 1938.6h0M1433.8 2015h0M1437.7 1926.2h0M1437.9 1965.4h0M1454.1 1918.1h0M1459.4 1944.9h0M1470.2 1847.1h0M1473.5 1965.6h0M1474.8 1866h0M1479.2 2015h0M1485.7 1918.1h0M1485.7 1987.5h0M1487.1 1821.5h0M1497.9 2015h0M1505.7 1970.5h0M1586.7 1926.6h0" stroke="#231f20" stroke-width="5.2" stroke-linecap="round" fill="none"/>
<path d="M1197.83 1841.77L1229.19 1854.91L1263.79 1868.06L1298.39 1879.13L1332.99 1888.36L1367.58 1895.28L1402.18 1899.89L1436.78 1902.66L1482.91 1905.2L1529.04 1906.81L1586.7 1908.19L1586.7 1989.38L1529.04 1967.93L1482.91 1951.79L1436.78 1937.95L1402.18 1929.87L1367.58 1922.96L1332.99 1917.19L1298.39 1912.58L1263.79 1910.27L1229.19 1908.65L1197.83 1907.73Z" fill="#b3b3b3" opacity="0.45"/>
<line x1="1197.83" y1="1875.21" x2="1586.7" y2="1948.79" stroke="#4062b4" stroke-width="3.2"/>
<path d="M1178.45 1696.46V2029.98H1605.61" fill="none" stroke="#4d4d4d" stroke-width="1.2"/>
<line x1="1168.45" y1="1778.34" x2="1178.45" y2="1778.34" stroke="#4d4d4d" stroke-width="1.2"/>
<text transform="translate(1157.45 1786.64) scale(0.9305 1)" font-size="23.5" text-anchor="end">10</text>
<line x1="1168.45" y1="1896.66" x2="1178.45" y2="1896.66" stroke="#4d4d4d" stroke-width="1.2"/>
<text transform="translate(1157.45 1904.96) scale(0.8990 1)" font-size="23.5" text-anchor="end">5</text>
<line x1="1168.45" y1="2014.98" x2="1178.45" y2="2014.98" stroke="#4d4d4d" stroke-width="1.2"/>
<text transform="translate(1157.45 2023.28) scale(1.1418 1)" font-size="23.5" text-anchor="end">0</text>
<line x1="1195.75" y1="2029.98" x2="1195.75" y2="2040.48" stroke="#4d4d4d" stroke-width="1.2"/>
<text transform="translate(1195.75 2066.48) scale(0.8990 1)" font-size="23.5" text-anchor="middle">5</text>
<line x1="1298.39" y1="2029.98" x2="1298.39" y2="2040.48" stroke="#4d4d4d" stroke-width="1.2"/>
<text transform="translate(1298.39 2066.48) scale(0.9305 1)" font-size="23.5" text-anchor="middle">10</text>
<line x1="1401.49" y1="2029.98" x2="1401.49" y2="2040.48" stroke="#4d4d4d" stroke-width="1.2"/>
<text transform="translate(1401.49 2066.48) scale(0.8091 1)" font-size="23.5" text-anchor="middle">15</text>
<line x1="1504.36" y1="2029.98" x2="1504.36" y2="2040.48" stroke="#4d4d4d" stroke-width="1.2"/>
<text transform="translate(1504.36 2066.48) scale(1.0384 1)" font-size="23.5" text-anchor="middle">20</text>
<text transform="translate(1471.84 1729.21) scale(0.9055 1)" font-size="24.5"><tspan font-style="italic">r</tspan><tspan> = −0.22</tspan></text>
<text transform="translate(1471.84 1756.43) scale(0.9245 1)" font-size="24.5"><tspan font-style="italic">P</tspan><tspan> = 0.035</tspan></text>
<path d="M1749.6 1922.2h0M1801.7 1943.4h0M1817.4 1881.8h0M1826.4 1944.1h0M1827.8 1917.6h0M1836.3 1903.7h0M1836.8 1936h0M1838.4 1915.3h0M1840.9 1933.7h0M1844.4 1934.4h0M1845.5 1925.6h0M1846.7 1924.5h0M1855.5 1927h0M1860.1 1944.6h0M1861.7 1935.1h0M1869.5 1928.6h0M1872.3 1882.5h0M1873.5 1918.7h0M1873.5 1936.5h0M1878.5 1880.9h0M1878.5 1935.1h0M1879 1915.3h0M1881.8 1951h0M1880.6 1959.5h0M1880.8 1991.8h0M1892.8 1991.8h0M1893.1 1703.1h0M1903.2 1942h0M1905.1 1920.1h0M1909.9 1927.5h0M1912.7 1991.8h0M1913.4 1930.9h0M1916.8 1857.1h0M1919.6 1876.3h0M1922.6 1932.6h0M1922.8 1937.2h0M1925.4 1876.1h0M1925.1 1836.1h0M1931.3 1962.3h0M1933.2 1976.8h0M1935.3 1991.8h0M1934.6 1909.7h0M1937.3 1911.8h0M1940.1 1909.7h0M1936.9 1950.1h0M1948.4 1865.9h0M1953.5 1945.7h0M1953.3 1991.8h0M1955.6 1991.8h0M1960.2 1962.5h0M1964.1 1991.8h0M1967.3 1957.7h0M1973.1 1957.7h0M1986.5 1991.8h0M1990.4 1991.8h0M1993.9 1991.8h0M1994.1 1926.3h0M2010.5 1948.5h0M2015.5 1991.8h0M2026.6 1922.2h0M2030.3 1937.4h0M2031.2 1991.8h0M2035.8 1991.8h0M2042.5 1922.4h0M2042.8 1991.8h0M2044.1 1879h0M2055 1991.8h0M2063.3 1961.6h0M2144.9 1974.1h0" stroke="#231f20" stroke-width="5.2" stroke-linecap="round" fill="none"/>
<path d="M1749.6 1873.28L1784.19 1886.43L1818.79 1897.96L1853.39 1908.34L1887.99 1917.57L1922.58 1925.64L1957.18 1931.41L1991.78 1936.02L2037.91 1940.63L2084.04 1944.09L2144.93 1946.4L2144.93 2013.75L2084.04 1993.68L2037.91 1978.69L1991.78 1964.85L1957.18 1955.63L1922.58 1948.71L1887.99 1942.94L1853.39 1938.33L1818.79 1934.41L1784.19 1931.41L1749.6 1929.1Z" fill="#b3b3b3" opacity="0.45"/>
<line x1="1749.6" y1="1901.42" x2="2144.93" y2="1980.3" stroke="#4062b4" stroke-width="3.2"/>
<path d="M1730.22 1687.61V2030.36H2166" fill="none" stroke="#4d4d4d" stroke-width="1.2"/>
<line x1="1720.22" y1="1693.84" x2="1730.22" y2="1693.84" stroke="#4d4d4d" stroke-width="1.2"/>
<text transform="translate(1709.22 1702.14) scale(0.9100 1)" font-size="23.5" text-anchor="end">2.5</text>
<line x1="1720.22" y1="1753.35" x2="1730.22" y2="1753.35" stroke="#4d4d4d" stroke-width="1.2"/>
<text transform="translate(1709.22 1761.65) scale(1.0071 1)" font-size="23.5" text-anchor="end">2.0</text>
<line x1="1720.22" y1="1812.85" x2="1730.22" y2="1812.85" stroke="#4d4d4d" stroke-width="1.2"/>
<text transform="translate(1709.22 1821.15) scale(0.8237 1)" font-size="23.5" text-anchor="end">1.5</text>
<line x1="1720.22" y1="1872.36" x2="1730.22" y2="1872.36" stroke="#4d4d4d" stroke-width="1.2"/>
<text transform="translate(1709.22 1880.66) scale(0.9208 1)" font-size="23.5" text-anchor="end">1.0</text>
<line x1="1720.22" y1="1932.1" x2="1730.22" y2="1932.1" stroke="#4d4d4d" stroke-width="1.2"/>
<text transform="translate(1709.22 1940.4) scale(1.0071 1)" font-size="23.5" text-anchor="end">0.5</text>
<line x1="1720.22" y1="1991.84" x2="1730.22" y2="1991.84" stroke="#4d4d4d" stroke-width="1.2"/>
<text transform="translate(1709.22 2000.14) scale(1.1418 1)" font-size="23.5" text-anchor="end">0</text>
<line x1="1747.98" y1="2030.36" x2="1747.98" y2="2040.86" stroke="#4d4d4d" stroke-width="1.2"/>
<text transform="translate(1747.98 2066.86) scale(0.8990 1)" font-size="23.5" text-anchor="middle">5</text>
<line x1="1852.7" y1="2030.36" x2="1852.7" y2="2040.86" stroke="#4d4d4d" stroke-width="1.2"/>
<text transform="translate(1852.7 2066.86) scale(0.9305 1)" font-size="23.5" text-anchor="middle">10</text>
<line x1="1956.95" y1="2030.36" x2="1956.95" y2="2040.86" stroke="#4d4d4d" stroke-width="1.2"/>
<text transform="translate(1956.95 2066.86) scale(0.8091 1)" font-size="23.5" text-anchor="middle">15</text>
<line x1="2061.2" y1="2030.36" x2="2061.2" y2="2040.86" stroke="#4d4d4d" stroke-width="1.2"/>
<text transform="translate(2061.2 2066.86) scale(1.0384 1)" font-size="23.5" text-anchor="middle">20</text>
<text transform="translate(2042.52 1729.13) scale(0.9126 1)" font-size="24.5"><tspan font-style="italic">r</tspan><tspan> = −0.29</tspan></text>
<text transform="translate(2042.52 1756.11) scale(0.9396 1)" font-size="24.5"><tspan font-style="italic">P</tspan><tspan> = 0.008</tspan></text>
<text transform="translate(23.5 1867.8) rotate(-90) scale(1.0477 1)" font-size="26" text-anchor="middle"><tspan font-style="italic">RNF213</tspan><tspan> microglia</tspan></text>
<text transform="translate(564 1866.7) rotate(-90) scale(1.0502 1)" font-size="26" text-anchor="middle"><tspan font-style="italic">IRF3</tspan><tspan> microglia</tspan></text>
<text transform="translate(1106.8 1864) rotate(-90) scale(1.0477 1)" font-size="26" text-anchor="middle"><tspan font-style="italic">RNF213</tspan><tspan> microglia</tspan></text>
<text transform="translate(1650.4 1858) rotate(-90) scale(1.0502 1)" font-size="26" text-anchor="middle"><tspan font-style="italic">IRF3</tspan><tspan> microglia</tspan></text>
<text transform="translate(309 2111.2) scale(0.9830 1)" font-size="26" text-anchor="middle"><tspan font-style="italic">MEF2C</tspan><tspan> ENs</tspan></text>
<text transform="translate(853 2111.2) scale(0.9830 1)" font-size="26" text-anchor="middle"><tspan font-style="italic">MEF2C</tspan><tspan> ENs</tspan></text>
<text transform="translate(1391.8 2111.2) scale(1.0049 1)" font-size="26" text-anchor="middle"><tspan font-style="italic">MEF2C</tspan><tspan> INs</tspan></text>
<text transform="translate(1946.5 2111.2) scale(1.0049 1)" font-size="26" text-anchor="middle"><tspan font-style="italic">MEF2C</tspan><tspan> INs</tspan></text>
</svg></body></html>
